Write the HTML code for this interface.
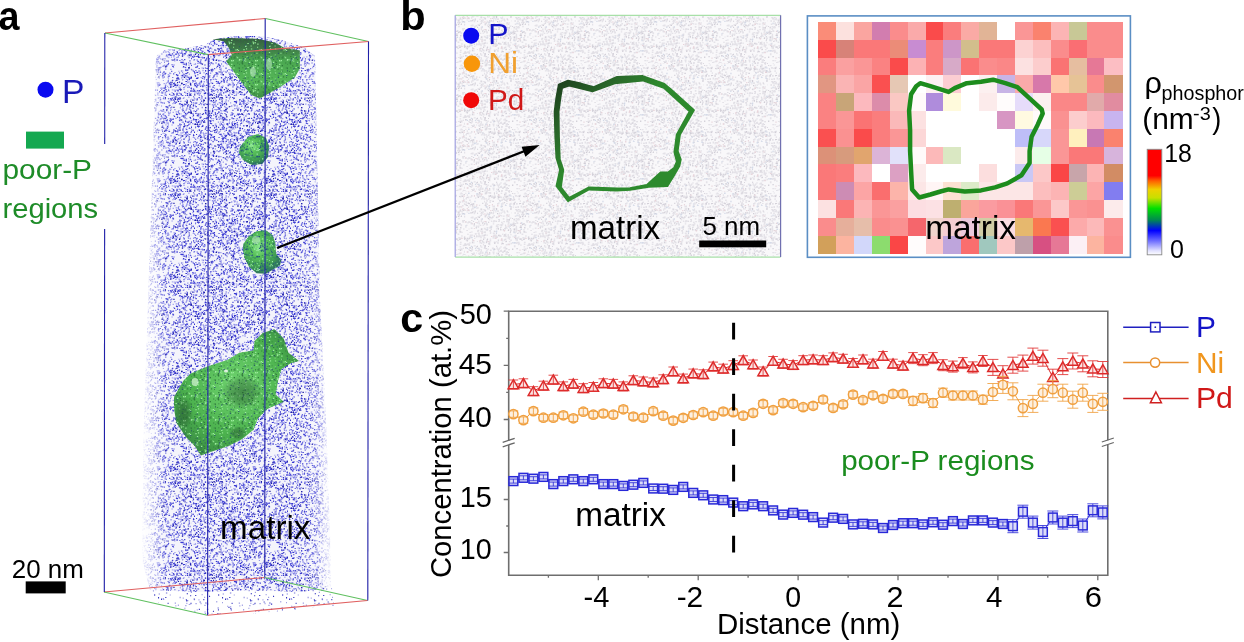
<!DOCTYPE html>
<html><head><meta charset="utf-8"><title>figure</title>
<style>html,body{margin:0;padding:0;background:#fff;}body{width:1244px;height:642px;overflow:hidden;font-family:"Liberation Sans",sans-serif;}svg{display:block;will-change:transform;}</style>
</head><body>
<svg width="1244" height="642" viewBox="0 0 1244 642" font-family="Liberation Sans, sans-serif">
<defs><pattern id="pc" width="96" height="96" patternUnits="userSpaceOnUse"><path d="M22.8 52.2h1.2v1.3h-1.2zM60.1 6.3h1.0v1.4h-1.0zM24.9 22.5h1.5v1.2h-1.5zM80.3 45.7h1.3v1.1h-1.3zM60.9 83.3h1.3v1.4h-1.3zM64.5 6.1h1.4v1.3h-1.4zM28.9 3.0h1.4v1.2h-1.4zM69.0 84.4h1.4v1.5h-1.4zM37.9 76.9h1.2v1.5h-1.2zM84.4 9.4h1.1v1.1h-1.1zM92.7 41.9h1.3v1.2h-1.3zM48.7 37.0h1.2v1.3h-1.2zM56.1 86.8h1.3v1.5h-1.3zM82.2 95.1h1.3v1.1h-1.3zM82.6 92.6h1.5v1.3h-1.5zM68.5 20.3h1.4v1.3h-1.4zM27.4 6.1h1.4v1.5h-1.4zM8.5 76.9h1.2v1.1h-1.2zM28.2 73.8h1.4v1.0h-1.4zM59.0 4.3h1.4v1.2h-1.4zM84.6 94.1h1.3v1.5h-1.3zM29.7 7.4h1.3v1.0h-1.3zM18.9 39.2h1.3v1.1h-1.3zM4.1 83.3h1.2v1.5h-1.2zM86.1 36.3h1.2v1.3h-1.2zM61.8 57.2h1.3v1.3h-1.3zM90.3 48.7h1.2v1.4h-1.2zM22.8 28.9h1.5v1.3h-1.5zM52.6 1.1h1.2v1.3h-1.2zM1.9 59.1h1.3v1.0h-1.3zM60.2 44.8h1.3v1.2h-1.3zM67.9 70.9h1.0v1.0h-1.0zM64.9 92.5h1.1v1.2h-1.1zM56.9 30.7h1.2v1.2h-1.2zM35.4 57.2h1.2v1.2h-1.2zM74.1 2.6h1.3v1.4h-1.3zM29.8 21.4h1.4v1.1h-1.4zM18.0 41.8h1.3v1.1h-1.3zM30.9 32.0h1.4v1.2h-1.4zM82.1 16.3h1.2v1.3h-1.2zM85.0 43.3h1.1v1.1h-1.1zM50.8 18.3h1.4v1.4h-1.4zM17.6 26.7h1.4v1.3h-1.4zM77.4 33.1h1.1v1.1h-1.1zM76.2 26.0h1.2v1.2h-1.2zM40.3 39.3h1.5v1.1h-1.5zM0.4 90.6h1.4v1.5h-1.4zM41.7 91.2h1.5v1.1h-1.5zM71.6 80.3h1.3v1.3h-1.3zM27.7 32.7h1.1v1.0h-1.1zM56.5 27.6h1.4v1.0h-1.4zM86.7 66.6h1.5v1.4h-1.5zM86.4 55.4h1.0v1.4h-1.0zM16.5 28.8h1.3v1.3h-1.3zM39.7 90.1h1.3v1.2h-1.3zM24.2 82.7h1.2v1.4h-1.2zM33.8 18.9h1.3v1.4h-1.3zM16.4 76.0h1.5v1.4h-1.5zM79.1 0.7h1.3v1.4h-1.3zM4.8 26.1h1.1v1.3h-1.1zM40.6 45.4h1.4v1.0h-1.4zM5.3 12.2h1.1v1.0h-1.1zM93.6 82.0h1.0v1.3h-1.0zM30.3 30.2h1.2v1.3h-1.2zM56.3 34.6h1.1v1.2h-1.1zM11.9 53.3h1.4v1.2h-1.4zM7.7 17.1h1.2v1.3h-1.2zM75.1 36.5h1.4v1.3h-1.4zM41.4 35.8h1.2v1.4h-1.2zM40.4 66.6h1.2v1.1h-1.2zM51.4 66.7h1.0v1.2h-1.0zM40.9 84.4h1.5v1.2h-1.5zM86.2 75.9h1.1v1.2h-1.1zM11.8 78.1h1.3v1.4h-1.3zM76.1 64.1h1.4v1.3h-1.4zM9.9 56.4h1.0v1.1h-1.0zM74.3 4.3h1.0v1.0h-1.0zM84.5 17.2h1.0v1.4h-1.0zM11.6 81.0h1.3v1.4h-1.3zM91.4 55.6h1.4v1.0h-1.4zM73.7 49.1h1.4v1.1h-1.4zM71.9 89.7h1.0v1.2h-1.0zM54.1 79.5h1.1v1.1h-1.1zM24.0 59.1h1.4v1.2h-1.4zM35.3 38.1h1.2v1.2h-1.2zM8.0 48.0h1.5v1.2h-1.5zM71.8 15.4h1.3v1.4h-1.3zM64.7 49.6h1.2v1.3h-1.2zM86.2 14.3h1.0v1.4h-1.0zM88.0 49.7h1.2v1.4h-1.2zM17.9 25.7h1.1v1.3h-1.1zM30.2 22.3h1.3v1.5h-1.3zM28.4 67.7h1.2v1.4h-1.2zM56.1 25.6h1.1v1.0h-1.1zM46.0 36.7h1.1v1.2h-1.1zM30.9 74.3h1.1v1.5h-1.1zM46.0 57.5h1.2v1.4h-1.2zM78.9 53.5h1.2v1.4h-1.2zM82.2 38.4h1.4v1.5h-1.4zM44.9 22.0h1.1v1.4h-1.1zM64.8 92.0h1.4v1.1h-1.4zM18.2 24.8h1.1v1.4h-1.1zM82.4 86.4h1.1v1.4h-1.1zM30.1 40.6h1.4v1.0h-1.4zM8.9 80.1h1.1v1.2h-1.1zM55.7 64.8h1.0v1.2h-1.0zM41.9 46.6h1.1v1.3h-1.1zM91.7 37.5h1.3v1.1h-1.3zM26.4 63.9h1.1v1.4h-1.1zM87.2 9.3h1.5v1.2h-1.5zM74.2 72.7h1.1v1.3h-1.1zM62.8 77.4h1.1v1.4h-1.1zM92.3 64.6h1.3v1.1h-1.3zM47.4 33.8h1.4v1.3h-1.4zM54.4 17.5h1.3v1.3h-1.3zM17.2 85.4h1.3v1.1h-1.3zM89.5 13.6h1.2v1.4h-1.2zM57.4 53.3h1.3v1.2h-1.3zM30.0 16.9h1.0v1.4h-1.0zM72.4 52.1h1.4v1.2h-1.4zM25.5 36.8h1.4v1.0h-1.4zM48.5 23.7h1.4v1.2h-1.4zM32.0 38.7h1.3v1.4h-1.3zM33.9 81.3h1.1v1.1h-1.1zM9.6 10.8h1.4v1.4h-1.4zM17.7 18.2h1.2v1.4h-1.2zM78.3 71.9h1.3v1.1h-1.3zM38.2 18.6h1.3v1.3h-1.3zM19.4 24.0h1.4v1.0h-1.4zM77.1 85.6h1.5v1.2h-1.5zM53.1 56.0h1.3v1.5h-1.3zM65.9 28.7h1.4v1.2h-1.4zM57.7 69.8h1.0v1.4h-1.0zM63.5 47.2h1.3v1.2h-1.3zM18.6 50.8h1.0v1.3h-1.0zM62.0 42.6h1.3v1.5h-1.3zM85.6 13.0h1.4v1.3h-1.4zM4.9 34.6h1.1v1.0h-1.1zM51.7 89.3h1.2v1.4h-1.2zM66.7 12.9h1.4v1.3h-1.4zM89.0 68.7h1.4v1.2h-1.4zM77.4 89.4h1.4v1.2h-1.4zM72.7 46.6h1.1v1.0h-1.1zM7.5 19.2h1.1v1.2h-1.1zM67.1 51.6h1.2v1.3h-1.2zM29.2 44.6h1.4v1.2h-1.4zM17.3 86.3h1.4v1.2h-1.4zM35.6 50.8h1.3v1.1h-1.3zM0.3 20.1h1.4v1.1h-1.4zM44.2 18.7h1.1v1.1h-1.1zM38.8 16.2h1.0v1.1h-1.0zM16.2 47.1h1.0v1.0h-1.0zM43.0 39.1h1.4v1.0h-1.4zM38.7 38.1h1.0v1.5h-1.0zM21.0 9.1h1.2v1.1h-1.2zM59.8 33.3h1.1v1.0h-1.1zM69.9 26.4h1.4v1.2h-1.4zM89.6 28.9h1.1v1.1h-1.1zM78.2 60.4h1.2v1.0h-1.2zM65.5 93.0h1.3v1.0h-1.3zM2.9 8.7h1.1v1.0h-1.1zM5.2 62.8h1.5v1.1h-1.5zM93.5 45.8h1.4v1.5h-1.4zM90.2 3.3h1.2v1.3h-1.2zM90.9 8.4h1.1v1.4h-1.1zM11.0 37.4h1.2v1.3h-1.2zM89.1 16.8h1.4v1.4h-1.4zM80.2 53.1h1.5v1.2h-1.5zM39.8 22.0h1.4v1.2h-1.4zM25.9 16.3h1.4v1.3h-1.4zM68.2 37.1h1.2v1.1h-1.2zM68.2 2.2h1.2v1.4h-1.2zM65.0 9.3h1.1v1.4h-1.1zM61.7 84.3h1.4v1.2h-1.4zM86.1 70.4h1.2v1.2h-1.2zM6.9 38.3h1.5v1.1h-1.5zM54.6 10.6h1.0v1.3h-1.0zM23.1 4.7h1.1v1.3h-1.1zM56.2 1.1h1.1v1.5h-1.1zM21.1 54.0h1.2v1.4h-1.2zM58.0 75.7h1.3v1.1h-1.3zM17.1 7.6h1.4v1.1h-1.4zM2.3 92.8h1.1v1.4h-1.1zM8.2 44.7h1.1v1.4h-1.1zM59.1 61.6h1.4v1.4h-1.4zM33.2 57.9h1.2v1.1h-1.2zM80.2 57.1h1.4v1.1h-1.4zM51.8 44.6h1.4v1.0h-1.4zM33.2 46.5h1.0v1.3h-1.0zM70.6 40.6h1.3v1.3h-1.3zM20.6 33.7h1.5v1.2h-1.5zM41.4 8.1h1.1v1.1h-1.1zM89.4 69.7h1.4v1.5h-1.4zM58.8 89.4h1.3v1.2h-1.3zM91.0 86.7h1.5v1.2h-1.5zM74.3 39.1h1.5v1.5h-1.5zM28.0 89.7h1.1v1.0h-1.1zM69.3 28.3h1.3v1.3h-1.3zM3.9 71.5h1.1v1.2h-1.1zM33.1 71.2h1.4v1.1h-1.4zM9.9 28.7h1.2v1.0h-1.2zM14.7 73.2h1.4v1.5h-1.4zM94.0 84.1h1.2v1.1h-1.2zM29.9 44.5h1.3v1.3h-1.3zM34.5 81.9h1.1v1.2h-1.1zM85.1 77.5h1.1v1.1h-1.1zM77.4 1.0h1.1v1.3h-1.1zM51.4 15.9h1.0v1.1h-1.0zM73.9 44.7h1.5v1.4h-1.5zM94.0 3.4h1.1v1.0h-1.1zM41.5 32.5h1.0v1.3h-1.0zM9.0 29.9h1.1v1.4h-1.1zM40.1 25.0h1.0v1.2h-1.0zM60.2 64.8h1.5v1.4h-1.5zM23.7 13.0h1.4v1.4h-1.4zM48.8 79.8h1.3v1.1h-1.3zM16.2 1.6h1.3v1.4h-1.3zM87.0 44.9h1.3v1.5h-1.3zM78.1 57.9h1.2v1.3h-1.2zM16.4 17.6h1.3v1.5h-1.3zM52.5 39.2h1.2v1.2h-1.2zM77.1 43.4h1.5v1.1h-1.5zM30.2 50.1h1.2v1.4h-1.2zM79.4 89.4h1.3v1.0h-1.3zM55.2 52.8h1.2v1.1h-1.2zM68.1 87.5h1.1v1.3h-1.1zM35.6 49.4h1.4v1.5h-1.4zM61.8 18.7h1.5v1.1h-1.5zM36.8 79.5h1.2v1.1h-1.2zM91.2 90.6h1.2v1.2h-1.2zM27.1 12.6h1.1v1.5h-1.1zM7.6 22.1h1.1v1.0h-1.1zM50.5 71.3h1.4v1.3h-1.4zM78.5 0.5h1.1v1.5h-1.1zM6.7 25.7h1.2v1.1h-1.2zM52.4 4.5h1.1v1.5h-1.1zM13.8 86.9h1.1v1.5h-1.1zM64.8 62.1h1.1v1.0h-1.1zM72.9 16.9h1.1v1.4h-1.1zM84.0 4.7h1.5v1.3h-1.5zM36.7 10.3h1.2v1.5h-1.2zM27.0 12.6h1.1v1.1h-1.1zM33.8 87.8h1.0v1.1h-1.0zM90.2 95.7h1.5v1.1h-1.5zM34.0 91.3h1.2v1.4h-1.2zM30.1 2.0h1.2v1.4h-1.2zM75.1 54.6h1.2v1.3h-1.2zM42.5 51.3h1.4v1.1h-1.4zM57.1 89.5h1.4v1.1h-1.4zM92.5 80.6h1.1v1.1h-1.1zM19.4 5.1h1.5v1.2h-1.5zM83.8 11.0h1.0v1.4h-1.0zM76.2 95.2h1.3v1.3h-1.3zM73.5 8.9h1.3v1.2h-1.3zM14.0 57.6h1.2v1.3h-1.2zM35.9 30.5h1.2v1.3h-1.2zM94.1 89.9h1.4v1.4h-1.4zM27.5 93.8h1.1v1.1h-1.1zM48.1 70.3h1.2v1.3h-1.2zM27.1 92.8h1.2v1.2h-1.2zM51.0 84.0h1.5v1.3h-1.5zM42.4 59.3h1.0v1.2h-1.0zM81.4 74.6h1.0v1.4h-1.0zM36.9 94.2h1.2v1.1h-1.2zM52.7 84.8h1.2v1.4h-1.2zM68.3 34.7h1.2v1.3h-1.2zM38.3 35.8h1.3v1.4h-1.3zM56.1 14.0h1.1v1.2h-1.1zM59.0 13.4h1.0v1.2h-1.0zM27.2 2.8h1.3v1.5h-1.3zM51.3 70.8h1.4v1.4h-1.4zM87.7 42.4h1.3v1.1h-1.3zM84.5 36.3h1.2v1.4h-1.2zM27.5 18.2h1.4v1.3h-1.4zM8.1 2.7h1.2v1.0h-1.2zM79.9 17.6h1.1v1.2h-1.1zM49.1 41.5h1.3v1.3h-1.3zM41.9 9.3h1.5v1.3h-1.5zM8.0 42.4h1.4v1.5h-1.4zM6.3 0.9h1.2v1.2h-1.2zM85.9 79.3h1.2v1.2h-1.2zM56.0 84.9h1.1v1.2h-1.1zM8.5 61.6h1.0v1.5h-1.0zM50.3 55.1h1.0v1.1h-1.0zM45.0 82.3h1.3v1.1h-1.3zM94.3 63.5h1.3v1.1h-1.3zM28.7 86.4h1.1v1.3h-1.1zM59.5 34.1h1.4v1.5h-1.4zM82.3 70.8h1.1v1.0h-1.1zM41.6 30.0h1.1v1.4h-1.1zM20.7 79.0h1.5v1.1h-1.5zM87.7 38.1h1.1v1.1h-1.1zM3.6 47.9h1.2v1.4h-1.2zM80.0 5.5h1.2v1.2h-1.2zM17.1 24.1h1.1v1.3h-1.1zM32.7 10.7h1.1v1.2h-1.1zM54.2 23.6h1.3v1.1h-1.3zM64.4 58.5h1.1v1.4h-1.1zM37.8 51.8h1.3v1.3h-1.3zM42.5 5.4h1.4v1.4h-1.4zM47.1 55.6h1.1v1.4h-1.1zM65.8 21.3h1.4v1.5h-1.4zM33.2 95.6h1.2v1.1h-1.2zM68.8 32.5h1.4v1.3h-1.4zM10.3 50.7h1.4v1.2h-1.4zM51.8 82.9h1.2v1.2h-1.2zM55.9 79.1h1.1v1.0h-1.1zM73.1 53.0h1.2v1.4h-1.2zM84.9 52.0h1.5v1.4h-1.5zM71.8 28.0h1.0v1.3h-1.0zM70.6 33.7h1.2v1.3h-1.2zM24.0 67.0h1.3v1.2h-1.3zM10.5 53.2h1.2v1.4h-1.2zM16.6 37.9h1.1v1.2h-1.1zM55.3 10.3h1.0v1.2h-1.0zM19.3 48.5h1.1v1.1h-1.1zM51.6 88.6h1.4v1.3h-1.4zM38.1 6.3h1.1v1.2h-1.1zM90.4 11.3h1.5v1.2h-1.5zM41.7 25.2h1.5v1.1h-1.5zM54.8 49.0h1.1v1.1h-1.1zM94.6 75.9h1.4v1.5h-1.4zM9.5 67.5h1.4v1.1h-1.4zM43.9 93.5h1.2v1.4h-1.2zM15.9 64.0h1.1v1.3h-1.1zM35.7 83.6h1.4v1.3h-1.4zM66.0 41.1h1.4v1.1h-1.4zM52.2 56.2h1.2v1.0h-1.2zM16.3 61.5h1.1v1.4h-1.1zM48.5 91.5h1.4v1.4h-1.4zM35.8 4.2h1.3v1.4h-1.3zM88.4 19.5h1.1v1.5h-1.1zM71.0 46.5h1.4v1.1h-1.4zM52.2 64.2h1.3v1.1h-1.3zM13.1 60.0h1.4v1.1h-1.4zM0.7 7.9h1.4v1.2h-1.4zM43.8 95.4h1.3v1.1h-1.3zM67.3 0.2h1.1v1.3h-1.1zM16.4 3.1h1.3v1.2h-1.3zM93.2 9.8h1.4v1.2h-1.4zM77.3 42.7h1.3v1.2h-1.3zM21.6 43.4h1.4v1.2h-1.4zM22.1 39.9h1.0v1.2h-1.0zM55.0 52.4h1.3v1.1h-1.3zM2.4 2.5h1.2v1.1h-1.2zM54.6 25.5h1.4v1.3h-1.4zM63.6 70.6h1.3v1.2h-1.3zM29.6 6.0h1.4v1.3h-1.4zM9.6 89.0h1.3v1.3h-1.3zM42.1 12.1h1.5v1.1h-1.5zM35.2 95.9h1.1v1.2h-1.1zM46.0 23.8h1.5v1.2h-1.5zM1.1 45.5h1.0v1.4h-1.0zM83.4 86.9h1.0v1.3h-1.0zM29.3 45.4h1.2v1.2h-1.2zM12.7 60.1h1.0v1.5h-1.0zM4.2 92.6h1.1v1.0h-1.1zM71.5 51.0h1.4v1.3h-1.4zM60.5 7.9h1.3v1.3h-1.3zM92.4 0.6h1.0v1.3h-1.0zM88.9 40.5h1.4v1.3h-1.4zM37.5 44.7h1.3v1.0h-1.3zM29.3 70.9h1.1v1.2h-1.1zM24.6 34.3h1.3v1.4h-1.3zM91.9 45.8h1.1v1.2h-1.1zM5.6 23.0h1.3v1.3h-1.3zM23.2 17.4h1.0v1.1h-1.0zM48.1 24.5h1.4v1.3h-1.4zM32.7 41.4h1.0v1.4h-1.0zM72.1 34.9h1.4v1.1h-1.4zM21.1 21.9h1.1v1.3h-1.1zM61.6 69.9h1.1v1.4h-1.1zM45.9 36.3h1.3v1.2h-1.3zM19.2 37.9h1.3v1.4h-1.3zM87.8 18.7h1.4v1.4h-1.4zM68.4 94.0h1.1v1.4h-1.1zM86.3 11.7h1.3v1.5h-1.3zM28.1 82.1h1.5v1.2h-1.5zM13.9 20.7h1.4v1.2h-1.4zM30.3 42.5h1.5v1.1h-1.5zM1.8 91.1h1.2v1.2h-1.2zM93.7 27.1h1.0v1.4h-1.0zM23.4 21.3h1.5v1.1h-1.5zM86.5 32.0h1.2v1.1h-1.2zM52.1 53.8h1.2v1.3h-1.2zM28.6 80.4h1.5v1.4h-1.5zM78.7 6.8h1.1v1.1h-1.1zM14.9 93.0h1.5v1.5h-1.5zM53.6 11.2h1.2v1.0h-1.2zM86.8 25.5h1.1v1.5h-1.1zM19.2 88.6h1.2v1.3h-1.2zM10.2 86.2h1.2v1.2h-1.2zM62.8 57.0h1.1v1.1h-1.1zM55.2 2.4h1.4v1.2h-1.4zM16.3 31.5h1.1v1.2h-1.1zM52.1 39.1h1.2v1.1h-1.2zM46.7 74.8h1.2v1.4h-1.2zM46.3 11.6h1.1v1.4h-1.1zM46.0 36.7h1.3v1.4h-1.3zM36.0 34.7h1.2v1.0h-1.2zM52.3 46.0h1.2v1.2h-1.2zM45.4 68.7h1.1v1.5h-1.1zM11.0 83.2h1.1v1.4h-1.1zM25.0 7.5h1.3v1.4h-1.3zM81.2 84.2h1.5v1.0h-1.5zM36.4 10.3h1.4v1.2h-1.4zM71.4 76.4h1.5v1.3h-1.5zM84.0 52.7h1.0v1.4h-1.0zM8.7 8.2h1.4v1.1h-1.4zM63.6 2.7h1.1v1.4h-1.1zM3.6 49.0h1.5v1.1h-1.5zM67.7 71.4h1.3v1.4h-1.3zM67.0 1.4h1.1v1.3h-1.1zM93.1 20.8h1.3v1.1h-1.3zM81.3 42.7h1.3v1.3h-1.3zM13.1 70.0h1.4v1.4h-1.4zM27.0 22.5h1.1v1.4h-1.1zM42.1 37.4h1.3v1.3h-1.3zM30.5 32.3h1.4v1.4h-1.4zM28.4 7.1h1.5v1.4h-1.5zM57.0 38.8h1.5v1.2h-1.5zM20.8 9.6h1.2v1.3h-1.2zM35.0 90.9h1.3v1.2h-1.3zM63.4 57.8h1.3v1.2h-1.3zM50.2 47.2h1.4v1.1h-1.4zM75.4 28.6h1.4v1.0h-1.4zM46.6 42.5h1.4v1.1h-1.4zM25.2 12.8h1.3v1.3h-1.3zM0.0 17.1h1.1v1.5h-1.1zM43.7 54.3h1.1v1.3h-1.1zM78.0 64.4h1.0v1.2h-1.0zM46.9 4.3h1.4v1.2h-1.4zM28.2 60.0h1.3v1.2h-1.3zM82.5 49.8h1.2v1.0h-1.2zM53.1 34.9h1.3v1.2h-1.3zM0.7 3.6h1.1v1.0h-1.1zM81.7 55.8h1.1v1.4h-1.1zM60.9 6.0h1.4v1.1h-1.4zM95.7 13.6h1.1v1.1h-1.1zM82.8 78.6h1.3v1.1h-1.3zM41.2 67.4h1.0v1.5h-1.0zM80.8 89.4h1.3v1.3h-1.3zM93.6 25.6h1.2v1.1h-1.2zM17.3 76.7h1.0v1.4h-1.0zM38.0 84.3h1.4v1.3h-1.4zM81.1 4.1h1.1v1.2h-1.1zM41.2 64.4h1.4v1.4h-1.4zM89.2 66.8h1.2v1.3h-1.2zM71.9 78.2h1.2v1.2h-1.2zM59.0 21.9h1.4v1.0h-1.4zM62.3 46.6h1.1v1.3h-1.1zM45.5 92.4h1.4v1.3h-1.4zM83.7 84.8h1.1v1.4h-1.1zM80.0 95.1h1.4v1.2h-1.4zM19.8 62.7h1.1v1.4h-1.1zM55.1 79.3h1.2v1.2h-1.2zM86.8 63.6h1.2v1.3h-1.2zM41.8 61.7h1.3v1.1h-1.3zM94.0 85.0h1.4v1.1h-1.4zM18.6 70.2h1.4v1.3h-1.4zM20.5 69.2h1.3v1.2h-1.3zM56.5 43.1h1.3v1.4h-1.3zM94.3 10.7h1.3v1.5h-1.3zM63.1 55.6h1.4v1.0h-1.4zM76.1 59.8h1.3v1.2h-1.3zM59.4 12.0h1.3v1.1h-1.3zM89.4 77.2h1.2v1.4h-1.2zM36.9 50.3h1.1v1.4h-1.1zM73.3 73.0h1.0v1.4h-1.0zM1.2 54.3h1.2v1.0h-1.2zM40.5 85.2h1.3v1.2h-1.3zM78.2 34.1h1.4v1.2h-1.4zM7.4 93.3h1.0v1.1h-1.0zM74.0 11.1h1.3v1.4h-1.3zM56.6 33.4h1.4v1.4h-1.4zM55.6 60.2h1.2v1.2h-1.2zM95.2 93.3h1.0v1.1h-1.0zM21.6 76.1h1.1v1.1h-1.1zM73.5 16.2h1.5v1.2h-1.5zM86.3 78.7h1.1v1.4h-1.1zM39.8 21.3h1.0v1.4h-1.0zM53.9 29.1h1.4v1.1h-1.4zM42.7 8.4h1.2v1.4h-1.2zM48.0 14.7h1.1v1.3h-1.1zM26.7 85.2h1.0v1.4h-1.0zM59.7 78.9h1.2v1.0h-1.2zM16.5 60.2h1.0v1.1h-1.0zM75.1 84.3h1.4v1.4h-1.4zM53.3 84.0h1.3v1.3h-1.3zM40.9 2.3h1.0v1.1h-1.0zM44.2 11.6h1.5v1.3h-1.5zM71.1 85.7h1.1v1.4h-1.1zM92.0 25.7h1.1v1.4h-1.1zM85.4 76.7h1.2v1.3h-1.2zM10.9 22.5h1.2v1.4h-1.2zM8.5 89.1h1.0v1.5h-1.0zM22.7 78.6h1.4v1.5h-1.4zM45.1 67.1h1.1v1.4h-1.1zM10.5 84.8h1.3v1.0h-1.3zM90.4 30.3h1.0v1.1h-1.0zM2.6 27.0h1.4v1.5h-1.4zM60.6 82.0h1.4v1.4h-1.4zM36.9 24.2h1.1v1.3h-1.1zM19.6 71.0h1.2v1.3h-1.2zM52.5 60.3h1.1v1.1h-1.1zM66.1 20.5h1.3v1.5h-1.3zM37.4 92.3h1.3v1.5h-1.3zM50.5 72.3h1.3v1.1h-1.3zM49.7 55.8h1.2v1.3h-1.2zM87.3 76.3h1.4v1.1h-1.4zM67.5 60.2h1.5v1.0h-1.5zM16.6 93.7h1.2v1.4h-1.2zM56.8 38.2h1.2v1.3h-1.2zM94.6 51.2h1.4v1.2h-1.4zM68.3 58.0h1.4v1.4h-1.4zM7.7 92.8h1.3v1.1h-1.3zM44.6 9.3h1.1v1.4h-1.1zM68.3 83.2h1.1v1.1h-1.1zM36.4 47.6h1.4v1.1h-1.4zM70.8 56.1h1.1v1.4h-1.1zM7.1 56.9h1.1v1.0h-1.1zM45.9 49.9h1.3v1.2h-1.3zM89.2 75.3h1.1v1.0h-1.1zM92.2 39.5h1.1v1.1h-1.1zM67.2 17.0h1.2v1.3h-1.2zM33.8 62.7h1.5v1.4h-1.5zM60.3 60.1h1.2v1.3h-1.2zM62.3 56.4h1.2v1.4h-1.2zM19.6 68.5h1.5v1.0h-1.5zM24.2 94.6h1.0v1.4h-1.0zM55.8 6.7h1.3v1.0h-1.3zM81.5 29.0h1.5v1.4h-1.5zM13.1 38.7h1.1v1.4h-1.1zM9.2 7.1h1.1v1.4h-1.1zM23.7 31.0h1.2v1.3h-1.2zM39.7 90.9h1.2v1.2h-1.2zM82.8 23.4h1.1v1.4h-1.1zM30.3 85.6h1.4v1.2h-1.4zM32.0 9.7h1.4v1.2h-1.4zM32.8 16.9h1.1v1.4h-1.1zM12.5 53.2h1.3v1.3h-1.3zM48.2 38.2h1.1v1.4h-1.1zM86.1 54.1h1.1v1.5h-1.1zM19.4 16.4h1.3v1.4h-1.3zM54.9 10.5h1.5v1.1h-1.5zM33.0 94.9h1.4v1.4h-1.4zM7.3 81.8h1.2v1.0h-1.2zM75.8 89.3h1.0v1.2h-1.0zM86.5 31.9h1.2v1.4h-1.2zM42.4 95.8h1.4v1.4h-1.4zM67.9 18.7h1.3v1.3h-1.3zM46.3 54.4h1.2v1.1h-1.2zM87.6 35.2h1.1v1.5h-1.1zM49.0 64.9h1.2v1.1h-1.2zM31.9 80.0h1.1v1.5h-1.1zM29.2 86.1h1.1v1.2h-1.1zM12.4 14.3h1.3v1.2h-1.3zM51.6 20.8h1.2v1.2h-1.2zM86.2 7.8h1.2v1.4h-1.2zM54.9 24.5h1.5v1.1h-1.5zM13.1 1.6h1.2v1.4h-1.2zM27.1 27.4h1.4v1.0h-1.4zM1.7 63.7h1.0v1.3h-1.0zM13.9 57.8h1.4v1.2h-1.4zM26.2 59.8h1.4v1.0h-1.4zM23.0 36.2h1.3v1.1h-1.3zM63.2 24.5h1.5v1.2h-1.5zM21.3 7.5h1.1v1.1h-1.1zM84.7 40.0h1.2v1.5h-1.2zM92.8 73.5h1.1v1.2h-1.1zM48.5 24.8h1.2v1.1h-1.2zM23.2 71.9h1.3v1.2h-1.3zM45.3 58.9h1.3v1.0h-1.3zM81.0 44.4h1.2v1.5h-1.2zM72.6 33.6h1.0v1.2h-1.0zM42.2 36.0h1.0v1.3h-1.0zM24.5 73.1h1.3v1.1h-1.3zM79.3 43.0h1.0v1.1h-1.0zM5.1 41.2h1.5v1.5h-1.5zM62.6 14.8h1.1v1.1h-1.1zM35.8 61.3h1.0v1.2h-1.0zM40.9 63.5h1.4v1.2h-1.4zM57.9 26.1h1.2v1.3h-1.2zM5.0 49.3h1.3v1.1h-1.3zM23.9 79.1h1.2v1.1h-1.2zM27.3 50.0h1.2v1.2h-1.2zM31.0 20.8h1.3v1.3h-1.3zM8.6 56.7h1.2v1.5h-1.2zM90.0 12.6h1.3v1.2h-1.3zM10.7 84.1h1.5v1.4h-1.5zM61.1 93.9h1.3v1.3h-1.3zM62.7 82.5h1.4v1.2h-1.4zM20.0 52.4h1.3v1.2h-1.3zM82.6 81.5h1.3v1.3h-1.3zM66.8 18.7h1.4v1.1h-1.4zM86.7 60.1h1.1v1.1h-1.1zM57.6 44.5h1.3v1.0h-1.3zM84.0 41.2h1.2v1.4h-1.2zM58.2 42.7h1.1v1.2h-1.1zM3.0 24.6h1.4v1.1h-1.4zM8.3 81.4h1.2v1.3h-1.2zM56.4 68.9h1.2v1.4h-1.2zM0.1 81.4h1.2v1.3h-1.2zM29.2 71.9h1.2v1.3h-1.2zM30.8 79.9h1.4v1.1h-1.4zM72.6 90.5h1.1v1.1h-1.1zM89.4 92.4h1.1v1.4h-1.1zM89.3 25.3h1.4v1.1h-1.4zM75.6 48.8h1.2v1.1h-1.2zM62.6 67.2h1.1v1.0h-1.1zM8.7 24.9h1.5v1.4h-1.5zM86.0 72.0h1.1v1.2h-1.1zM91.2 81.8h1.5v1.4h-1.5zM68.2 73.3h1.5v1.2h-1.5zM3.2 30.0h1.0v1.1h-1.0zM56.6 26.4h1.1v1.0h-1.1zM34.4 49.5h1.3v1.5h-1.3zM6.8 24.5h1.0v1.5h-1.0zM60.7 63.0h1.4v1.0h-1.4zM86.7 31.9h1.3v1.2h-1.3zM71.6 29.0h1.1v1.1h-1.1zM69.6 43.8h1.1v1.2h-1.1zM54.5 35.8h1.3v1.4h-1.3zM61.5 76.9h1.2v1.4h-1.2zM90.3 50.9h1.0v1.0h-1.0zM72.7 83.3h1.4v1.3h-1.4zM51.9 11.1h1.3v1.5h-1.3zM19.7 58.6h1.4v1.3h-1.4zM33.7 22.8h1.4v1.5h-1.4zM84.3 38.5h1.4v1.4h-1.4zM36.0 72.5h1.2v1.1h-1.2zM0.0 69.6h1.4v1.0h-1.4zM6.0 30.6h1.1v1.4h-1.1zM18.2 56.2h1.3v1.2h-1.3zM82.1 42.0h1.3v1.3h-1.3zM38.8 17.8h1.5v1.4h-1.5zM52.4 47.6h1.3v1.1h-1.3zM7.0 52.3h1.4v1.0h-1.4zM94.2 35.9h1.5v1.4h-1.5zM26.1 20.4h1.4v1.5h-1.4zM77.3 56.1h1.3v1.4h-1.3zM79.0 80.1h1.1v1.4h-1.1zM91.5 55.1h1.0v1.1h-1.0zM62.5 40.8h1.5v1.3h-1.5zM67.1 14.5h1.3v1.4h-1.3zM88.0 86.6h1.1v1.3h-1.1zM94.0 8.6h1.0v1.1h-1.0zM70.2 31.2h1.4v1.4h-1.4zM77.6 3.8h1.3v1.4h-1.3zM67.5 82.9h1.4v1.3h-1.4zM83.1 52.3h1.1v1.1h-1.1zM89.5 32.3h1.2v1.4h-1.2zM65.8 75.9h1.2v1.3h-1.2zM7.4 19.2h1.1v1.3h-1.1zM50.5 6.9h1.3v1.1h-1.3zM37.0 2.5h1.2v1.1h-1.2zM90.3 34.8h1.4v1.2h-1.4zM31.4 80.6h1.1v1.3h-1.1zM61.4 95.4h1.4v1.0h-1.4zM43.8 91.4h1.4v1.2h-1.4zM12.3 25.8h1.4v1.1h-1.4zM85.6 25.5h1.3v1.3h-1.3zM23.3 49.8h1.3v1.1h-1.3zM51.1 60.2h1.5v1.1h-1.5zM16.7 48.7h1.3v1.2h-1.3zM87.6 19.4h1.3v1.2h-1.3zM19.0 43.7h1.2v1.2h-1.2zM74.2 94.7h1.5v1.1h-1.5zM35.7 91.1h1.0v1.0h-1.0zM6.2 92.2h1.3v1.2h-1.3zM9.4 84.9h1.5v1.3h-1.5zM87.6 54.5h1.2v1.1h-1.2zM29.2 14.4h1.2v1.0h-1.2zM3.9 86.1h1.4v1.4h-1.4zM33.8 43.3h1.3v1.4h-1.3zM29.1 49.2h1.3v1.4h-1.3zM33.5 0.3h1.2v1.4h-1.2zM16.8 60.1h1.1v1.1h-1.1zM60.0 9.9h1.2v1.3h-1.2zM37.3 72.6h1.4v1.1h-1.4zM73.0 72.5h1.3v1.3h-1.3zM54.5 71.0h1.3v1.1h-1.3zM62.4 68.3h1.2v1.4h-1.2zM30.2 52.9h1.3v1.3h-1.3zM17.7 64.1h1.1v1.3h-1.1zM43.3 66.8h1.4v1.5h-1.4zM22.0 87.4h1.2v1.3h-1.2zM3.9 82.5h1.1v1.1h-1.1zM29.3 22.5h1.1v1.1h-1.1zM51.2 34.6h1.4v1.5h-1.4zM89.5 36.0h1.3v1.4h-1.3zM69.6 38.3h1.1v1.4h-1.1zM63.0 33.7h1.3v1.0h-1.3zM75.2 86.2h1.5v1.1h-1.5zM66.4 75.0h1.1v1.3h-1.1zM18.2 20.9h1.0v1.1h-1.0zM81.6 56.3h1.4v1.5h-1.4zM14.5 81.3h1.4v1.3h-1.4zM32.0 16.9h1.2v1.2h-1.2zM25.0 64.7h1.3v1.1h-1.3zM16.6 47.9h1.4v1.3h-1.4zM61.5 86.1h1.4v1.2h-1.4zM71.6 63.8h1.2v1.1h-1.2zM36.2 68.9h1.4v1.2h-1.4zM52.0 7.2h1.3v1.2h-1.3zM73.7 82.7h1.0v1.5h-1.0zM16.5 92.5h1.5v1.1h-1.5zM28.0 13.9h1.5v1.4h-1.5zM92.8 77.5h1.2v1.4h-1.2zM34.2 31.6h1.2v1.4h-1.2zM30.4 53.8h1.3v1.4h-1.3zM45.1 40.4h1.3v1.2h-1.3zM70.2 10.3h1.1v1.0h-1.1zM39.7 81.5h1.3v1.3h-1.3zM89.8 78.9h1.1v1.1h-1.1zM51.6 22.0h1.3v1.0h-1.3zM37.5 69.3h1.1v1.1h-1.1zM71.9 18.6h1.5v1.3h-1.5zM85.3 51.1h1.2v1.1h-1.2zM5.6 91.5h1.1v1.0h-1.1zM89.5 51.5h1.3v1.5h-1.3zM70.3 24.9h1.1v1.3h-1.1zM65.3 21.6h1.1v1.3h-1.1zM5.7 77.2h1.3v1.1h-1.3zM55.6 56.8h1.0v1.2h-1.0zM76.0 43.7h1.4v1.1h-1.4zM95.8 64.2h1.3v1.0h-1.3zM34.2 0.2h1.2v1.1h-1.2zM23.5 29.4h1.1v1.1h-1.1zM48.4 12.9h1.3v1.5h-1.3zM69.2 91.6h1.1v1.3h-1.1zM23.1 89.7h1.2v1.4h-1.2zM74.5 12.7h1.1v1.4h-1.1zM78.6 41.7h1.0v1.0h-1.0zM76.9 66.7h1.2v1.3h-1.2zM77.6 0.7h1.4v1.5h-1.4zM83.4 84.9h1.2v1.3h-1.2zM11.0 76.1h1.3v1.2h-1.3zM4.8 17.2h1.2v1.5h-1.2zM45.3 83.1h1.1v1.1h-1.1zM22.7 27.6h1.4v1.2h-1.4zM30.7 65.4h1.2v1.4h-1.2zM66.8 79.9h1.2v1.2h-1.2zM43.4 94.8h1.5v1.3h-1.5zM47.4 6.9h1.4v1.3h-1.4zM39.6 16.1h1.2v1.4h-1.2zM25.8 25.5h1.3v1.2h-1.3zM0.7 6.0h1.2v1.4h-1.2zM36.7 1.5h1.1v1.1h-1.1zM73.4 21.9h1.5v1.1h-1.5zM17.3 1.8h1.2v1.3h-1.2zM75.0 64.2h1.3v1.0h-1.3zM89.0 23.8h1.1v1.1h-1.1zM56.4 62.9h1.2v1.1h-1.2zM1.1 57.0h1.4v1.1h-1.4zM23.1 72.2h1.4v1.1h-1.4zM94.8 68.8h1.4v1.2h-1.4zM92.8 42.4h1.3v1.5h-1.3zM80.1 16.9h1.1v1.1h-1.1zM11.5 85.0h1.3v1.2h-1.3zM35.4 47.7h1.2v1.4h-1.2zM39.9 83.2h1.4v1.4h-1.4zM72.0 16.5h1.2v1.4h-1.2zM34.2 54.9h1.1v1.4h-1.1zM32.0 34.7h1.4v1.0h-1.4zM0.7 40.8h1.2v1.1h-1.2zM37.7 73.8h1.4v1.5h-1.4zM76.3 7.1h1.2v1.2h-1.2zM2.7 74.9h1.1v1.4h-1.1zM64.9 25.6h1.2v1.2h-1.2zM18.7 1.1h1.2v1.1h-1.2zM24.4 75.6h1.4v1.2h-1.4zM2.4 73.3h1.1v1.1h-1.1zM72.2 86.9h1.1v1.3h-1.1zM85.2 49.9h1.2v1.1h-1.2zM2.7 85.6h1.4v1.1h-1.4zM62.0 18.5h1.4v1.2h-1.4zM66.8 51.3h1.0v1.3h-1.0zM62.8 4.4h1.0v1.1h-1.0zM69.3 93.8h1.2v1.4h-1.2zM68.2 26.2h1.2v1.4h-1.2zM46.3 48.6h1.4v1.1h-1.4zM44.2 49.9h1.3v1.3h-1.3zM26.0 45.5h1.2v1.1h-1.2zM75.5 92.1h1.3v1.2h-1.3zM35.5 43.5h1.2v1.1h-1.2zM91.1 35.2h1.1v1.3h-1.1zM0.5 33.9h1.3v1.4h-1.3zM29.1 5.0h1.5v1.0h-1.5zM40.2 49.1h1.5v1.2h-1.5zM23.2 27.4h1.2v1.1h-1.2zM86.4 49.3h1.4v1.1h-1.4zM64.0 87.6h1.1v1.5h-1.1zM27.3 68.9h1.5v1.2h-1.5zM89.4 38.0h1.2v1.5h-1.2zM57.8 5.1h1.1v1.3h-1.1zM32.6 5.5h1.4v1.2h-1.4zM86.8 35.2h1.1v1.2h-1.1zM79.3 86.8h1.3v1.1h-1.3zM50.7 25.2h1.2v1.0h-1.2zM1.8 89.5h1.4v1.1h-1.4zM59.1 3.9h1.4v1.3h-1.4zM69.1 41.3h1.2v1.4h-1.2zM30.5 7.4h1.1v1.5h-1.1zM26.7 6.1h1.3v1.1h-1.3zM41.0 74.3h1.1v1.2h-1.1zM89.5 83.4h1.4v1.0h-1.4zM93.4 53.8h1.1v1.5h-1.1zM11.8 94.6h1.0v1.0h-1.0zM45.4 58.4h1.3v1.4h-1.3zM10.4 69.7h1.2v1.5h-1.2zM60.1 66.2h1.1v1.5h-1.1zM27.8 20.0h1.2v1.4h-1.2zM31.0 45.2h1.3v1.1h-1.3zM11.4 39.0h1.4v1.3h-1.4zM20.4 63.1h1.4v1.4h-1.4zM17.6 4.1h1.5v1.4h-1.5zM26.2 71.2h1.3v1.3h-1.3zM34.5 64.1h1.2v1.2h-1.2zM31.1 70.7h1.4v1.1h-1.4zM7.2 24.2h1.4v1.2h-1.4zM1.0 81.0h1.2v1.0h-1.2zM71.7 48.7h1.4v1.4h-1.4zM79.1 84.7h1.2v1.4h-1.2zM47.5 62.6h1.1v1.3h-1.1zM7.1 82.6h1.1v1.3h-1.1zM80.8 79.4h1.4v1.2h-1.4zM6.7 94.6h1.2v1.4h-1.2zM39.3 42.3h1.3v1.3h-1.3zM74.9 56.4h1.1v1.3h-1.1zM9.0 82.0h1.1v1.2h-1.1zM56.7 32.8h1.4v1.4h-1.4zM31.9 41.2h1.4v1.3h-1.4zM61.1 32.3h1.3v1.3h-1.3zM86.4 33.7h1.4v1.1h-1.4zM27.9 22.3h1.5v1.0h-1.5zM27.6 45.0h1.4v1.3h-1.4zM11.7 37.5h1.4v1.1h-1.4zM11.7 79.1h1.0v1.0h-1.0zM18.0 80.2h1.2v1.2h-1.2zM51.9 85.6h1.0v1.1h-1.0zM38.6 61.6h1.1v1.2h-1.1zM54.6 6.2h1.2v1.0h-1.2zM87.4 1.1h1.1v1.3h-1.1zM22.1 55.2h1.2v1.5h-1.2zM54.6 33.9h1.1v1.2h-1.1zM74.2 68.7h1.4v1.3h-1.4zM89.7 38.4h1.3v1.5h-1.3zM75.8 45.5h1.4v1.4h-1.4zM28.2 38.4h1.4v1.2h-1.4zM33.7 51.5h1.0v1.1h-1.0zM94.7 23.9h1.4v1.0h-1.4zM29.5 49.5h1.2v1.5h-1.2zM92.0 28.6h1.1v1.5h-1.1zM76.3 49.8h1.0v1.0h-1.0zM66.1 65.8h1.2v1.2h-1.2zM26.5 35.6h1.2v1.3h-1.2zM39.8 32.4h1.1v1.3h-1.1zM89.9 17.7h1.4v1.3h-1.4zM22.2 13.0h1.4v1.1h-1.4zM11.4 8.7h1.4v1.2h-1.4zM0.1 27.0h1.3v1.2h-1.3zM14.1 81.5h1.3v1.1h-1.3zM30.6 24.5h1.0v1.3h-1.0zM26.3 63.4h1.4v1.2h-1.4zM27.4 35.1h1.2v1.0h-1.2zM37.4 30.0h1.1v1.4h-1.1zM66.8 46.9h1.0v1.4h-1.0zM36.4 84.6h1.3v1.1h-1.3zM72.2 56.8h1.2v1.4h-1.2zM31.7 13.8h1.0v1.3h-1.0zM26.3 15.2h1.0v1.4h-1.0zM26.8 82.5h1.4v1.4h-1.4zM21.5 90.5h1.3v1.4h-1.3zM87.2 30.5h1.2v1.4h-1.2zM27.9 9.5h1.0v1.3h-1.0zM29.5 90.9h1.0v1.2h-1.0zM68.3 58.3h1.4v1.3h-1.4zM83.8 92.9h1.4v1.3h-1.4zM38.3 50.9h1.1v1.1h-1.1zM49.9 42.1h1.2v1.0h-1.2zM94.2 31.9h1.2v1.2h-1.2zM53.3 74.9h1.5v1.3h-1.5zM90.0 35.2h1.2v1.2h-1.2zM92.7 12.3h1.1v1.4h-1.1zM22.9 6.3h1.2v1.2h-1.2zM43.7 22.4h1.2v1.1h-1.2zM16.8 48.7h1.1v1.1h-1.1zM89.2 85.1h1.2v1.3h-1.2zM9.3 1.8h1.3v1.5h-1.3zM7.5 43.7h1.4v1.0h-1.4zM56.3 25.1h1.4v1.4h-1.4zM84.8 75.0h1.0v1.3h-1.0zM53.7 28.9h1.1v1.2h-1.1zM40.5 39.1h1.5v1.1h-1.5zM82.2 13.9h1.3v1.2h-1.3zM37.8 45.8h1.1v1.1h-1.1zM39.5 18.4h1.4v1.3h-1.4zM60.4 66.7h1.1v1.0h-1.1zM7.6 84.8h1.2v1.5h-1.2zM31.1 37.0h1.3v1.4h-1.3zM41.0 46.4h1.2v1.1h-1.2zM87.0 86.9h1.2v1.1h-1.2zM83.6 44.6h1.4v1.2h-1.4zM7.7 71.6h1.1v1.5h-1.1zM16.3 32.8h1.0v1.1h-1.0zM62.4 8.8h1.1v1.0h-1.1zM1.3 49.4h1.1v1.4h-1.1zM65.1 48.5h1.5v1.5h-1.5zM29.5 74.4h1.3v1.1h-1.3zM75.3 3.4h1.3v1.5h-1.3zM62.5 66.9h1.3v1.2h-1.3zM10.6 36.3h1.2v1.4h-1.2zM84.4 93.1h1.2v1.4h-1.2zM86.7 2.0h1.3v1.0h-1.3zM7.7 42.5h1.4v1.1h-1.4zM30.9 46.4h1.3v1.1h-1.3zM16.6 1.3h1.2v1.5h-1.2zM17.9 72.5h1.3v1.4h-1.3zM77.2 5.9h1.2v1.4h-1.2zM62.0 82.1h1.0v1.4h-1.0zM38.0 75.6h1.3v1.2h-1.3zM50.5 2.5h1.5v1.4h-1.5zM62.3 62.1h1.4v1.2h-1.4zM23.3 62.3h1.5v1.4h-1.5zM76.6 15.8h1.2v1.1h-1.2zM54.2 86.5h1.3v1.3h-1.3zM41.0 16.9h1.1v1.5h-1.1zM87.2 62.6h1.3v1.1h-1.3zM2.2 2.4h1.0v1.1h-1.0zM94.2 55.4h1.1v1.0h-1.1zM1.7 1.3h1.1v1.2h-1.1zM15.0 21.9h1.3v1.1h-1.3zM13.0 74.1h1.1v1.3h-1.1zM27.4 66.9h1.0v1.1h-1.0zM83.0 28.1h1.3v1.1h-1.3zM10.3 40.7h1.2v1.0h-1.2zM50.7 40.6h1.2v1.4h-1.2zM85.3 39.1h1.2v1.4h-1.2zM72.8 49.2h1.3v1.2h-1.3zM69.6 55.5h1.4v1.2h-1.4zM6.4 83.1h1.3v1.4h-1.3zM71.7 74.1h1.2v1.4h-1.2zM59.2 39.1h1.1v1.0h-1.1zM22.1 30.7h1.2v1.3h-1.2zM92.2 54.1h1.3v1.0h-1.3zM66.8 51.3h1.4v1.2h-1.4zM61.8 49.1h1.4v1.2h-1.4zM79.2 83.4h1.3v1.3h-1.3zM67.8 49.8h1.5v1.5h-1.5zM47.8 66.0h1.1v1.5h-1.1zM59.4 2.5h1.0v1.4h-1.0zM75.0 59.3h1.2v1.1h-1.2zM46.4 87.1h1.3v1.0h-1.3zM19.8 8.1h1.4v1.4h-1.4zM88.9 41.3h1.2v1.0h-1.2zM24.5 33.0h1.2v1.2h-1.2zM69.9 82.4h1.2v1.4h-1.2zM28.0 25.6h1.4v1.0h-1.4zM7.2 95.3h1.2v1.2h-1.2zM74.1 85.5h1.2v1.4h-1.2zM12.4 85.3h1.2v1.2h-1.2zM1.5 6.6h1.2v1.1h-1.2zM63.4 95.7h1.1v1.4h-1.1zM56.1 59.4h1.4v1.2h-1.4zM79.6 15.3h1.3v1.3h-1.3zM19.0 22.0h1.5v1.3h-1.5zM47.7 48.1h1.4v1.3h-1.4zM21.3 90.1h1.4v1.4h-1.4zM68.1 64.6h1.2v1.5h-1.2zM68.4 15.7h1.4v1.2h-1.4zM5.8 84.7h1.1v1.2h-1.1zM9.1 50.1h1.3v1.4h-1.3zM91.5 85.0h1.3v1.2h-1.3zM90.1 21.9h1.2v1.3h-1.2zM35.3 54.5h1.1v1.1h-1.1zM2.0 41.3h1.1v1.4h-1.1zM24.5 18.4h1.4v1.1h-1.4zM80.5 50.9h1.1v1.4h-1.1zM95.7 29.5h1.3v1.3h-1.3zM91.2 94.8h1.0v1.2h-1.0zM77.5 40.2h1.3v1.3h-1.3zM1.2 3.7h1.4v1.2h-1.4zM42.6 53.6h1.4v1.4h-1.4zM8.0 60.6h1.0v1.3h-1.0zM78.3 45.9h1.2v1.4h-1.2zM66.5 87.8h1.3v1.2h-1.3zM66.5 46.8h1.0v1.1h-1.0zM92.1 62.0h1.0v1.4h-1.0zM72.7 4.5h1.5v1.1h-1.5zM48.7 68.3h1.2v1.2h-1.2zM45.9 60.6h1.5v1.4h-1.5zM95.0 77.3h1.2v1.2h-1.2zM87.4 88.5h1.2v1.4h-1.2zM33.4 5.3h1.2v1.4h-1.2zM51.3 78.2h1.4v1.4h-1.4zM28.6 87.4h1.0v1.3h-1.0zM8.0 36.8h1.4v1.4h-1.4zM95.3 53.8h1.3v1.1h-1.3zM46.6 87.1h1.2v1.4h-1.2z" fill="#9494ea"/><path d="M29.2 77.0h1.0v1.4h-1.0zM11.3 7.7h1.2v1.3h-1.2zM68.2 38.9h1.3v1.0h-1.3zM31.5 27.7h1.0v0.9h-1.0zM20.5 52.0h1.2v1.1h-1.2zM58.7 31.8h1.3v0.9h-1.3zM74.1 86.4h1.2v1.2h-1.2zM94.3 13.9h0.9v1.2h-0.9zM69.4 51.4h1.1v1.1h-1.1zM44.2 84.2h0.9v1.2h-0.9zM8.9 80.9h1.0v1.3h-1.0zM30.7 60.9h1.2v1.4h-1.2zM45.4 49.2h1.2v1.0h-1.2zM90.3 32.9h1.0v1.0h-1.0zM69.0 86.7h1.2v1.4h-1.2zM21.5 85.0h1.3v1.0h-1.3zM8.9 40.6h1.1v1.1h-1.1zM69.2 21.9h1.0v1.1h-1.0zM15.5 42.3h1.2v1.0h-1.2zM13.1 70.1h0.9v1.3h-0.9zM59.0 21.8h0.9v1.3h-0.9zM2.1 72.4h1.2v1.2h-1.2zM19.3 70.1h1.0v1.2h-1.0zM92.6 57.2h1.0v1.0h-1.0zM39.2 79.7h1.3v1.1h-1.3zM56.3 34.0h1.1v1.1h-1.1zM90.7 35.8h1.1v1.2h-1.1zM21.1 10.8h1.1v1.3h-1.1zM35.2 27.1h1.0v1.2h-1.0zM25.9 51.2h1.2v0.9h-1.2zM30.9 78.8h1.0v1.3h-1.0zM7.3 46.9h1.1v1.2h-1.1zM0.4 11.7h1.1v1.4h-1.1zM48.2 82.7h1.2v1.4h-1.2zM7.5 83.4h1.0v1.0h-1.0zM50.5 40.1h1.4v1.4h-1.4zM69.5 23.6h1.0v1.1h-1.0zM30.8 21.0h1.0v1.0h-1.0zM28.7 10.6h1.1v1.4h-1.1zM80.4 59.3h1.4v1.4h-1.4zM8.9 4.5h1.1v1.2h-1.1zM95.8 2.6h1.2v1.3h-1.2zM25.2 73.6h1.3v0.9h-1.3zM63.2 45.4h1.3v1.0h-1.3zM63.6 1.1h0.9v1.1h-0.9zM33.3 41.5h1.0v1.4h-1.0zM39.8 47.8h1.1v1.3h-1.1zM15.9 89.4h1.0v1.3h-1.0zM41.0 57.5h1.0v1.3h-1.0zM21.2 75.5h1.2v1.3h-1.2zM94.9 77.0h1.0v1.3h-1.0zM9.8 77.8h1.4v1.0h-1.4zM3.9 77.8h1.1v1.2h-1.1zM78.6 90.4h1.2v1.3h-1.2zM87.5 74.0h1.1v1.4h-1.1zM40.4 86.5h1.1v1.1h-1.1zM3.4 10.1h1.4v1.1h-1.4zM70.1 45.5h1.3v1.2h-1.3zM13.8 30.3h1.2v1.0h-1.2zM90.5 5.8h1.2v1.3h-1.2zM70.2 14.0h1.0v1.3h-1.0zM39.3 9.4h1.0v1.2h-1.0zM2.4 27.7h1.4v1.0h-1.4zM81.7 2.5h1.0v0.9h-1.0zM70.2 54.5h1.3v1.3h-1.3zM69.3 10.3h1.1v0.9h-1.1zM76.5 36.1h1.1v1.3h-1.1zM95.1 58.0h1.1v1.3h-1.1zM81.1 20.6h1.1v1.4h-1.1zM94.5 87.8h1.1v1.0h-1.1zM85.5 19.7h1.2v1.1h-1.2zM81.3 35.2h1.1v1.3h-1.1zM69.7 95.8h1.0v1.0h-1.0zM65.0 47.7h1.3v1.1h-1.3zM4.6 45.7h1.0v1.3h-1.0zM77.6 82.9h1.0v1.2h-1.0zM19.0 93.9h1.0v1.2h-1.0zM68.9 19.3h1.2v1.0h-1.2zM5.1 27.2h0.9v1.1h-0.9zM65.2 88.8h1.0v1.1h-1.0zM66.2 30.3h1.1v1.1h-1.1zM80.1 34.7h1.3v1.0h-1.3zM29.6 27.9h1.0v1.0h-1.0zM38.0 78.2h1.2v1.4h-1.2zM30.3 29.2h1.0v1.1h-1.0zM11.9 77.2h1.1v0.9h-1.1zM48.5 41.2h1.0v1.1h-1.0zM64.3 95.8h1.2v1.0h-1.2zM3.1 31.2h1.0v1.1h-1.0zM43.2 26.9h1.0v1.4h-1.0zM91.0 69.5h1.4v1.2h-1.4zM71.2 42.4h1.2v1.3h-1.2zM67.8 76.5h1.2v1.1h-1.2zM77.0 86.1h1.0v1.0h-1.0zM0.7 23.5h1.0v1.0h-1.0zM15.9 30.4h1.0v1.4h-1.0zM6.7 1.2h1.4v1.1h-1.4zM71.8 30.6h0.9v0.9h-0.9zM88.6 4.8h1.1v1.0h-1.1zM61.8 36.2h1.3v1.0h-1.3zM51.7 94.1h1.2v1.4h-1.2zM4.7 84.5h1.1v1.4h-1.1zM67.3 24.6h1.3v1.0h-1.3zM50.7 71.1h1.0v0.9h-1.0zM80.7 18.1h1.3v1.1h-1.3zM18.6 82.6h1.1v1.0h-1.1zM86.2 94.9h1.1v1.4h-1.1zM10.4 76.1h1.2v1.0h-1.2zM38.1 30.7h1.2v1.1h-1.2zM41.1 64.0h1.1v0.9h-1.1zM47.4 83.1h1.0v1.0h-1.0zM87.7 15.6h1.4v1.1h-1.4zM20.0 69.4h1.3v1.1h-1.3zM26.0 12.3h0.9v1.3h-0.9zM71.1 30.2h1.1v1.3h-1.1zM66.9 65.4h1.4v1.0h-1.4zM93.4 60.2h1.1v1.2h-1.1zM29.3 39.5h1.3v1.3h-1.3zM57.4 77.4h1.3v1.1h-1.3zM7.2 90.3h0.9v1.1h-0.9zM9.8 51.6h1.3v0.9h-1.3zM47.7 38.7h1.2v1.3h-1.2zM64.6 5.8h1.1v1.1h-1.1zM15.6 82.5h1.1v1.1h-1.1zM20.5 51.6h1.3v1.0h-1.3zM47.9 28.5h0.9v1.1h-0.9zM61.1 59.0h1.4v1.3h-1.4zM89.3 69.8h1.2v1.3h-1.2zM83.0 72.5h1.1v1.0h-1.1zM83.1 2.4h1.1v1.3h-1.1zM28.2 47.8h1.1v1.2h-1.1zM79.6 5.7h1.1v1.3h-1.1zM39.6 93.8h1.0v1.2h-1.0zM16.6 83.3h1.1v1.3h-1.1zM66.1 25.3h1.3v0.9h-1.3zM88.9 75.3h1.0v1.2h-1.0zM33.5 45.0h1.4v1.1h-1.4zM55.8 4.3h0.9v1.1h-0.9zM40.4 89.7h1.2v1.3h-1.2zM55.1 89.4h1.1v0.9h-1.1zM72.2 62.9h1.0v1.0h-1.0zM45.3 86.3h1.2v1.1h-1.2zM54.9 33.4h1.1v1.0h-1.1zM66.8 2.3h1.2v0.9h-1.2zM13.7 72.9h1.3v1.2h-1.3zM92.4 68.1h1.2v1.2h-1.2zM0.8 9.3h1.3v1.1h-1.3zM92.7 24.7h1.0v1.0h-1.0zM89.4 52.4h1.0v0.9h-1.0zM55.9 1.5h1.3v1.0h-1.3zM73.2 82.8h1.0v1.2h-1.0zM66.0 43.8h1.1v1.3h-1.1zM24.6 54.3h0.9v1.2h-0.9zM93.2 38.0h1.3v1.1h-1.3zM36.2 37.8h1.3v1.1h-1.3zM4.3 52.5h1.2v1.2h-1.2zM45.0 28.5h1.3v1.0h-1.3zM25.1 17.1h0.9v1.0h-0.9zM64.8 38.1h1.1v1.0h-1.1zM24.8 65.9h1.4v1.0h-1.4zM66.2 92.2h1.2v1.3h-1.2zM17.4 75.3h1.0v1.0h-1.0zM9.3 0.3h1.3v1.1h-1.3zM34.9 70.3h1.0v1.3h-1.0zM17.8 93.7h1.3v1.2h-1.3zM89.8 81.1h1.4v1.0h-1.4zM39.8 29.0h1.1v1.2h-1.1zM82.4 31.5h1.2v1.0h-1.2zM42.7 4.9h1.2v1.2h-1.2zM56.8 83.4h1.2v1.0h-1.2zM91.2 38.6h1.0v1.2h-1.0zM67.3 25.6h1.0v0.9h-1.0zM53.4 36.0h1.3v1.0h-1.3zM58.7 14.4h1.0v1.0h-1.0zM61.9 70.2h1.1v1.3h-1.1zM77.0 83.1h1.2v1.1h-1.2zM39.9 76.4h1.0v1.0h-1.0zM95.8 89.8h1.2v1.3h-1.2zM5.2 74.2h1.2v1.0h-1.2zM26.7 65.0h1.4v1.3h-1.4zM4.2 56.1h1.1v1.0h-1.1zM5.3 55.6h1.0v1.1h-1.0zM48.0 86.1h1.0v1.2h-1.0zM62.1 72.3h1.3v1.0h-1.3zM82.9 7.2h1.1v1.3h-1.1zM86.3 33.3h1.2v1.2h-1.2zM4.5 72.0h1.3v1.0h-1.3zM30.7 41.6h1.4v1.4h-1.4zM17.6 38.0h1.0v0.9h-1.0zM20.5 89.8h1.4v1.0h-1.4zM59.8 61.2h1.1v1.3h-1.1zM8.6 26.2h1.0v1.4h-1.0zM76.6 43.3h0.9v1.3h-0.9zM74.9 83.4h1.4v1.2h-1.4zM47.1 77.0h1.0v1.3h-1.0zM29.5 42.2h1.3v0.9h-1.3zM32.4 78.1h1.1v1.4h-1.1zM68.8 21.9h1.1v1.1h-1.1zM63.5 68.4h1.2v0.9h-1.2zM82.7 17.2h1.2v1.3h-1.2zM44.0 4.8h1.2v0.9h-1.2zM16.5 19.9h1.0v1.2h-1.0zM72.0 42.4h1.4v0.9h-1.4zM31.6 31.0h1.2v1.2h-1.2zM26.5 40.9h1.1v1.1h-1.1zM5.4 71.8h0.9v1.1h-0.9zM21.7 40.2h1.3v1.3h-1.3zM83.4 60.0h1.0v0.9h-1.0zM14.3 84.9h1.1v1.1h-1.1zM33.9 32.2h1.0v1.0h-1.0zM45.2 43.8h0.9v1.0h-0.9zM2.5 45.0h1.2v1.3h-1.2zM38.4 58.2h1.3v1.2h-1.3zM51.8 14.3h1.2v1.3h-1.2zM29.1 63.5h1.0v1.0h-1.0zM31.7 52.5h1.1v1.0h-1.1zM92.6 67.2h1.0v0.9h-1.0zM68.7 88.5h1.3v1.2h-1.3zM92.9 66.7h1.0v1.1h-1.0zM38.0 55.5h1.0v1.2h-1.0zM67.7 26.1h1.2v1.1h-1.2zM64.7 44.9h1.4v1.1h-1.4zM4.1 6.6h1.2v0.9h-1.2zM73.4 47.5h1.1v1.1h-1.1zM81.0 51.8h1.1v1.1h-1.1zM55.6 43.7h1.3v1.1h-1.3zM27.3 11.5h1.1v1.0h-1.1zM18.8 16.7h1.1v1.4h-1.1zM49.1 26.6h1.1v1.1h-1.1zM5.0 77.6h1.2v1.4h-1.2zM60.8 23.4h1.4v1.0h-1.4zM15.9 13.9h1.0v1.0h-1.0zM86.5 13.8h1.1v1.0h-1.1zM29.9 8.7h1.1v1.0h-1.1zM69.7 95.1h1.0v1.1h-1.0zM59.3 94.7h0.9v1.2h-0.9zM38.8 48.2h1.3v1.2h-1.3zM37.1 78.2h1.2v1.0h-1.2zM18.6 19.1h1.3v1.3h-1.3zM15.6 56.7h0.9v0.9h-0.9zM65.3 53.4h1.1v1.1h-1.1zM43.6 36.2h1.0v1.4h-1.0zM6.7 56.7h1.0v1.1h-1.0zM4.1 13.8h1.2v0.9h-1.2zM39.9 58.7h1.2v1.0h-1.2zM40.5 31.3h1.3v1.3h-1.3zM56.9 75.3h1.1v1.4h-1.1zM68.8 85.5h1.0v1.2h-1.0zM64.2 66.7h1.3v1.0h-1.3zM11.5 53.9h1.0v1.4h-1.0zM87.6 46.2h1.3v1.2h-1.3zM87.7 52.9h1.0v1.4h-1.0zM25.5 10.9h1.3v1.2h-1.3zM83.0 21.2h1.4v1.3h-1.4zM61.7 1.5h1.3v1.1h-1.3zM13.1 31.4h1.4v1.1h-1.4zM44.5 86.6h1.3v1.1h-1.3zM32.0 52.6h1.2v1.3h-1.2zM61.9 17.5h1.3v1.3h-1.3zM48.1 13.9h1.1v1.3h-1.1zM26.0 30.7h1.2v1.3h-1.2zM79.8 38.0h1.3v1.0h-1.3zM4.8 66.2h1.0v1.3h-1.0zM31.2 32.7h1.3v0.9h-1.3zM93.1 31.6h0.9v1.1h-0.9zM11.9 24.2h1.2v1.2h-1.2zM18.2 95.8h1.0v1.0h-1.0zM25.7 0.0h1.3v1.0h-1.3zM1.5 59.6h1.1v1.0h-1.1zM45.0 17.6h0.9v1.2h-0.9zM22.9 33.2h1.1v1.4h-1.1zM58.3 54.6h1.1v1.1h-1.1zM25.5 81.3h1.4v1.3h-1.4zM39.5 69.0h1.0v1.3h-1.0zM91.3 16.6h0.9v1.4h-0.9zM54.9 75.4h1.3v1.3h-1.3zM9.9 24.0h1.1v1.3h-1.1zM70.2 20.9h1.0v1.3h-1.0zM84.0 2.2h1.1v1.0h-1.1zM41.3 1.6h1.1v1.0h-1.1zM5.4 93.1h1.0v1.4h-1.0zM69.7 33.3h1.1v1.1h-1.1zM26.4 55.1h1.0v1.2h-1.0zM47.3 18.1h1.4v1.0h-1.4zM60.3 69.1h1.3v1.2h-1.3zM44.1 40.8h1.3v0.9h-1.3zM54.1 80.5h1.1v1.1h-1.1zM66.3 75.2h1.1v1.2h-1.1zM78.2 59.1h1.0v1.4h-1.0zM32.9 62.3h0.9v1.2h-0.9zM53.2 87.1h1.0v0.9h-1.0zM31.7 41.2h1.2v1.1h-1.2zM74.0 81.8h0.9v1.4h-0.9zM6.2 25.0h0.9v1.3h-0.9zM91.4 25.7h1.2v1.4h-1.2zM73.9 24.9h1.1v1.4h-1.1zM83.7 46.4h1.2v0.9h-1.2zM38.0 77.4h0.9v1.0h-0.9zM54.2 1.8h1.0v1.3h-1.0zM17.9 47.6h1.4v1.2h-1.4zM66.1 6.3h1.2v1.2h-1.2zM46.3 46.0h0.9v1.2h-0.9zM33.5 67.5h1.0v1.4h-1.0zM44.4 79.9h1.2v1.0h-1.2zM41.8 26.9h1.2v1.1h-1.2zM25.7 95.8h1.4v1.2h-1.4zM54.2 78.8h1.2v1.1h-1.2zM48.3 76.9h0.9v1.1h-0.9zM8.0 54.1h0.9v1.1h-0.9zM12.7 32.7h1.4v1.0h-1.4zM35.8 77.1h1.0v1.0h-1.0zM40.3 58.9h1.0v1.0h-1.0zM6.0 25.8h1.1v1.2h-1.1zM28.3 50.5h1.3v1.0h-1.3zM68.9 72.8h1.4v1.3h-1.4zM61.2 61.2h1.1v1.3h-1.1zM18.2 34.7h1.0v1.2h-1.0zM86.7 61.7h0.9v1.3h-0.9zM5.3 18.7h1.1v0.9h-1.1zM76.1 65.9h1.4v1.2h-1.4zM41.2 22.1h1.1v1.2h-1.1zM79.9 17.9h1.2v1.2h-1.2zM22.2 68.1h1.0v1.1h-1.0zM19.7 91.3h0.9v1.1h-0.9zM58.8 48.6h1.0v1.2h-1.0zM45.3 52.4h1.1v1.0h-1.1zM67.0 31.6h1.3v1.1h-1.3zM83.2 23.8h1.2v1.4h-1.2zM28.8 77.3h1.2v0.9h-1.2zM56.7 36.1h0.9v1.3h-0.9zM66.9 90.0h1.0v1.1h-1.0zM55.2 33.1h1.0v1.1h-1.0zM41.5 47.3h1.1v1.1h-1.1zM48.0 65.7h1.0v1.1h-1.0zM81.0 74.8h1.3v1.4h-1.3zM46.8 80.4h1.3v1.1h-1.3zM73.5 46.6h1.2v1.0h-1.2zM70.7 31.9h1.1v1.2h-1.1zM73.0 93.8h1.3v1.2h-1.3zM28.0 52.1h1.2v1.1h-1.2zM87.2 29.9h1.2v1.4h-1.2zM20.4 40.6h1.4v1.4h-1.4zM42.7 67.1h1.2v0.9h-1.2zM87.8 84.0h1.4v1.0h-1.4zM52.4 78.7h1.3v1.3h-1.3zM5.1 65.5h1.1v1.0h-1.1zM48.5 7.7h1.1v1.1h-1.1zM38.4 31.0h1.1v1.2h-1.1zM14.5 22.3h1.1v0.9h-1.1zM50.2 86.6h1.0v1.3h-1.0zM35.4 43.2h1.3v1.1h-1.3zM47.8 88.2h0.9v1.1h-0.9zM29.0 47.6h1.2v1.2h-1.2zM28.3 89.1h1.4v1.3h-1.4zM58.2 76.4h0.9v1.2h-0.9zM43.1 31.2h1.2v1.1h-1.2zM85.9 10.2h1.0v1.1h-1.0zM13.3 11.2h1.2v1.0h-1.2zM12.8 67.4h1.3v1.2h-1.3zM59.9 27.1h1.4v1.3h-1.4zM77.4 51.7h1.0v1.1h-1.0zM36.9 59.8h1.0v1.0h-1.0zM53.0 13.3h1.0v1.2h-1.0zM42.8 78.9h1.4v1.2h-1.4zM61.8 40.7h1.2v1.1h-1.2zM83.6 48.9h1.0v1.1h-1.0zM81.1 3.0h1.4v1.3h-1.4zM48.3 26.9h1.0v1.1h-1.0zM69.7 60.5h1.1v1.1h-1.1zM40.4 13.7h1.1v1.2h-1.1zM1.7 90.7h0.9v1.1h-0.9zM28.1 51.5h1.0v1.2h-1.0zM4.1 86.2h1.4v1.3h-1.4zM66.9 13.1h1.2v1.2h-1.2zM76.6 44.3h1.3v1.1h-1.3zM3.0 14.9h1.4v1.1h-1.4zM13.0 15.9h1.4v1.3h-1.4zM41.9 5.0h1.3v0.9h-1.3zM72.0 40.7h1.1v0.9h-1.1zM63.5 84.0h1.1v1.3h-1.1zM17.8 31.2h1.1v1.0h-1.1zM95.0 49.5h0.9v1.2h-0.9zM14.3 33.9h1.3v1.1h-1.3zM25.6 82.7h1.0v1.4h-1.0zM3.2 6.5h1.4v1.2h-1.4zM53.2 76.2h1.0v1.3h-1.0zM26.9 82.9h1.1v1.3h-1.1zM92.4 76.8h1.0v1.1h-1.0zM87.6 42.5h1.0v1.1h-1.0zM12.7 7.4h1.2v0.9h-1.2zM38.9 30.4h1.3v1.1h-1.3zM42.3 61.1h1.0v1.1h-1.0zM18.7 38.5h1.3v1.4h-1.3zM91.4 76.7h0.9v1.1h-0.9zM35.1 36.2h1.1v1.2h-1.1zM0.5 56.8h0.9v1.3h-0.9zM89.6 64.1h1.3v1.4h-1.3zM87.8 27.7h1.2v1.1h-1.2zM49.8 40.7h0.9v1.1h-0.9zM2.7 85.1h1.3v0.9h-1.3zM61.5 84.5h1.2v1.2h-1.2zM46.4 37.3h1.1v0.9h-1.1zM29.4 20.2h1.1v1.1h-1.1zM29.5 95.3h1.0v1.1h-1.0zM78.9 35.0h0.9v1.2h-0.9zM32.9 76.4h1.1v1.1h-1.1zM49.1 60.2h1.0v0.9h-1.0zM73.3 24.0h1.4v1.3h-1.4zM51.1 7.6h1.0v0.9h-1.0zM56.0 53.8h1.3v1.1h-1.3zM86.9 84.0h1.2v1.2h-1.2zM89.0 48.5h0.9v1.3h-0.9zM8.5 35.1h1.1v1.3h-1.1zM57.7 52.6h1.4v1.3h-1.4zM61.8 41.5h1.0v1.3h-1.0zM67.6 87.3h1.1v1.4h-1.1zM7.2 27.7h1.4v1.3h-1.4zM17.1 33.8h1.0v1.2h-1.0zM66.4 57.9h1.1v0.9h-1.1zM31.8 89.0h1.3v1.2h-1.3zM56.3 37.9h0.9v1.0h-0.9zM29.9 1.4h1.1v1.1h-1.1zM39.3 39.8h1.3v1.2h-1.3zM86.1 54.2h1.1v1.1h-1.1zM65.5 14.4h1.3v1.4h-1.3zM70.0 66.1h1.3v0.9h-1.3zM53.6 37.0h1.0v1.1h-1.0zM4.3 66.6h0.9v1.1h-0.9zM9.0 95.5h1.0v1.2h-1.0zM1.9 27.9h1.1v0.9h-1.1zM84.6 62.0h0.9v1.1h-0.9zM11.7 40.6h1.3v1.0h-1.3zM79.7 46.7h1.2v1.4h-1.2zM16.6 70.0h1.4v1.1h-1.4zM22.1 74.5h1.1v0.9h-1.1zM86.8 13.7h1.3v1.0h-1.3zM43.6 50.0h1.0v1.2h-1.0zM95.0 30.5h1.2v1.4h-1.2zM14.1 84.7h1.4v1.2h-1.4zM4.3 25.7h1.0v1.2h-1.0zM19.6 89.7h1.4v0.9h-1.4zM78.7 40.8h1.2v1.1h-1.2zM34.5 48.5h1.2v1.1h-1.2zM22.0 35.6h1.0v1.2h-1.0zM52.9 70.7h1.2v1.2h-1.2zM22.0 40.1h1.0v1.3h-1.0zM88.0 63.7h1.2v1.1h-1.2zM52.1 74.0h1.1v1.2h-1.1zM7.6 21.0h1.2v1.3h-1.2zM27.0 48.6h1.1v1.0h-1.1zM28.0 65.5h1.1v1.1h-1.1zM50.4 57.6h1.2v1.2h-1.2zM85.4 61.8h1.2v1.4h-1.2zM42.6 51.0h0.9v1.2h-0.9zM56.1 89.2h0.9v1.0h-0.9zM72.9 75.4h1.2v1.0h-1.2zM88.6 53.3h1.3v1.3h-1.3zM63.7 48.8h1.2v1.0h-1.2zM72.0 89.4h1.2v1.2h-1.2zM71.4 63.9h1.0v1.3h-1.0zM75.9 22.8h1.2v1.0h-1.2zM23.7 35.6h1.1v1.3h-1.1zM90.5 72.7h1.1v1.1h-1.1zM9.1 52.6h1.1v1.2h-1.1zM40.2 63.4h1.3v1.1h-1.3zM47.5 64.9h1.0v1.2h-1.0zM10.4 29.3h1.1v1.1h-1.1zM37.3 83.6h1.0v1.3h-1.0zM69.7 19.9h1.0v1.3h-1.0zM54.7 58.2h1.3v1.0h-1.3zM17.4 95.1h1.1v1.2h-1.1zM27.1 12.1h1.3v1.3h-1.3zM28.0 9.0h1.3v1.0h-1.3zM73.2 23.7h1.4v1.0h-1.4zM32.1 21.4h1.2v1.3h-1.2zM12.0 52.2h1.4v1.1h-1.4zM69.3 68.5h1.0v1.3h-1.0zM76.9 44.6h1.0v1.0h-1.0zM82.6 54.7h1.2v1.1h-1.2zM0.9 17.4h0.9v1.3h-0.9zM89.9 39.9h1.2v1.2h-1.2zM93.5 94.0h1.0v1.4h-1.0zM59.1 34.5h1.3v0.9h-1.3zM77.9 84.1h0.9v1.0h-0.9zM94.4 90.5h1.2v1.4h-1.2zM8.0 39.6h1.3v0.9h-1.3zM31.7 14.1h1.2v1.4h-1.2zM47.3 79.5h0.9v1.1h-0.9zM92.7 92.5h1.0v1.0h-1.0zM25.7 89.7h1.0v1.0h-1.0zM30.2 43.0h1.3v1.2h-1.3zM76.2 45.8h1.3v1.1h-1.3zM57.9 35.9h1.1v1.0h-1.1zM82.4 33.5h1.4v1.2h-1.4zM10.2 85.8h1.3v1.2h-1.3zM25.7 81.5h1.0v1.4h-1.0zM84.1 7.2h1.1v1.4h-1.1zM76.9 22.4h1.1v1.3h-1.1zM1.4 14.4h1.3v1.1h-1.3zM62.1 39.9h1.1v1.2h-1.1zM70.5 10.9h1.2v1.4h-1.2zM92.0 8.3h1.2v1.0h-1.2zM95.1 25.5h1.4v1.1h-1.4zM88.4 8.1h1.2v1.2h-1.2zM39.7 28.1h1.3v0.9h-1.3zM80.3 85.0h1.3v1.2h-1.3zM39.4 45.2h1.0v1.0h-1.0zM50.3 5.1h0.9v1.2h-0.9zM92.5 67.9h0.9v1.0h-0.9zM5.9 56.9h1.3v1.1h-1.3zM4.8 90.3h1.3v1.0h-1.3zM82.7 88.7h1.0v1.2h-1.0zM0.6 33.6h1.0v1.4h-1.0zM70.2 24.0h1.3v1.0h-1.3zM6.2 39.7h1.3v1.4h-1.3zM28.8 27.3h1.1v1.1h-1.1zM66.6 45.4h1.0v1.0h-1.0zM53.5 7.2h1.0v1.0h-1.0zM18.9 4.0h1.2v1.2h-1.2zM28.2 90.1h1.1v1.1h-1.1zM61.8 61.2h1.4v0.9h-1.4zM7.9 6.6h1.0v1.1h-1.0zM52.4 73.8h1.3v1.2h-1.3zM51.2 43.0h1.0v1.0h-1.0zM34.2 11.4h1.2v1.0h-1.2zM92.7 31.8h1.3v1.0h-1.3zM21.9 42.0h1.2v1.4h-1.2zM16.3 2.6h0.9v1.3h-0.9zM6.6 90.1h1.0v1.4h-1.0zM33.3 87.2h1.1v1.1h-1.1zM1.0 38.3h1.1v1.4h-1.1zM49.7 81.2h1.1v1.2h-1.1zM58.2 11.8h1.2v1.3h-1.2zM40.0 17.6h1.0v1.1h-1.0zM91.7 44.4h1.0v1.1h-1.0zM71.4 81.7h1.0v1.1h-1.0zM5.0 29.8h1.1v1.0h-1.1zM12.5 76.3h1.0v1.3h-1.0zM13.4 15.8h1.0v1.3h-1.0zM8.5 20.6h1.2v1.1h-1.2zM84.7 27.9h0.9v1.3h-0.9zM39.0 50.5h1.0v1.4h-1.0zM74.9 23.7h1.1v1.0h-1.1zM93.5 12.8h1.1v1.0h-1.1zM46.3 58.2h1.0v1.2h-1.0zM64.2 22.3h1.4v1.1h-1.4zM54.4 91.8h1.1v0.9h-1.1zM23.6 9.5h0.9v1.4h-0.9zM61.7 16.5h1.1v1.1h-1.1zM11.1 25.3h0.9v1.4h-0.9zM43.5 50.5h1.3v1.2h-1.3zM45.3 69.3h1.2v1.1h-1.2zM73.1 8.8h1.2v1.0h-1.2zM49.0 17.3h1.2v1.1h-1.2zM65.9 30.7h1.0v1.2h-1.0zM39.3 69.9h1.2v0.9h-1.2zM56.5 1.8h1.4v1.2h-1.4zM55.6 34.7h0.9v1.1h-0.9zM28.4 16.7h1.4v1.0h-1.4zM48.8 22.8h1.3v1.0h-1.3zM93.4 15.9h1.0v1.1h-1.0zM30.0 8.3h1.3v0.9h-1.3zM27.5 1.3h0.9v1.1h-0.9zM53.9 0.2h1.1v1.1h-1.1zM93.7 93.5h1.2v1.3h-1.2zM3.9 51.9h1.3v1.3h-1.3zM68.4 73.4h1.4v1.2h-1.4zM16.7 65.4h1.0v1.3h-1.0zM20.0 82.7h1.2v1.2h-1.2zM20.5 44.9h1.2v1.4h-1.2zM67.1 71.6h1.4v1.1h-1.4zM60.3 53.2h1.1v1.1h-1.1zM33.8 8.3h1.4v1.0h-1.4zM81.1 33.5h1.1v0.9h-1.1zM47.5 20.1h1.1v1.3h-1.1zM90.1 5.8h1.3v1.3h-1.3zM81.8 78.3h1.3v1.1h-1.3zM4.7 19.1h1.3v1.1h-1.3zM45.6 66.7h1.1v1.0h-1.1zM27.6 88.7h1.1v1.3h-1.1zM65.6 33.3h1.1v1.2h-1.1zM49.8 57.1h1.0v1.1h-1.0zM71.5 26.5h1.1v1.3h-1.1zM62.7 55.7h0.9v1.2h-0.9zM71.6 11.2h1.0v1.3h-1.0zM44.1 76.7h0.9v1.3h-0.9zM56.9 21.7h1.2v1.2h-1.2zM22.3 95.2h0.9v1.1h-0.9zM81.1 84.7h1.0v1.4h-1.0zM9.3 34.0h1.3v1.0h-1.3zM33.3 38.8h1.2v1.1h-1.2zM24.3 43.8h1.1v1.2h-1.1zM10.9 3.6h1.3v1.2h-1.3zM68.0 61.7h0.9v1.0h-0.9zM88.2 49.7h1.1v1.3h-1.1zM21.4 92.9h1.2v1.0h-1.2zM72.4 49.0h1.0v1.0h-1.0zM15.6 49.9h1.1v1.4h-1.1zM32.5 55.5h1.3v1.3h-1.3zM62.9 84.6h1.2v1.3h-1.2zM64.7 20.0h1.2v1.3h-1.2zM66.2 41.1h0.9v1.2h-0.9zM78.1 85.0h1.2v1.1h-1.2zM21.1 18.6h1.3v0.9h-1.3zM42.0 27.6h1.1v1.4h-1.1zM6.4 70.6h1.3v0.9h-1.3zM19.2 27.2h1.0v1.1h-1.0zM77.4 94.3h1.2v1.1h-1.2zM57.0 29.7h1.2v1.1h-1.2zM47.7 41.9h1.2v1.2h-1.2zM58.3 39.4h1.1v1.1h-1.1zM50.4 4.8h1.2v1.2h-1.2zM20.5 86.6h1.2v1.3h-1.2zM41.1 91.7h1.0v1.2h-1.0zM51.3 29.1h1.1v1.4h-1.1zM1.8 71.1h1.0v1.2h-1.0zM67.2 49.6h1.3v1.3h-1.3zM2.4 22.9h1.3v1.3h-1.3zM49.1 4.6h1.0v1.1h-1.0zM49.6 69.8h1.0v1.2h-1.0zM61.7 35.7h1.3v1.0h-1.3zM74.2 22.6h1.3v1.1h-1.3zM31.4 80.0h1.1v1.3h-1.1zM47.6 6.2h1.1v1.0h-1.1zM12.8 1.6h1.2v1.1h-1.2zM66.1 34.8h0.9v1.3h-0.9zM71.8 80.5h1.1v1.0h-1.1zM89.5 7.7h1.2v1.0h-1.2zM29.0 89.7h1.3v1.2h-1.3zM7.7 49.3h1.4v1.3h-1.4zM6.0 24.9h1.1v0.9h-1.1zM36.2 54.3h1.0v1.3h-1.0zM91.3 25.5h1.2v1.3h-1.2zM15.8 50.1h1.2v1.3h-1.2zM55.8 84.8h1.3v1.0h-1.3zM72.8 47.4h1.2v1.1h-1.2zM55.7 39.9h1.1v1.3h-1.1zM19.5 35.2h1.1v0.9h-1.1zM8.8 44.7h1.4v1.2h-1.4zM23.7 3.9h1.0v1.4h-1.0zM29.1 81.1h1.2v0.9h-1.2zM87.4 42.7h0.9v1.3h-0.9zM59.3 8.7h1.1v1.1h-1.1zM20.9 59.7h1.3v1.2h-1.3zM18.7 93.8h1.2v1.0h-1.2zM81.4 90.1h1.3v1.4h-1.3zM51.2 5.5h1.4v1.2h-1.4zM95.5 95.1h1.2v1.0h-1.2zM85.7 8.1h1.1v1.1h-1.1zM15.8 30.9h1.3v1.0h-1.3zM64.9 19.1h1.0v1.4h-1.0zM23.7 0.5h1.2v1.2h-1.2zM54.1 92.4h1.0v1.2h-1.0zM78.0 19.9h1.2v1.1h-1.2zM91.0 4.2h1.0v1.3h-1.0zM8.6 63.1h1.1v1.2h-1.1zM61.6 67.4h1.4v1.0h-1.4zM5.5 29.6h0.9v1.1h-0.9zM93.9 21.0h1.1v0.9h-1.1zM68.8 40.1h1.2v1.4h-1.2zM26.4 60.1h1.0v1.4h-1.0zM94.8 35.2h1.4v1.0h-1.4zM4.0 38.0h1.1v1.0h-1.1zM30.1 21.2h1.1v1.3h-1.1zM21.9 55.4h1.3v1.2h-1.3zM9.4 23.7h1.0v1.0h-1.0zM69.3 66.8h1.1v0.9h-1.1zM55.0 91.0h1.1v1.2h-1.1zM52.9 44.3h1.4v0.9h-1.4zM40.7 89.9h1.0v1.4h-1.0zM53.5 43.0h1.4v1.4h-1.4zM13.7 22.1h0.9v1.1h-0.9zM52.1 33.4h1.2v0.9h-1.2zM3.1 42.7h1.1v1.1h-1.1zM61.2 54.5h0.9v0.9h-0.9zM2.1 72.2h1.4v1.3h-1.4zM43.1 73.9h1.2v0.9h-1.2zM7.5 72.8h1.2v1.2h-1.2zM36.8 26.5h1.0v1.2h-1.0zM44.7 52.3h1.1v1.3h-1.1zM8.2 86.0h1.0v1.1h-1.0zM25.6 1.0h0.9v0.9h-0.9zM48.0 12.9h1.2v1.2h-1.2zM84.4 23.0h1.0v1.3h-1.0zM75.9 79.8h1.4v1.3h-1.4zM1.0 48.2h1.2v1.4h-1.2zM44.7 28.0h0.9v1.0h-0.9zM10.1 43.7h1.0v1.3h-1.0zM14.0 58.6h1.1v1.0h-1.1zM18.2 40.7h1.3v1.2h-1.3zM46.8 21.0h1.1v1.3h-1.1zM7.3 62.3h1.3v1.2h-1.3zM32.3 22.1h1.2v1.2h-1.2zM15.8 31.6h1.3v0.9h-1.3zM85.5 58.9h1.0v1.4h-1.0zM32.5 61.4h1.1v1.0h-1.1zM33.2 14.3h1.3v1.4h-1.3zM5.7 19.3h1.1v1.2h-1.1zM40.3 64.5h1.4v1.0h-1.4zM15.6 46.3h1.2v1.3h-1.2zM48.0 84.8h1.4v1.3h-1.4zM36.0 94.6h1.2v1.3h-1.2zM78.4 1.8h1.4v1.3h-1.4zM63.1 67.0h1.1v1.2h-1.1zM35.3 28.3h1.1v1.1h-1.1zM77.9 42.0h1.0v1.3h-1.0zM68.0 87.8h1.2v0.9h-1.2zM11.8 90.5h1.2v1.1h-1.2zM85.0 8.0h1.3v1.0h-1.3zM2.5 80.5h1.3v0.9h-1.3zM65.3 91.4h1.3v1.2h-1.3zM80.6 77.4h1.2v1.4h-1.2zM17.1 19.0h1.1v1.3h-1.1zM10.0 29.6h1.1v1.4h-1.1zM49.5 94.1h0.9v1.1h-0.9zM12.9 16.6h1.3v1.1h-1.3zM43.2 46.7h0.9v1.4h-0.9zM59.1 89.6h1.0v1.2h-1.0zM75.2 70.7h1.1v1.3h-1.1zM87.0 65.9h1.3v1.0h-1.3zM57.4 64.4h1.0v1.3h-1.0zM11.5 72.4h1.1v0.9h-1.1zM30.8 74.0h1.1v1.2h-1.1zM44.0 6.0h1.1v1.1h-1.1zM71.0 23.2h0.9v1.3h-0.9zM69.0 2.0h1.0v1.3h-1.0zM31.0 29.5h1.2v1.3h-1.2zM64.1 2.7h1.1v1.4h-1.1zM61.4 57.2h1.2v1.3h-1.2zM3.5 82.5h1.0v1.1h-1.0zM22.7 2.2h1.0v1.1h-1.0zM69.2 38.1h1.1v1.3h-1.1zM58.9 63.7h1.2v1.0h-1.2zM90.9 28.9h1.0v1.4h-1.0zM43.1 71.8h1.1v1.0h-1.1zM36.8 33.8h1.1v1.1h-1.1zM0.9 19.0h1.2v1.1h-1.2zM23.5 73.8h1.0v1.3h-1.0zM94.4 53.8h1.1v1.3h-1.1zM61.5 5.9h1.2v1.3h-1.2zM72.3 75.7h1.0v1.3h-1.0zM72.8 34.9h1.3v1.1h-1.3zM20.9 58.5h1.3v1.3h-1.3zM76.8 93.0h1.3v1.4h-1.3zM41.2 29.0h1.1v1.1h-1.1zM36.5 45.6h0.9v1.2h-0.9zM56.6 33.2h1.0v1.4h-1.0zM76.1 77.2h1.3v0.9h-1.3zM28.4 69.4h1.3v1.0h-1.3zM57.4 71.7h1.3v1.0h-1.3zM74.1 55.0h1.4v0.9h-1.4zM70.1 90.9h1.3v1.0h-1.3zM41.3 92.4h1.2v1.1h-1.2zM37.7 46.9h0.9v1.1h-0.9zM85.6 82.8h1.0v1.2h-1.0zM86.6 18.9h1.1v1.2h-1.1zM26.6 64.6h1.3v1.1h-1.3zM81.6 95.4h1.0v1.2h-1.0zM10.9 67.7h0.9v1.1h-0.9zM72.0 62.7h1.1v1.0h-1.1zM77.5 54.7h1.0v1.3h-1.0zM70.2 64.8h1.1v1.3h-1.1zM12.2 21.9h1.2v1.1h-1.2zM28.3 0.9h1.0v1.3h-1.0zM4.6 59.4h1.1v1.1h-1.1zM34.3 90.4h1.4v1.1h-1.4zM77.5 49.4h1.3v1.4h-1.3zM31.1 56.4h1.0v1.3h-1.0zM23.8 81.1h1.4v1.0h-1.4zM64.2 4.4h0.9v0.9h-0.9zM46.4 81.4h0.9v1.4h-0.9zM42.0 19.6h1.2v1.3h-1.2zM44.6 44.1h1.3v1.4h-1.3zM12.9 59.4h1.4v1.3h-1.4zM12.7 92.6h1.2v1.4h-1.2zM36.7 95.6h1.3v1.0h-1.3zM51.2 3.7h1.3v1.2h-1.3zM27.4 54.2h1.3v1.0h-1.3zM42.8 29.4h1.3v1.0h-1.3zM93.7 62.8h1.4v1.0h-1.4zM34.4 23.5h1.3v0.9h-1.3zM8.8 80.9h1.3v1.3h-1.3zM60.5 23.8h1.0v1.3h-1.0zM17.8 20.9h1.3v1.3h-1.3zM23.2 20.3h1.4v1.0h-1.4zM64.0 89.9h0.9v1.0h-0.9zM53.2 19.4h1.4v1.1h-1.4zM88.7 67.0h1.0v1.0h-1.0zM50.5 43.7h1.4v1.0h-1.4zM29.7 31.3h1.3v1.2h-1.3zM56.8 17.5h1.2v1.2h-1.2zM77.3 33.5h1.1v1.3h-1.1zM0.9 88.5h1.3v1.3h-1.3zM42.8 26.9h1.1v1.2h-1.1zM14.2 89.5h1.3v1.1h-1.3zM77.8 82.4h1.3v1.4h-1.3zM0.3 79.9h1.3v1.4h-1.3zM66.4 17.8h1.2v1.2h-1.2zM22.7 16.3h1.3v1.2h-1.3zM15.2 39.6h1.1v1.4h-1.1zM63.0 25.9h1.0v1.3h-1.0zM54.3 53.9h1.2v1.0h-1.2zM2.3 50.0h1.0v1.3h-1.0zM46.1 34.5h1.4v1.2h-1.4zM77.1 73.2h1.2v1.3h-1.2zM34.9 51.1h1.0v1.3h-1.0zM39.3 37.5h1.2v0.9h-1.2zM2.2 84.2h1.0v1.2h-1.0zM38.2 44.4h1.0v1.2h-1.0zM3.8 22.9h1.3v1.3h-1.3zM53.8 24.9h0.9v1.0h-0.9zM90.9 93.1h1.1v1.2h-1.1zM41.7 79.6h1.1v1.3h-1.1zM3.0 75.3h1.1v1.4h-1.1zM20.0 12.5h1.2v1.1h-1.2zM17.3 14.5h1.1v1.3h-1.1zM54.3 65.2h1.0v1.2h-1.0zM1.2 0.3h0.9v1.0h-0.9zM83.9 89.6h1.2v1.1h-1.2zM37.0 74.2h1.2v1.1h-1.2zM62.0 50.5h1.4v1.0h-1.4zM72.4 6.0h1.4v1.3h-1.4zM88.9 17.0h1.3v1.1h-1.3zM43.3 66.2h1.1v1.4h-1.1zM8.4 35.8h1.0v1.4h-1.0zM58.0 61.5h1.1v1.1h-1.1zM0.9 39.2h1.1v1.1h-1.1zM63.6 22.8h1.0v1.0h-1.0zM75.5 95.2h1.0v1.0h-1.0zM17.5 37.6h1.2v1.4h-1.2zM18.1 27.1h1.4v1.0h-1.4zM88.1 91.8h1.3v1.0h-1.3zM52.2 75.0h1.2v1.0h-1.2zM60.4 71.4h1.2v1.0h-1.2zM6.7 29.7h1.3v1.1h-1.3zM94.7 26.1h1.3v0.9h-1.3zM21.3 5.6h1.3v1.4h-1.3zM34.0 27.6h1.0v1.0h-1.0zM33.2 13.1h1.2v1.1h-1.2zM6.6 67.9h1.1v1.1h-1.1zM83.5 29.4h1.3v1.0h-1.3zM91.0 9.3h1.3v1.4h-1.3zM33.4 54.8h1.2v1.3h-1.2zM27.0 67.3h1.1v0.9h-1.1zM65.3 87.4h1.1v1.1h-1.1zM52.3 93.4h1.2v1.3h-1.2zM74.1 1.9h1.2v1.4h-1.2zM61.5 20.5h1.2v1.4h-1.2zM39.4 26.4h1.4v1.3h-1.4zM34.2 39.1h0.9v1.0h-0.9zM79.9 74.0h1.2v1.4h-1.2zM32.8 91.5h1.3v0.9h-1.3zM46.3 72.4h1.2v1.0h-1.2zM92.6 43.4h1.1v1.2h-1.1zM29.5 32.9h1.2v0.9h-1.2zM13.7 17.4h1.1v1.1h-1.1zM10.2 85.7h0.9v0.9h-0.9zM69.5 34.2h1.0v1.2h-1.0zM1.1 22.3h1.1v1.4h-1.1zM39.9 70.7h1.2v0.9h-1.2zM58.0 76.9h1.4v1.2h-1.4zM50.7 60.7h1.3v1.3h-1.3zM84.8 93.8h1.1v1.4h-1.1zM60.8 89.6h1.2v1.2h-1.2zM71.5 45.7h1.3v1.4h-1.3zM16.9 58.3h1.2v1.2h-1.2zM77.0 35.3h0.9v1.1h-0.9zM89.3 73.0h1.4v1.2h-1.4zM89.2 36.1h1.2v1.3h-1.2zM34.8 15.5h1.0v1.2h-1.0zM27.3 37.7h1.3v1.3h-1.3zM6.0 53.9h1.2v1.0h-1.2zM20.0 14.0h1.3v1.4h-1.3zM41.0 82.7h1.1v0.9h-1.1zM81.0 37.7h1.1v1.1h-1.1zM93.9 16.2h0.9v1.2h-0.9zM75.7 1.6h1.2v1.4h-1.2zM46.5 17.0h1.1v1.3h-1.1zM38.9 50.3h1.0v1.3h-1.0zM53.0 70.9h1.0v1.2h-1.0zM1.5 55.4h1.1v1.0h-1.1zM16.4 62.8h1.2v1.3h-1.2zM68.6 92.5h1.1v0.9h-1.1zM49.9 32.1h1.2v1.2h-1.2zM93.3 95.5h1.3v1.1h-1.3zM31.5 22.4h1.0v1.1h-1.0zM65.6 43.9h1.1v1.1h-1.1zM34.1 88.3h1.1v0.9h-1.1zM58.2 54.3h0.9v1.2h-0.9zM76.4 25.4h1.1v1.2h-1.1zM58.1 86.3h1.0v1.1h-1.0zM16.6 95.6h1.1v1.3h-1.1zM52.8 9.1h1.4v1.0h-1.4zM2.2 90.1h1.0v0.9h-1.0zM12.3 64.5h1.3v1.1h-1.3zM44.6 26.3h1.4v0.9h-1.4zM8.7 81.0h1.3v1.3h-1.3zM95.6 87.2h1.1v1.0h-1.1zM57.7 5.2h1.1v0.9h-1.1zM76.9 3.2h1.3v1.4h-1.3zM11.9 46.3h0.9v1.0h-0.9zM8.0 41.0h1.0v1.1h-1.0zM75.8 53.2h1.4v1.3h-1.4zM87.7 29.8h1.3v1.3h-1.3zM95.9 84.5h1.1v1.4h-1.1zM49.0 81.9h0.9v1.2h-0.9zM67.5 90.0h1.3v1.1h-1.3zM44.4 60.0h1.0v1.1h-1.0zM95.8 22.4h1.3v0.9h-1.3zM22.4 8.2h1.1v1.0h-1.1zM0.5 90.4h1.1v1.0h-1.1zM13.6 14.1h1.1v1.1h-1.1zM8.5 59.3h1.0v1.2h-1.0zM21.7 57.1h1.2v1.0h-1.2zM84.3 61.7h1.1v1.1h-1.1zM41.8 95.2h1.3v0.9h-1.3zM80.6 51.6h1.3v1.0h-1.3zM31.0 92.2h1.3v1.2h-1.3zM48.7 23.9h1.1v1.2h-1.1zM42.3 47.2h1.2v1.4h-1.2zM66.5 77.2h1.0v1.2h-1.0zM34.8 11.9h1.0v1.3h-1.0zM95.9 42.5h0.9v1.2h-0.9zM14.8 41.2h1.0v1.2h-1.0zM27.7 28.8h1.0v1.0h-1.0zM72.7 82.5h1.0v1.0h-1.0zM54.1 29.2h1.0v1.3h-1.0zM59.6 36.1h1.4v1.2h-1.4zM58.6 52.0h1.3v1.4h-1.3zM16.6 51.2h1.2v1.3h-1.2zM78.2 4.8h1.0v1.3h-1.0zM29.8 87.0h1.2v1.2h-1.2zM33.6 3.4h1.1v1.2h-1.1zM17.5 24.0h1.2v1.2h-1.2zM59.3 13.4h1.3v1.1h-1.3zM94.3 14.7h0.9v1.3h-0.9zM89.0 24.7h1.1v1.2h-1.1zM58.8 63.2h1.4v1.4h-1.4zM1.0 8.7h1.2v1.1h-1.2zM16.9 50.8h1.1v1.4h-1.1zM94.8 88.0h1.1v1.3h-1.1zM47.2 3.0h1.3v1.3h-1.3zM18.3 62.5h1.3v1.0h-1.3zM34.6 80.3h1.4v1.0h-1.4zM47.7 31.6h1.3v1.3h-1.3zM26.0 50.4h1.1v1.1h-1.1zM75.3 10.5h1.0v1.3h-1.0zM48.5 43.7h1.0v1.1h-1.0zM48.5 85.7h1.3v1.3h-1.3zM52.1 64.3h1.2v1.4h-1.2zM75.8 80.1h1.3v1.2h-1.3zM41.6 43.1h1.4v1.3h-1.4zM16.1 88.6h1.0v1.1h-1.0zM4.7 2.3h1.1v1.3h-1.1zM19.9 14.9h1.3v1.3h-1.3zM91.0 79.6h1.0v1.0h-1.0zM29.6 72.4h1.3v1.1h-1.3zM95.2 77.0h1.1v1.3h-1.1zM35.6 85.1h1.2v1.2h-1.2zM55.3 36.3h1.2v1.3h-1.2zM19.4 69.0h1.2v1.2h-1.2zM36.1 37.2h1.0v1.4h-1.0zM12.8 13.6h1.2v1.3h-1.2zM5.5 29.5h1.3v1.4h-1.3zM64.5 45.8h1.1v1.3h-1.1zM93.5 51.3h1.2v1.3h-1.2zM79.2 43.1h0.9v1.4h-0.9zM41.3 65.7h1.2v1.0h-1.2zM3.8 46.4h1.4v1.2h-1.4zM79.7 31.8h1.2v1.3h-1.2zM28.4 37.8h1.4v1.0h-1.4zM14.7 41.2h1.1v1.2h-1.1zM38.8 62.6h1.0v1.3h-1.0zM87.8 27.2h1.2v1.4h-1.2zM5.7 12.5h1.0v1.1h-1.0zM40.1 1.1h1.0v0.9h-1.0zM37.0 30.4h1.1v1.2h-1.1zM0.7 70.5h1.2v0.9h-1.2zM46.8 91.4h1.4v1.4h-1.4zM18.3 79.0h1.2v1.3h-1.2zM63.6 74.6h1.1v1.0h-1.1zM78.6 6.4h1.0v1.3h-1.0zM30.6 44.8h1.4v1.3h-1.4zM59.5 70.0h1.1v1.2h-1.1zM81.7 15.3h1.1v1.2h-1.1zM18.7 89.2h1.3v0.9h-1.3zM43.1 48.2h0.9v1.3h-0.9zM39.4 21.6h1.1v1.0h-1.1zM58.0 94.4h1.1v0.9h-1.1zM81.6 77.1h1.1v1.2h-1.1zM20.4 77.3h1.4v1.0h-1.4zM38.7 31.4h1.0v1.0h-1.0zM34.1 0.9h1.2v1.0h-1.2zM49.5 89.3h1.3v1.0h-1.3zM6.0 61.1h0.9v1.1h-0.9zM10.3 57.2h1.1v1.2h-1.1zM69.0 33.9h1.1v1.1h-1.1zM9.8 18.0h1.0v1.1h-1.0zM2.2 82.9h1.3v1.4h-1.3zM82.0 1.9h1.3v1.3h-1.3zM85.8 74.7h1.4v1.2h-1.4zM32.8 39.8h1.2v1.2h-1.2zM67.8 6.4h1.1v1.3h-1.1zM63.8 40.0h1.2v1.0h-1.2zM67.2 74.3h1.0v1.1h-1.0zM39.6 73.0h0.9v1.4h-0.9zM94.3 77.6h1.2v1.1h-1.2zM81.4 1.4h1.0v1.2h-1.0zM24.1 22.7h0.9v1.3h-0.9zM81.9 53.3h0.9v1.3h-0.9zM70.0 33.7h1.0v1.1h-1.0zM26.2 15.4h1.4v1.3h-1.4zM47.1 31.5h1.0v1.2h-1.0zM33.6 71.7h1.0v1.1h-1.0zM50.9 57.4h1.1v1.1h-1.1zM76.6 65.7h1.2v1.2h-1.2zM23.9 94.0h0.9v1.2h-0.9zM4.4 3.4h1.3v1.2h-1.3zM35.2 78.4h0.9v1.1h-0.9zM93.1 78.0h1.2v1.3h-1.2zM89.4 36.9h0.9v1.3h-0.9zM50.7 84.2h1.2v1.0h-1.2zM2.3 55.8h1.1v1.1h-1.1zM66.5 36.7h1.3v0.9h-1.3zM2.0 35.5h1.0v1.4h-1.0zM61.4 92.5h1.0v1.3h-1.0zM93.9 83.1h1.3v1.0h-1.3zM86.3 9.0h1.1v1.0h-1.1zM11.8 92.8h1.2v1.3h-1.2zM35.8 36.8h1.3v1.4h-1.3zM73.7 84.1h1.3v1.3h-1.3zM87.4 73.6h0.9v1.0h-0.9zM32.3 22.9h1.4v1.3h-1.4zM52.0 22.9h1.0v0.9h-1.0zM18.0 24.8h1.3v1.1h-1.3zM47.1 57.6h1.4v1.3h-1.4zM26.0 45.0h1.1v1.0h-1.1zM73.0 54.4h1.1v1.2h-1.1zM11.7 57.1h1.3v1.4h-1.3zM51.4 23.5h1.3v1.4h-1.3zM31.9 31.1h1.0v1.1h-1.0zM73.5 53.9h1.0v1.0h-1.0zM16.5 61.0h1.0v1.0h-1.0zM37.4 76.1h1.3v1.1h-1.3zM77.5 19.2h1.0v1.1h-1.0zM57.6 66.1h1.3v1.0h-1.3zM10.2 17.9h1.0v1.2h-1.0zM89.4 80.9h1.3v1.2h-1.3zM24.5 88.7h1.2v1.4h-1.2zM56.2 17.1h1.0v1.3h-1.0zM14.7 43.0h1.1v1.1h-1.1zM92.7 86.4h1.0v1.4h-1.0zM53.4 13.6h1.3v1.1h-1.3zM43.9 23.9h1.2v1.0h-1.2zM93.4 11.0h1.1v1.1h-1.1zM79.3 47.8h1.3v1.0h-1.3zM72.2 54.1h1.3v1.3h-1.3zM37.2 56.1h1.3v1.4h-1.3zM15.0 49.8h1.3v1.0h-1.3zM95.1 57.8h1.2v0.9h-1.2zM43.3 48.0h1.0v1.4h-1.0zM54.1 37.5h1.3v1.4h-1.3zM26.9 2.8h1.1v1.0h-1.1zM40.4 96.0h0.9v1.1h-0.9zM6.9 33.7h1.3v1.2h-1.3zM83.3 27.6h1.2v1.0h-1.2zM49.1 9.7h1.3v1.1h-1.3zM54.2 61.6h1.2v0.9h-1.2zM41.7 84.3h1.2v1.2h-1.2zM85.8 62.1h1.0v1.2h-1.0zM79.5 21.7h1.0v1.0h-1.0zM92.3 27.8h1.3v0.9h-1.3zM3.4 69.9h1.0v1.1h-1.0zM60.6 26.3h1.2v1.0h-1.2zM10.7 5.2h1.2v1.3h-1.2zM45.7 36.3h1.4v1.1h-1.4zM80.4 92.8h1.3v1.3h-1.3zM40.5 61.7h1.4v1.0h-1.4zM52.7 66.9h1.3v1.2h-1.3zM92.6 78.6h1.4v1.4h-1.4zM51.4 94.5h1.2v1.0h-1.2zM60.0 58.5h1.0v1.3h-1.0zM67.2 90.2h1.1v1.2h-1.1zM57.2 73.0h1.3v0.9h-1.3zM74.1 14.2h1.0v1.0h-1.0zM71.9 2.2h1.4v1.1h-1.4zM18.7 62.3h1.4v1.3h-1.4zM38.3 33.7h1.2v1.0h-1.2zM25.9 63.6h1.0v1.2h-1.0zM74.1 84.1h1.1v1.2h-1.1zM41.6 59.1h1.1v1.1h-1.1zM76.7 26.2h1.4v1.2h-1.4zM22.0 31.3h1.0v1.3h-1.0zM33.7 6.9h1.1v1.3h-1.1zM37.7 0.5h1.1v1.2h-1.1zM67.8 21.7h1.0v1.1h-1.0zM65.3 95.1h1.2v1.0h-1.2zM43.8 6.2h1.2v1.2h-1.2zM17.6 30.9h1.2v0.9h-1.2zM33.5 39.6h1.3v1.2h-1.3zM1.2 38.9h1.2v1.1h-1.2zM30.4 41.4h1.4v1.2h-1.4zM83.5 31.3h1.1v1.3h-1.1zM41.1 90.5h1.1v1.3h-1.1zM88.1 7.4h1.1v1.0h-1.1zM49.4 92.0h1.2v1.2h-1.2zM24.3 32.8h0.9v1.3h-0.9zM3.3 66.8h0.9v1.2h-0.9zM79.5 53.7h1.4v1.0h-1.4zM90.8 94.8h1.4v1.1h-1.4zM47.9 93.8h1.2v1.2h-1.2zM3.7 24.5h1.0v1.0h-1.0zM61.8 20.8h1.3v1.4h-1.3zM47.1 7.7h1.2v1.4h-1.2zM28.2 92.4h1.4v1.2h-1.4zM30.6 51.6h1.2v1.0h-1.2zM89.7 62.7h1.2v1.4h-1.2zM22.4 43.2h1.1v1.3h-1.1zM95.8 6.4h0.9v1.0h-0.9zM55.2 77.2h1.4v1.2h-1.4zM37.4 60.9h1.1v0.9h-1.1zM17.1 43.3h1.2v1.3h-1.2zM71.6 5.1h1.0v1.0h-1.0zM43.7 76.7h1.2v1.2h-1.2zM7.5 38.9h1.2v1.0h-1.2zM42.5 40.2h1.0v1.1h-1.0zM51.1 87.0h1.3v1.1h-1.3zM88.1 59.0h1.2v1.2h-1.2zM89.5 50.7h1.1v1.3h-1.1zM47.4 33.5h1.3v1.2h-1.3zM5.8 51.0h1.2v1.1h-1.2zM95.0 5.4h1.1v1.3h-1.1zM43.7 42.5h1.3v1.2h-1.3zM65.9 74.6h1.0v1.2h-1.0zM3.3 16.7h1.3v1.3h-1.3zM89.2 18.4h1.2v1.0h-1.2zM7.7 61.6h0.9v0.9h-0.9zM70.9 30.1h1.1v1.1h-1.1zM26.4 48.8h1.4v1.3h-1.4zM6.7 33.2h1.1v1.2h-1.1zM89.0 95.3h0.9v1.0h-0.9zM90.3 75.4h1.3v1.1h-1.3zM3.2 63.4h0.9v1.0h-0.9zM23.1 17.7h1.1v1.3h-1.1zM33.6 76.8h1.1v1.1h-1.1zM42.1 56.2h1.4v1.0h-1.4zM24.1 72.3h1.4v1.4h-1.4zM11.0 47.7h0.9v1.1h-0.9zM20.9 24.2h0.9v1.0h-0.9zM95.1 65.1h1.2v1.0h-1.2zM31.5 81.6h1.4v1.1h-1.4zM9.1 47.8h1.2v1.3h-1.2zM77.6 93.8h1.0v1.4h-1.0zM45.2 55.2h1.2v1.2h-1.2zM42.0 79.1h1.1v1.0h-1.1zM24.0 29.6h1.1v1.4h-1.1zM45.1 30.6h1.1v1.2h-1.1zM33.7 33.7h1.2v1.2h-1.2zM67.4 71.8h1.1v1.0h-1.1zM55.6 10.5h1.3v1.3h-1.3zM70.3 10.0h1.3v1.1h-1.3zM8.5 91.4h1.1v0.9h-1.1zM41.4 60.6h1.4v0.9h-1.4zM78.4 13.2h1.0v1.0h-1.0zM66.1 72.7h1.3v1.0h-1.3zM61.7 46.7h1.1v1.1h-1.1zM87.3 20.0h1.0v1.0h-1.0zM58.4 2.9h1.2v1.2h-1.2zM43.2 5.0h1.1v1.3h-1.1zM64.0 71.6h1.1v1.4h-1.1zM0.1 55.9h1.1v1.0h-1.1zM49.5 61.2h1.0v1.3h-1.0zM56.3 25.2h1.1v1.2h-1.1zM74.8 3.1h1.0v1.1h-1.0zM85.5 52.8h1.1v1.2h-1.1zM37.3 23.1h1.0v1.0h-1.0zM93.9 21.6h1.2v1.2h-1.2zM15.3 18.6h0.9v1.2h-0.9zM14.4 68.0h1.4v0.9h-1.4zM84.9 70.4h1.0v1.2h-1.0zM34.8 27.6h1.1v1.4h-1.1zM38.1 43.0h1.0v1.3h-1.0zM30.5 25.8h1.0v1.3h-1.0zM13.4 36.8h1.2v1.0h-1.2zM63.0 91.1h1.0v1.3h-1.0zM50.6 85.1h1.0v0.9h-1.0zM87.0 20.4h1.3v1.0h-1.3zM83.1 81.4h1.0v1.3h-1.0zM52.5 76.5h1.0v1.2h-1.0zM45.9 18.0h1.1v1.4h-1.1zM25.2 91.4h1.1v1.1h-1.1zM63.4 63.1h1.1v1.1h-1.1zM64.4 13.8h1.0v1.4h-1.0zM30.4 51.1h1.4v1.0h-1.4zM5.4 60.8h1.2v1.3h-1.2zM94.4 55.0h1.2v1.3h-1.2zM3.3 91.3h1.0v1.0h-1.0zM14.0 79.2h1.4v1.2h-1.4zM6.7 8.0h1.0v1.0h-1.0zM18.9 90.8h1.2v1.0h-1.2z" fill="#3838d2"/><path d="M95.4 33.4h1.0v1.0h-1.0zM34.3 60.2h1.4v1.3h-1.4zM92.1 67.1h1.5v1.2h-1.5zM33.5 18.2h1.4v1.1h-1.4zM37.2 38.4h1.2v1.3h-1.2zM37.2 10.1h1.2v1.0h-1.2zM52.7 9.7h1.1v1.2h-1.1zM6.1 17.5h1.2v1.2h-1.2zM53.3 44.7h1.3v1.1h-1.3zM54.1 8.0h1.5v1.1h-1.5zM13.1 92.4h1.2v1.0h-1.2zM16.0 14.6h1.3v1.1h-1.3zM53.8 88.1h1.4v1.2h-1.4zM57.4 66.4h1.4v1.4h-1.4zM95.9 88.7h1.3v1.2h-1.3zM80.2 79.7h1.2v1.4h-1.2zM85.8 55.6h1.2v1.1h-1.2zM66.1 26.6h1.1v1.0h-1.1zM80.4 78.1h1.1v1.1h-1.1zM33.8 54.1h1.0v1.1h-1.0zM69.8 89.3h1.0v1.2h-1.0zM61.9 33.7h1.4v1.0h-1.4zM65.0 26.7h1.3v1.3h-1.3zM95.6 69.4h1.2v1.1h-1.2zM75.3 81.7h1.3v1.2h-1.3zM54.5 29.1h1.5v1.4h-1.5zM21.0 3.8h1.1v1.3h-1.1zM60.8 73.8h1.3v1.2h-1.3zM30.5 74.1h1.4v1.0h-1.4zM92.7 40.4h1.1v1.1h-1.1zM65.9 59.2h1.5v1.1h-1.5zM44.6 74.4h1.1v1.3h-1.1zM94.5 16.1h1.4v1.5h-1.4zM54.0 68.5h1.1v1.4h-1.1zM29.2 1.1h1.5v1.4h-1.5zM94.9 15.5h1.3v1.5h-1.3zM40.6 62.9h1.4v1.5h-1.4zM93.8 9.2h1.1v1.3h-1.1zM68.8 65.8h1.4v1.4h-1.4zM67.9 34.6h1.2v1.3h-1.2zM39.0 65.4h1.1v1.2h-1.1zM27.4 71.6h1.4v1.0h-1.4zM62.1 76.3h1.5v1.2h-1.5zM66.9 25.6h1.1v1.1h-1.1zM87.9 76.8h1.1v1.2h-1.1zM28.2 19.0h1.3v1.3h-1.3zM83.5 1.0h1.0v1.3h-1.0zM60.6 33.2h1.4v1.4h-1.4zM93.9 4.7h1.1v1.1h-1.1zM20.9 54.9h1.5v1.5h-1.5zM90.6 6.6h1.0v1.3h-1.0zM85.0 82.8h1.4v1.4h-1.4zM47.5 90.9h1.3v1.3h-1.3zM57.7 40.3h1.0v1.5h-1.0zM61.4 24.6h1.2v1.0h-1.2zM40.2 91.9h1.1v1.2h-1.1zM18.6 69.3h1.0v1.3h-1.0zM65.4 30.6h1.4v1.4h-1.4zM9.7 63.4h1.4v1.4h-1.4zM78.9 84.3h1.1v1.4h-1.1zM38.8 30.7h1.3v1.1h-1.3zM76.4 59.4h1.4v1.0h-1.4zM91.3 71.9h1.0v1.2h-1.0zM34.3 20.1h1.1v1.5h-1.1zM54.2 0.3h1.0v1.4h-1.0zM79.4 44.1h1.4v1.1h-1.4zM19.6 95.5h1.2v1.5h-1.2zM74.1 86.5h1.2v1.2h-1.2zM4.9 28.0h1.4v1.2h-1.4zM49.4 39.2h1.2v1.5h-1.2zM90.3 5.6h1.5v1.3h-1.5zM55.2 40.9h1.2v1.2h-1.2zM44.8 42.3h1.4v1.4h-1.4zM88.4 29.2h1.1v1.3h-1.1zM63.5 17.6h1.3v1.4h-1.3zM21.4 1.1h1.4v1.3h-1.4zM92.8 54.7h1.1v1.5h-1.1zM93.5 94.3h1.3v1.4h-1.3zM15.4 20.9h1.3v1.1h-1.3zM76.9 44.4h1.2v1.5h-1.2zM41.8 38.8h1.3v1.2h-1.3zM77.3 10.8h1.3v1.1h-1.3zM68.8 0.9h1.2v1.3h-1.2zM49.7 17.4h1.4v1.5h-1.4zM2.9 53.6h1.2v1.5h-1.2zM34.8 90.3h1.4v1.1h-1.4zM92.2 15.5h1.3v1.4h-1.3zM95.3 7.7h1.2v1.3h-1.2zM19.7 94.4h1.5v1.0h-1.5zM38.9 48.8h1.4v1.1h-1.4zM82.9 46.5h1.2v1.4h-1.2zM22.4 49.3h1.1v1.4h-1.1zM16.7 16.6h1.4v1.2h-1.4zM94.6 16.8h1.3v1.2h-1.3zM13.2 46.3h1.0v1.5h-1.0zM55.0 14.5h1.2v1.3h-1.2zM70.3 13.0h1.2v1.5h-1.2zM78.8 34.3h1.1v1.1h-1.1zM72.4 9.6h1.1v1.0h-1.1zM37.0 90.1h1.3v1.1h-1.3zM2.1 94.2h1.2v1.3h-1.2zM23.6 59.8h1.5v1.3h-1.5zM35.7 88.7h1.0v1.2h-1.0zM86.1 39.3h1.2v1.4h-1.2zM62.2 69.1h1.2v1.1h-1.2zM55.4 87.0h1.2v1.2h-1.2zM85.2 23.5h1.1v1.2h-1.1zM87.6 49.3h1.1v1.1h-1.1zM44.3 88.6h1.1v1.3h-1.1zM93.9 83.8h1.3v1.5h-1.3zM31.9 7.1h1.2v1.2h-1.2zM88.5 21.2h1.1v1.2h-1.1zM43.9 88.3h1.1v1.2h-1.1zM23.8 19.5h1.0v1.3h-1.0zM27.9 33.2h1.3v1.1h-1.3zM14.4 7.7h1.5v1.3h-1.5zM41.5 1.8h1.3v1.0h-1.3zM80.4 93.9h1.2v1.2h-1.2zM16.1 86.1h1.1v1.2h-1.1zM11.3 25.6h1.5v1.2h-1.5zM10.8 17.0h1.0v1.3h-1.0zM67.3 22.3h1.0v1.1h-1.0zM94.6 77.2h1.3v1.1h-1.3zM23.9 0.2h1.2v1.0h-1.2zM59.1 68.9h1.1v1.2h-1.1zM20.4 29.2h1.5v1.1h-1.5zM10.3 89.4h1.4v1.4h-1.4zM5.8 48.4h1.1v1.3h-1.1zM91.5 48.3h1.5v1.2h-1.5zM55.6 22.1h1.1v1.0h-1.1zM3.0 27.7h1.5v1.3h-1.5zM58.1 11.0h1.1v1.4h-1.1zM78.7 2.6h1.5v1.3h-1.5zM26.4 94.3h1.3v1.4h-1.3zM58.8 28.4h1.4v1.4h-1.4zM12.5 41.8h1.3v1.4h-1.3zM84.6 89.3h1.2v1.0h-1.2zM33.3 12.8h1.5v1.1h-1.5zM37.4 35.1h1.1v1.2h-1.1zM11.5 3.7h1.5v1.5h-1.5zM22.1 34.0h1.3v1.1h-1.3zM60.4 8.1h1.5v1.4h-1.5zM30.7 23.3h1.5v1.5h-1.5zM13.0 10.9h1.2v1.3h-1.2zM71.4 60.4h1.3v1.4h-1.3zM81.9 4.9h1.2v1.0h-1.2zM42.3 76.1h1.0v1.1h-1.0zM29.7 4.5h1.2v1.1h-1.2zM19.8 1.8h1.2v1.1h-1.2zM45.2 13.3h1.5v1.4h-1.5zM33.9 56.8h1.1v1.4h-1.1zM81.0 82.0h1.1v1.2h-1.1zM25.4 47.9h1.2v1.5h-1.2zM39.1 77.3h1.4v1.2h-1.4zM6.2 55.4h1.0v1.5h-1.0zM0.2 3.5h1.1v1.3h-1.1zM79.3 0.2h1.2v1.3h-1.2zM28.6 94.3h1.2v1.2h-1.2zM83.7 88.4h1.4v1.1h-1.4zM83.7 33.6h1.1v1.2h-1.1z" fill="#2020a6"/></pattern><pattern id="pcs" width="64" height="64" patternUnits="userSpaceOnUse"><path d="M39.9 47.5h1.4v1.5h-1.4zM47.4 59.0h1.0v1.2h-1.0zM60.4 41.5h1.5v1.1h-1.5zM30.0 15.8h1.3v1.3h-1.3zM0.8 13.9h1.1v1.5h-1.1zM49.0 10.2h1.4v1.1h-1.4zM39.5 8.1h1.0v1.4h-1.0zM13.4 13.8h1.5v1.4h-1.5zM18.5 61.5h1.3v1.3h-1.3zM13.1 60.2h1.3v1.5h-1.3zM57.2 19.1h1.2v1.1h-1.2zM9.3 4.2h1.2v1.3h-1.2zM0.2 43.4h1.2v1.2h-1.2zM52.4 30.8h1.2v1.2h-1.2zM45.1 3.6h1.5v1.0h-1.5zM48.0 54.1h1.0v1.4h-1.0zM23.4 37.0h1.0v1.0h-1.0zM11.6 61.1h1.1v1.4h-1.1zM59.5 60.3h1.2v1.2h-1.2zM33.6 49.6h1.1v1.4h-1.1zM51.0 55.0h1.0v1.5h-1.0zM5.8 21.8h1.3v1.5h-1.3zM21.8 59.1h1.3v1.2h-1.3zM20.3 11.4h1.0v1.1h-1.0zM44.1 63.8h1.1v1.0h-1.1zM63.1 34.1h1.2v1.1h-1.2zM38.0 52.9h1.2v1.2h-1.2zM3.6 58.6h1.0v1.2h-1.0zM53.7 8.4h1.4v1.5h-1.4zM40.3 50.4h1.1v1.2h-1.1zM9.6 54.1h1.1v1.2h-1.1zM64.0 54.5h1.5v1.2h-1.5zM31.2 46.7h1.2v1.1h-1.2zM25.8 9.4h1.2v1.5h-1.2zM61.4 40.1h1.2v1.2h-1.2zM5.7 17.4h1.4v1.4h-1.4zM23.1 50.3h1.4v1.3h-1.4zM42.5 48.6h1.2v1.4h-1.2zM18.0 31.1h1.4v1.3h-1.4zM18.8 60.5h1.3v1.3h-1.3zM0.7 35.0h1.1v1.3h-1.1zM29.6 52.3h1.3v1.4h-1.3zM22.3 41.2h1.4v1.4h-1.4zM22.4 53.9h1.4v1.3h-1.4zM62.5 61.2h1.3v1.3h-1.3zM10.6 53.5h1.5v1.2h-1.5zM44.3 46.1h1.4v1.1h-1.4zM49.9 37.2h1.3v1.2h-1.3zM39.9 49.6h1.3v1.4h-1.3zM1.8 10.2h1.2v1.3h-1.2zM14.0 43.9h1.3v1.0h-1.3zM30.2 14.5h1.0v1.1h-1.0zM20.3 11.6h1.1v1.0h-1.1zM29.8 24.3h1.3v1.3h-1.3zM15.2 57.8h1.0v1.2h-1.0zM17.8 26.2h1.1v1.4h-1.1zM23.9 2.3h1.3v1.0h-1.3zM34.9 21.7h1.3v1.5h-1.3zM52.4 26.8h1.4v1.3h-1.4zM23.6 9.1h1.3v1.3h-1.3zM61.3 62.0h1.3v1.2h-1.3zM57.2 0.1h1.1v1.3h-1.1zM39.4 9.0h1.3v1.4h-1.3zM24.1 27.6h1.1v1.1h-1.1zM62.2 24.3h1.5v1.5h-1.5zM38.1 16.6h1.5v1.2h-1.5zM26.6 20.4h1.5v1.2h-1.5zM18.3 30.5h1.1v1.3h-1.1zM28.4 18.8h1.4v1.4h-1.4zM0.8 34.1h1.1v1.5h-1.1zM50.0 15.7h1.1v1.1h-1.1zM63.3 18.8h1.3v1.2h-1.3zM41.3 38.6h1.4v1.1h-1.4zM48.7 19.2h1.3v1.2h-1.3zM19.0 33.9h1.2v1.2h-1.2zM47.7 37.8h1.0v1.1h-1.0zM29.2 58.7h1.4v1.3h-1.4zM0.9 49.8h1.2v1.3h-1.2zM45.3 40.5h1.2v1.5h-1.2zM24.7 25.1h1.4v1.1h-1.4zM19.0 53.1h1.0v1.4h-1.0zM44.5 27.7h1.1v1.4h-1.1zM58.3 9.1h1.2v1.3h-1.2zM31.9 21.2h1.1v1.3h-1.1zM52.0 4.4h1.1v1.4h-1.1zM50.7 42.5h1.0v1.4h-1.0zM62.6 63.9h1.4v1.0h-1.4zM53.9 14.0h1.3v1.5h-1.3zM45.6 8.6h1.1v1.5h-1.1zM9.6 39.1h1.2v1.1h-1.2zM39.8 2.8h1.1v1.2h-1.1zM4.6 3.7h1.3v1.4h-1.3zM56.2 8.6h1.2v1.2h-1.2zM38.4 31.3h1.5v1.2h-1.5zM3.6 44.6h1.1v1.3h-1.1zM32.4 58.3h1.3v1.3h-1.3zM16.8 35.3h1.1v1.4h-1.1zM33.1 8.6h1.1v1.2h-1.1zM47.2 11.5h1.4v1.3h-1.4zM5.5 42.7h1.0v1.1h-1.0zM38.0 15.3h1.4v1.2h-1.4zM20.7 51.0h1.0v1.4h-1.0zM3.4 9.7h1.5v1.3h-1.5zM14.3 7.4h1.5v1.3h-1.5zM52.5 8.9h1.3v1.2h-1.3zM15.0 21.3h1.3v1.2h-1.3zM24.7 8.7h1.4v1.3h-1.4zM51.5 27.7h1.4v1.3h-1.4zM37.9 36.7h1.4v1.2h-1.4zM6.2 2.1h1.1v1.0h-1.1zM56.9 30.8h1.4v1.0h-1.4zM30.1 56.9h1.3v1.2h-1.3zM29.8 6.4h1.1v1.1h-1.1zM24.0 24.7h1.4v1.1h-1.4zM16.3 17.8h1.1v1.1h-1.1zM15.1 30.9h1.0v1.5h-1.0zM23.6 60.0h1.3v1.3h-1.3zM30.2 60.5h1.1v1.3h-1.1zM18.6 43.2h1.4v1.1h-1.4zM12.9 1.6h1.1v1.0h-1.1zM25.7 62.3h1.2v1.2h-1.2zM30.0 18.1h1.4v1.4h-1.4zM10.5 15.4h1.3v1.5h-1.3zM41.3 27.6h1.5v1.0h-1.5zM3.9 49.9h1.2v1.0h-1.2zM35.1 63.3h1.3v1.2h-1.3zM6.0 4.6h1.4v1.2h-1.4zM59.9 3.4h1.1v1.0h-1.1zM25.4 3.8h1.1v1.2h-1.1zM19.6 3.3h1.0v1.5h-1.0zM11.5 32.6h1.2v1.3h-1.2zM5.4 20.1h1.1v1.3h-1.1zM59.0 38.3h1.4v1.1h-1.4zM1.1 34.5h1.2v1.3h-1.2zM24.1 40.0h1.4v1.5h-1.4zM19.7 28.7h1.4v1.1h-1.4zM7.4 19.9h1.0v1.4h-1.0zM52.4 20.0h1.1v1.0h-1.1zM15.7 5.4h1.2v1.3h-1.2zM15.7 3.9h1.4v1.0h-1.4zM12.8 18.3h1.2v1.0h-1.2zM26.9 20.1h1.4v1.3h-1.4zM57.3 41.9h1.4v1.3h-1.4zM28.3 52.3h1.3v1.5h-1.3zM46.6 44.9h1.1v1.4h-1.1zM24.5 8.3h1.0v1.1h-1.0zM16.8 43.3h1.1v1.0h-1.1zM48.9 35.7h1.0v1.0h-1.0zM8.3 22.9h1.4v1.5h-1.4zM39.2 14.8h1.2v1.2h-1.2zM21.1 0.8h1.3v1.4h-1.3zM46.5 6.1h1.3v1.1h-1.3zM45.4 28.6h1.5v1.4h-1.5zM7.6 20.3h1.5v1.2h-1.5zM27.8 28.3h1.4v1.5h-1.4zM34.1 62.1h1.3v1.1h-1.3zM52.1 26.8h1.0v1.5h-1.0zM2.1 36.9h1.2v1.4h-1.2zM25.1 13.8h1.1v1.1h-1.1zM36.0 22.8h1.4v1.1h-1.4zM22.5 15.9h1.5v1.4h-1.5zM54.4 39.6h1.2v1.1h-1.2zM53.2 31.4h1.0v1.1h-1.0zM6.3 45.9h1.5v1.1h-1.5zM51.0 20.7h1.3v1.4h-1.3zM39.9 51.2h1.2v1.0h-1.2zM32.8 37.5h1.1v1.2h-1.1zM20.3 1.7h1.2v1.2h-1.2zM30.5 45.0h1.2v1.5h-1.2zM52.2 59.1h1.3v1.3h-1.3zM34.3 51.1h1.2v1.3h-1.2zM43.5 33.4h1.1v1.0h-1.1zM5.6 22.8h1.3v1.4h-1.3zM45.7 19.6h1.5v1.1h-1.5zM45.8 4.6h1.4v1.3h-1.4zM61.2 57.4h1.3v1.4h-1.3zM47.3 39.1h1.1v1.3h-1.1zM57.4 15.3h1.5v1.3h-1.5zM25.2 0.2h1.2v1.1h-1.2zM41.8 57.6h1.5v1.3h-1.5zM24.7 7.0h1.3v1.3h-1.3zM45.8 23.9h1.4v1.1h-1.4zM19.6 17.1h1.3v1.4h-1.3zM10.7 40.5h1.4v1.1h-1.4zM4.0 36.2h1.4v1.4h-1.4zM46.6 26.7h1.2v1.3h-1.2zM57.9 19.3h1.1v1.3h-1.1zM61.9 12.0h1.0v1.1h-1.0zM36.0 38.6h1.1v1.1h-1.1zM38.0 41.4h1.3v1.4h-1.3zM3.9 31.0h1.4v1.5h-1.4zM20.4 54.4h1.3v1.5h-1.3zM14.7 44.6h1.4v1.2h-1.4zM6.5 12.4h1.1v1.0h-1.1zM9.7 39.4h1.1v1.4h-1.1zM47.1 52.2h1.4v1.4h-1.4zM59.1 61.2h1.3v1.5h-1.3zM6.6 6.6h1.0v1.1h-1.0zM24.0 29.4h1.3v1.4h-1.3zM5.4 25.8h1.3v1.2h-1.3z" fill="#9a9ae4"/><path d="M7.5 38.2h1.1v1.2h-1.1zM31.7 61.6h1.4v0.9h-1.4zM48.6 46.2h1.0v1.0h-1.0zM30.7 22.7h1.3v1.4h-1.3zM24.5 18.6h1.1v1.2h-1.1zM50.5 36.8h1.0v1.1h-1.0zM54.3 33.2h0.9v1.1h-0.9zM15.2 42.6h0.9v1.0h-0.9zM6.1 30.6h1.4v1.2h-1.4zM24.7 59.8h0.9v1.1h-0.9zM51.9 0.3h1.3v1.1h-1.3zM1.1 16.1h1.1v1.1h-1.1zM33.1 3.4h1.0v1.4h-1.0zM28.3 30.2h0.9v1.0h-0.9zM61.1 44.0h1.2v0.9h-1.2zM25.1 49.8h1.1v1.2h-1.1zM57.8 41.3h1.2v0.9h-1.2zM1.5 49.3h1.1v1.3h-1.1zM52.8 58.6h1.1v1.4h-1.1zM48.4 57.1h1.0v1.3h-1.0zM27.0 62.2h1.4v1.0h-1.4zM27.0 17.3h1.1v1.0h-1.1zM42.7 7.9h1.0v1.1h-1.0zM4.7 24.4h1.3v1.3h-1.3zM12.6 1.2h1.3v1.4h-1.3zM38.3 8.7h1.0v1.4h-1.0zM60.0 2.0h1.0v1.1h-1.0zM17.1 48.2h1.1v1.3h-1.1zM9.7 33.2h1.4v1.3h-1.4zM5.8 7.1h1.2v1.1h-1.2zM23.6 30.6h1.2v1.4h-1.2zM15.4 36.4h1.0v1.2h-1.0zM46.8 8.6h1.1v1.3h-1.1zM0.5 49.4h1.1v1.2h-1.1zM39.1 50.7h0.9v1.2h-0.9zM2.5 24.7h1.1v0.9h-1.1zM19.1 28.8h1.2v1.4h-1.2zM23.7 33.9h1.3v1.4h-1.3zM60.8 63.2h1.1v1.0h-1.1zM59.6 5.0h1.1v1.3h-1.1zM33.8 24.9h1.4v1.0h-1.4zM35.3 53.1h1.0v1.1h-1.0zM31.6 36.2h1.0v1.1h-1.0zM3.8 5.6h1.1v1.0h-1.1zM61.9 16.9h1.0v1.3h-1.0zM47.4 16.8h1.3v1.2h-1.3zM24.9 40.2h1.0v1.0h-1.0zM56.1 28.1h1.3v1.0h-1.3zM8.8 3.3h1.3v1.2h-1.3zM0.6 2.8h1.3v1.1h-1.3zM55.8 2.5h1.2v1.0h-1.2zM46.2 39.1h1.2v1.0h-1.2zM60.7 7.1h0.9v1.2h-0.9zM5.9 4.3h1.1v1.2h-1.1zM57.1 46.1h0.9v1.2h-0.9zM54.0 7.7h1.3v1.0h-1.3zM19.1 0.1h1.3v1.2h-1.3zM57.7 29.8h1.0v1.0h-1.0zM16.9 60.6h1.0v0.9h-1.0zM22.6 5.1h1.1v1.2h-1.1zM41.6 11.2h1.0v1.1h-1.0zM44.0 28.6h1.2v1.4h-1.2zM9.3 17.1h1.1v1.2h-1.1zM57.6 35.5h1.2v1.1h-1.2zM50.2 53.5h1.0v1.0h-1.0zM16.6 22.9h1.3v1.0h-1.3zM40.3 41.0h1.4v1.0h-1.4zM49.3 21.5h1.0v1.2h-1.0zM54.0 37.3h0.9v1.4h-0.9zM24.6 40.7h1.3v1.0h-1.3zM26.1 21.1h0.9v0.9h-0.9zM45.9 26.3h1.3v0.9h-1.3zM19.3 11.5h1.4v1.3h-1.4zM57.4 32.4h1.0v1.1h-1.0zM14.5 1.7h1.2v1.0h-1.2zM6.9 32.7h1.4v1.4h-1.4zM29.8 6.6h1.3v1.0h-1.3zM34.4 5.4h1.4v1.2h-1.4zM28.0 17.4h1.2v1.4h-1.2zM27.4 13.4h1.2v1.4h-1.2zM24.4 40.6h1.4v1.1h-1.4zM51.9 33.9h1.0v0.9h-1.0zM60.1 29.8h1.1v1.4h-1.1zM36.7 32.0h1.0v1.3h-1.0zM16.4 30.1h1.3v1.2h-1.3zM8.6 13.0h1.2v1.3h-1.2zM6.6 63.8h1.0v1.0h-1.0zM5.7 28.6h1.2v1.3h-1.2zM10.4 44.7h1.0v1.2h-1.0zM16.1 22.8h0.9v1.3h-0.9zM7.8 48.9h1.1v1.2h-1.1zM40.9 31.3h1.3v1.4h-1.3zM18.1 21.4h1.3v1.0h-1.3zM26.9 26.5h1.4v1.0h-1.4zM41.9 48.4h1.3v0.9h-1.3zM60.4 20.0h1.3v1.2h-1.3zM26.9 53.6h1.2v1.1h-1.2zM46.8 32.3h1.3v1.2h-1.3zM50.9 10.2h1.1v0.9h-1.1zM50.6 49.4h1.3v0.9h-1.3zM34.3 30.6h1.0v1.0h-1.0zM62.4 54.6h1.0v1.3h-1.0zM41.7 24.6h1.2v1.0h-1.2zM17.5 0.6h1.2v1.2h-1.2zM47.6 32.2h1.1v1.1h-1.1zM47.1 23.9h1.2v1.3h-1.2zM28.5 43.9h0.9v1.0h-0.9zM53.8 9.4h0.9v0.9h-0.9zM49.0 6.8h1.1v1.1h-1.1zM51.4 30.5h1.2v0.9h-1.2zM50.9 49.1h1.2v1.3h-1.2zM39.3 45.8h1.3v1.2h-1.3zM1.3 56.6h1.4v1.0h-1.4zM4.2 21.8h1.0v1.1h-1.0zM5.7 14.1h0.9v1.1h-0.9zM19.2 46.6h1.1v1.0h-1.1zM61.0 57.2h1.2v1.0h-1.2zM25.8 28.9h1.1v0.9h-1.1zM29.2 49.1h1.2v1.3h-1.2zM43.7 48.8h1.3v1.4h-1.3zM50.8 26.6h1.2v1.2h-1.2zM56.5 45.7h1.1v1.0h-1.1zM21.0 16.0h1.2v1.3h-1.2zM12.3 34.1h1.3v1.1h-1.3zM6.1 38.8h1.1v1.0h-1.1zM18.4 0.4h1.0v1.1h-1.0zM6.7 0.4h1.2v1.4h-1.2zM53.4 20.9h1.4v0.9h-1.4zM9.6 0.4h0.9v1.2h-0.9zM48.4 30.6h1.3v1.1h-1.3zM58.8 38.9h1.2v1.0h-1.2zM27.3 28.2h1.3v1.0h-1.3zM18.9 52.3h0.9v1.2h-0.9zM14.1 42.6h1.2v0.9h-1.2zM46.7 26.1h1.1v1.3h-1.1zM49.8 19.8h1.2v1.0h-1.2zM33.2 5.3h1.2v1.4h-1.2zM40.7 2.6h1.2v1.1h-1.2zM28.4 9.7h1.0v1.1h-1.0zM4.6 43.2h1.0v1.0h-1.0zM5.8 19.4h1.4v1.0h-1.4zM6.1 22.1h1.4v0.9h-1.4zM21.9 13.4h1.2v1.1h-1.2zM6.3 55.2h1.1v1.2h-1.1zM29.0 55.8h0.9v1.0h-0.9zM18.3 16.9h1.3v1.2h-1.3zM22.2 32.4h1.3v1.2h-1.3zM28.9 42.0h1.2v1.1h-1.2zM27.3 8.4h1.1v1.3h-1.1zM19.6 23.4h1.2v1.2h-1.2zM11.2 28.5h1.3v0.9h-1.3zM7.0 48.3h1.4v0.9h-1.4zM5.2 40.1h1.0v1.2h-1.0zM2.2 29.2h1.0v1.1h-1.0zM44.4 32.6h1.3v1.3h-1.3zM39.6 54.2h1.0v1.1h-1.0zM20.5 40.0h1.0v1.3h-1.0zM23.7 50.2h1.4v1.4h-1.4zM25.0 54.8h1.4v1.0h-1.4zM47.8 46.5h1.1v1.0h-1.1z" fill="#3030b8"/></pattern><pattern id="pcb" width="64" height="64" patternUnits="userSpaceOnUse"><path d="M50.8 52.6h1.2v1.1h-1.2zM0.0 42.4h1.2v1.4h-1.2zM23.9 49.3h1.1v1.4h-1.1zM46.7 26.5h1.3v1.3h-1.3zM12.4 35.4h1.4v1.1h-1.4zM51.4 43.9h1.4v1.2h-1.4zM6.0 51.2h1.4v1.2h-1.4zM6.0 12.6h1.3v1.1h-1.3zM60.9 37.7h1.1v1.3h-1.1zM23.1 59.7h1.5v1.3h-1.5zM41.3 44.7h1.4v1.5h-1.4zM1.8 23.1h1.3v1.2h-1.3zM37.7 5.7h1.4v1.3h-1.4zM7.5 42.4h1.2v1.1h-1.2zM31.0 8.8h1.1v1.4h-1.1zM44.7 0.8h1.4v1.0h-1.4zM21.3 57.9h1.3v1.2h-1.3zM24.2 24.9h1.1v1.5h-1.1zM3.4 27.1h1.4v1.2h-1.4zM62.8 15.7h1.5v1.4h-1.5zM42.9 56.9h1.2v1.4h-1.2zM51.0 33.1h1.2v1.4h-1.2zM26.2 5.5h1.4v1.1h-1.4zM31.2 50.2h1.1v1.0h-1.1zM7.9 37.7h1.2v1.1h-1.2zM28.9 59.4h1.1v1.2h-1.1zM56.3 39.2h1.1v1.2h-1.1zM30.6 9.1h1.2v1.2h-1.2zM51.5 20.7h1.3v1.5h-1.3zM59.1 24.1h1.3v1.2h-1.3zM25.5 31.2h1.4v1.5h-1.4zM18.6 0.4h1.2v1.0h-1.2zM1.9 49.5h1.1v1.4h-1.1zM23.2 60.1h1.4v1.0h-1.4zM12.3 60.6h1.3v1.2h-1.3zM50.1 52.1h1.2v1.2h-1.2zM6.4 23.2h1.1v1.3h-1.1zM38.8 9.2h1.3v1.0h-1.3zM6.7 41.3h1.2v1.4h-1.2zM40.3 44.9h1.1v1.4h-1.1zM5.3 39.6h1.5v1.5h-1.5zM57.2 28.9h1.3v1.4h-1.3zM8.8 60.4h1.5v1.2h-1.5zM49.8 28.6h1.1v1.4h-1.1zM4.1 51.2h1.5v1.1h-1.5zM60.1 5.4h1.4v1.1h-1.4zM61.8 27.6h1.5v1.0h-1.5zM5.5 52.2h1.3v1.3h-1.3zM2.1 11.1h1.2v1.0h-1.2zM63.6 49.0h1.5v1.4h-1.5zM22.0 5.0h1.4v1.1h-1.4zM35.0 29.7h1.2v1.0h-1.2zM4.7 33.3h1.0v1.3h-1.0zM9.6 18.0h1.1v1.3h-1.1zM24.9 14.3h1.1v1.3h-1.1zM58.3 26.8h1.1v1.2h-1.1zM15.4 36.6h1.4v1.3h-1.4zM12.0 20.8h1.2v1.2h-1.2zM25.4 63.8h1.3v1.3h-1.3zM45.8 41.3h1.4v1.2h-1.4zM42.7 62.2h1.1v1.3h-1.1zM24.6 3.9h1.0v1.4h-1.0zM7.3 45.5h1.1v1.2h-1.1zM2.1 34.7h1.4v1.1h-1.4zM36.2 59.0h1.1v1.2h-1.1zM46.3 55.3h1.1v1.3h-1.1zM7.7 7.2h1.5v1.0h-1.5zM58.9 48.0h1.3v1.4h-1.3zM41.7 18.4h1.2v1.1h-1.2zM55.0 49.8h1.4v1.1h-1.4zM37.9 16.3h1.4v1.4h-1.4zM63.7 45.3h1.3v1.4h-1.3zM6.0 38.1h1.0v1.2h-1.0zM7.5 60.7h1.0v1.5h-1.0zM60.7 27.9h1.4v1.0h-1.4zM8.9 0.6h1.0v1.0h-1.0zM53.0 5.6h1.3v1.1h-1.3zM8.5 26.8h1.1v1.5h-1.1zM24.6 38.0h1.3v1.3h-1.3zM30.7 17.3h1.1v1.4h-1.1zM12.3 28.7h1.4v1.3h-1.4zM60.7 51.8h1.3v1.1h-1.3zM37.9 30.3h1.4v1.3h-1.4zM44.4 51.9h1.2v1.4h-1.2zM57.6 9.9h1.5v1.4h-1.5zM54.7 21.6h1.1v1.1h-1.1zM23.7 54.7h1.2v1.0h-1.2zM19.5 5.3h1.3v1.4h-1.3zM59.3 5.7h1.2v1.1h-1.2zM58.3 53.6h1.3v1.5h-1.3zM33.3 49.7h1.2v1.2h-1.2zM63.6 53.9h1.3v1.4h-1.3zM41.6 51.1h1.0v1.1h-1.0zM7.0 38.6h1.4v1.1h-1.4zM32.3 7.3h1.3v1.4h-1.3zM5.5 62.7h1.3v1.1h-1.3zM22.5 10.1h1.4v1.5h-1.4zM11.2 11.8h1.3v1.4h-1.3zM47.3 29.3h1.1v1.3h-1.1zM29.2 51.4h1.3v1.4h-1.3zM62.2 40.1h1.5v1.1h-1.5zM0.1 56.5h1.0v1.5h-1.0zM29.2 3.9h1.1v1.4h-1.1zM24.6 39.9h1.1v1.4h-1.1zM23.9 53.3h1.1v1.3h-1.1zM30.0 25.9h1.0v1.3h-1.0zM53.6 6.6h1.2v1.0h-1.2zM63.6 62.0h1.3v1.2h-1.3zM4.5 7.7h1.4v1.4h-1.4zM63.3 55.2h1.2v1.1h-1.2zM34.7 22.1h1.3v1.4h-1.3zM29.0 62.8h1.4v1.0h-1.4zM47.8 42.3h1.3v1.0h-1.3zM56.2 31.7h1.3v1.1h-1.3zM2.3 0.9h1.1v1.2h-1.1zM9.9 3.7h1.4v1.4h-1.4zM56.5 13.9h1.4v1.3h-1.4zM5.8 56.0h1.2v1.1h-1.2zM11.7 59.2h1.1v1.2h-1.1zM35.0 23.0h1.3v1.0h-1.3z" fill="#a0a0e4"/><path d="M27.5 37.4h1.2v1.2h-1.2zM17.2 40.8h1.4v1.1h-1.4zM41.2 53.6h1.0v1.0h-1.0zM62.1 19.2h1.1v1.1h-1.1zM63.6 34.9h1.3v1.0h-1.3zM17.8 41.6h1.1v1.2h-1.1zM32.5 5.0h1.0v1.1h-1.0zM34.2 11.3h1.0v0.9h-1.0zM17.0 19.8h1.1v1.2h-1.1zM54.6 45.9h1.3v1.0h-1.3zM31.7 46.5h1.3v1.0h-1.3zM1.0 3.3h1.2v1.3h-1.2zM9.8 50.2h1.2v1.3h-1.2zM57.7 6.9h1.3v1.0h-1.3zM7.6 25.5h1.1v0.9h-1.1zM17.6 11.2h1.0v0.9h-1.0zM1.5 13.9h1.1v1.1h-1.1zM44.4 39.2h1.1v1.1h-1.1zM39.3 12.3h1.0v1.0h-1.0zM42.8 8.9h1.0v1.1h-1.0zM36.1 41.4h1.2v1.2h-1.2zM12.3 58.4h1.3v1.1h-1.3zM25.4 36.9h1.0v1.2h-1.0zM57.8 23.3h1.1v1.0h-1.1zM58.2 24.1h1.1v1.3h-1.1zM23.8 57.9h1.1v1.2h-1.1zM19.5 37.7h1.1v1.0h-1.1zM56.9 10.3h1.2v1.2h-1.2zM30.0 21.0h1.1v1.4h-1.1zM0.8 56.6h1.2v1.1h-1.2zM40.8 40.9h1.3v1.4h-1.3zM33.0 22.5h1.1v1.4h-1.1zM30.7 4.5h1.2v1.0h-1.2zM22.2 41.7h1.2v1.2h-1.2zM53.1 38.9h1.4v1.3h-1.4zM16.9 50.0h1.1v1.4h-1.1zM39.6 26.8h1.0v1.3h-1.0zM22.6 1.0h1.3v0.9h-1.3zM2.9 1.9h1.2v1.2h-1.2zM30.9 59.8h1.1v1.0h-1.1zM63.8 7.1h0.9v1.0h-0.9zM62.5 26.7h1.1v1.1h-1.1zM23.7 48.4h1.2v1.0h-1.2zM12.2 52.2h1.2v1.2h-1.2zM12.9 62.5h1.2v1.4h-1.2zM43.1 40.9h0.9v1.4h-0.9zM54.7 4.9h0.9v1.2h-0.9zM42.7 12.4h1.4v0.9h-1.4zM36.4 30.8h1.1v1.2h-1.1zM28.2 49.1h1.3v0.9h-1.3zM20.9 34.7h1.0v1.2h-1.0zM1.9 6.7h1.2v1.0h-1.2zM13.3 26.4h1.2v1.2h-1.2zM38.3 31.9h1.1v1.3h-1.1zM55.3 57.5h1.4v1.2h-1.4zM12.8 44.9h1.0v1.1h-1.0zM25.6 2.1h1.1v1.0h-1.1zM14.9 27.6h1.3v1.2h-1.3zM20.2 46.3h1.1v1.1h-1.1zM26.2 18.3h1.0v1.4h-1.0zM38.1 42.0h1.2v1.2h-1.2zM40.3 0.5h0.9v1.2h-0.9zM29.7 0.8h1.0v1.1h-1.0zM61.9 53.5h0.9v1.1h-0.9zM22.4 8.8h1.0v1.4h-1.0zM58.7 17.3h1.3v1.0h-1.3zM40.5 5.5h1.2v1.2h-1.2zM63.6 37.0h1.4v1.0h-1.4zM40.0 13.4h0.9v1.4h-0.9zM1.7 22.6h1.1v1.0h-1.1zM54.8 48.3h1.1v1.2h-1.1zM53.1 3.8h1.2v1.3h-1.2zM38.8 33.5h1.0v1.0h-1.0zM11.3 22.9h1.0v1.3h-1.0zM10.2 8.1h1.3v1.1h-1.3zM7.3 52.2h0.9v1.1h-0.9zM25.9 33.2h1.0v1.4h-1.0zM37.2 20.9h1.2v1.1h-1.2zM35.9 38.2h1.0v1.3h-1.0zM6.0 59.7h1.1v1.2h-1.1zM6.8 32.7h1.1v1.2h-1.1zM43.9 6.4h0.9v1.3h-0.9zM13.1 43.4h1.3v1.3h-1.3zM0.4 40.9h1.3v0.9h-1.3zM0.5 56.6h1.2v1.3h-1.2zM49.2 39.1h1.0v1.0h-1.0zM1.0 42.2h1.2v1.4h-1.2zM15.7 9.3h1.1v1.4h-1.1zM15.2 56.4h1.2v1.3h-1.2zM7.4 51.5h1.1v1.3h-1.1zM3.1 18.9h1.2v1.0h-1.2zM34.5 6.8h1.0v1.2h-1.0zM21.0 62.6h1.1v1.1h-1.1zM25.7 40.8h1.1v1.4h-1.1zM12.8 37.5h1.3v1.0h-1.3zM14.9 32.7h1.3v1.3h-1.3zM54.8 45.6h0.9v1.4h-0.9zM10.1 0.9h1.2v0.9h-1.2zM2.8 12.3h1.4v1.0h-1.4zM54.5 60.3h1.0v1.0h-1.0z" fill="#3434c0"/></pattern><linearGradient id="cmg" gradientUnits="userSpaceOnUse" x1="140" y1="0" x2="334" y2="0"><stop offset="0" stop-color="#000"/><stop offset="0.06" stop-color="#555"/><stop offset="0.13" stop-color="#ddd"/><stop offset="0.2" stop-color="#fff"/><stop offset="0.82" stop-color="#fff"/><stop offset="0.9" stop-color="#ccc"/><stop offset="0.95" stop-color="#555"/><stop offset="1" stop-color="#000"/></linearGradient><mask id="cm" maskUnits="userSpaceOnUse" x="0" y="0" width="400" height="642"><rect width="400" height="642" fill="url(#cmg)"/></mask><pattern id="sp" width="64" height="64" patternUnits="userSpaceOnUse"><rect width="64" height="64" fill="#f9f8fa"/><path d="M29.6 23.9h1.1v1.9h-1.1zM0.4 32.2h1.9v1.1h-1.9zM35.5 39.5h1.0v1.4h-1.0zM45.0 28.9h1.7v1.2h-1.7zM15.2 7.1h1.5v1.9h-1.5zM37.8 49.5h1.4v1.7h-1.4zM6.5 18.6h1.7v1.7h-1.7zM27.0 5.6h1.3v1.2h-1.3zM18.0 51.8h1.2v1.9h-1.2zM56.3 3.5h1.4v1.5h-1.4zM1.5 27.2h1.9v1.1h-1.9zM38.2 7.8h1.6v1.9h-1.6zM13.0 0.5h1.1v1.5h-1.1zM1.1 5.4h1.5v1.9h-1.5zM26.9 25.5h1.6v1.1h-1.6zM37.1 11.0h1.6v2.0h-1.6zM3.5 35.5h1.6v1.1h-1.6zM17.2 63.7h2.0v1.1h-2.0zM45.1 60.9h1.2v1.6h-1.2zM2.8 23.4h1.7v1.6h-1.7zM49.6 5.6h1.3v1.9h-1.3zM37.4 28.9h1.4v2.0h-1.4zM36.8 1.2h1.8v1.3h-1.8zM27.7 13.7h1.4v1.3h-1.4zM5.7 40.3h1.1v1.8h-1.1zM1.6 50.0h1.8v1.5h-1.8zM45.4 15.9h1.7v1.4h-1.7zM14.8 61.7h1.4v1.4h-1.4zM55.0 23.6h1.7v1.2h-1.7zM54.0 16.6h1.1v2.0h-1.1zM11.1 60.6h2.0v1.6h-2.0zM0.8 3.9h1.2v1.4h-1.2zM39.1 61.9h1.4v1.1h-1.4zM36.0 8.8h1.1v1.6h-1.1zM44.5 4.2h1.5v1.7h-1.5zM48.9 24.5h1.9v1.2h-1.9zM45.8 49.4h1.9v1.5h-1.9zM6.4 3.1h1.5v1.2h-1.5zM40.3 5.4h1.8v1.2h-1.8zM0.8 11.3h1.5v1.6h-1.5zM24.9 11.1h1.5v1.9h-1.5zM34.3 60.2h1.0v2.0h-1.0zM56.9 34.8h1.5v1.5h-1.5zM58.2 4.2h1.6v1.5h-1.6zM19.2 46.4h1.7v1.1h-1.7zM44.8 29.0h1.5v1.6h-1.5zM3.4 38.6h1.4v1.9h-1.4zM14.8 52.7h1.7v1.6h-1.7zM56.1 2.3h1.6v1.6h-1.6zM43.4 26.0h1.1v1.2h-1.1zM38.9 11.6h1.1v1.4h-1.1zM30.1 34.3h1.0v1.8h-1.0zM21.4 50.1h1.0v2.0h-1.0zM37.8 62.5h2.0v1.8h-2.0zM6.8 22.3h1.2v1.8h-1.2zM12.3 14.2h1.1v1.1h-1.1zM60.0 62.5h1.4v1.7h-1.4zM29.9 33.4h1.4v1.6h-1.4zM15.1 16.4h1.5v1.2h-1.5zM28.1 60.4h1.0v1.1h-1.0zM51.2 3.7h1.3v1.9h-1.3zM38.7 14.1h1.1v1.3h-1.1zM19.2 51.2h2.0v1.8h-2.0zM57.7 59.6h1.9v1.9h-1.9zM61.9 6.0h1.3v1.2h-1.3zM38.7 31.5h1.3v1.8h-1.3zM25.5 13.4h1.3v1.5h-1.3zM39.1 36.4h1.4v1.2h-1.4zM25.7 20.8h1.2v1.5h-1.2zM12.1 45.5h1.7v1.1h-1.7zM40.0 21.6h1.4v1.6h-1.4zM48.7 56.5h1.7v1.2h-1.7zM34.7 21.5h1.0v1.6h-1.0zM30.1 55.5h1.3v1.8h-1.3zM32.9 6.3h1.7v1.3h-1.7zM34.1 4.6h1.0v1.9h-1.0zM2.7 9.5h1.2v1.1h-1.2zM52.7 63.7h1.6v1.4h-1.6zM56.9 32.4h1.1v1.7h-1.1zM23.0 17.3h1.3v1.4h-1.3zM11.7 39.2h1.9v1.6h-1.9zM0.6 43.8h1.0v1.5h-1.0zM55.4 43.3h1.9v1.8h-1.9zM17.5 9.2h1.5v1.7h-1.5zM14.9 21.2h1.7v1.3h-1.7zM38.5 34.9h1.9v1.0h-1.9zM11.9 49.8h1.7v1.1h-1.7zM8.6 13.5h1.5v1.9h-1.5zM13.9 13.0h1.7v1.4h-1.7zM54.2 63.9h1.9v1.7h-1.9zM31.8 3.9h1.8v1.4h-1.8zM29.7 40.5h2.0v1.6h-2.0zM58.7 61.7h1.1v1.4h-1.1zM56.9 49.1h2.0v1.2h-2.0zM34.0 59.7h1.5v1.7h-1.5zM62.4 11.1h1.1v1.9h-1.1zM37.2 12.8h1.8v1.3h-1.8zM8.3 19.0h1.0v1.4h-1.0zM49.9 29.1h2.0v1.0h-2.0zM11.1 9.2h1.6v1.2h-1.6zM42.7 33.5h1.6v1.8h-1.6zM50.6 59.0h1.2v1.4h-1.2zM61.5 25.4h1.3v1.5h-1.3zM11.6 54.3h1.6v1.1h-1.6zM61.7 33.3h1.3v1.6h-1.3zM60.8 22.2h1.0v1.2h-1.0zM3.8 33.8h1.3v1.9h-1.3zM13.2 1.0h1.5v1.1h-1.5zM19.9 14.4h1.2v1.6h-1.2zM59.9 23.7h1.6v1.3h-1.6zM58.6 35.4h1.0v1.7h-1.0zM13.4 3.0h1.0v1.8h-1.0zM45.4 22.9h1.6v1.7h-1.6zM4.8 45.2h1.7v1.9h-1.7zM3.8 36.6h1.5v1.8h-1.5zM23.3 42.4h1.9v1.3h-1.9zM33.0 57.2h1.0v2.0h-1.0zM20.0 29.3h1.3v1.8h-1.3zM34.1 47.9h1.1v1.9h-1.1zM52.5 43.5h1.2v1.3h-1.2zM28.9 4.2h2.0v1.4h-2.0zM61.0 11.7h1.6v1.8h-1.6zM41.2 27.1h1.0v1.4h-1.0zM25.0 60.5h2.0v2.0h-2.0zM62.7 10.8h1.0v1.3h-1.0zM0.5 7.6h1.6v1.2h-1.6zM39.1 24.4h1.3v2.0h-1.3zM11.9 56.5h1.5v1.7h-1.5zM9.2 47.7h1.9v1.2h-1.9zM30.3 41.8h1.5v1.8h-1.5zM41.2 20.1h1.7v1.8h-1.7zM29.7 37.8h1.6v1.5h-1.6zM5.7 26.1h1.8v1.7h-1.8zM4.7 30.6h1.6v1.5h-1.6zM9.6 41.4h1.7v1.5h-1.7zM60.1 37.0h1.0v1.3h-1.0zM44.9 5.1h2.0v1.7h-2.0zM49.0 10.9h1.0v1.9h-1.0zM32.7 28.3h1.5v1.8h-1.5zM23.8 49.5h1.2v2.0h-1.2zM44.5 20.4h1.5v1.9h-1.5zM20.8 44.7h1.9v2.0h-1.9zM16.4 50.9h1.6v1.8h-1.6zM4.4 26.4h1.5v1.8h-1.5zM28.9 2.7h1.2v1.8h-1.2zM56.5 36.7h1.1v1.8h-1.1zM55.4 18.4h1.5v1.3h-1.5zM3.4 47.0h1.2v1.1h-1.2zM58.2 6.2h1.8v1.8h-1.8zM16.0 23.8h1.2v1.7h-1.2zM62.3 47.6h1.5v1.5h-1.5zM26.1 45.7h1.3v1.2h-1.3zM44.6 16.3h2.0v1.7h-2.0zM11.8 1.4h1.6v1.1h-1.6zM32.0 38.4h1.8v1.4h-1.8zM34.9 52.1h1.1v1.3h-1.1zM51.8 22.9h1.9v1.1h-1.9zM5.4 23.2h1.5v1.4h-1.5zM14.1 28.7h1.9v1.9h-1.9zM40.1 16.4h1.6v1.2h-1.6zM4.0 50.9h1.3v1.2h-1.3zM52.5 7.8h1.2v1.2h-1.2zM57.1 43.6h1.2v1.1h-1.2zM58.0 8.2h1.7v1.7h-1.7zM37.6 30.7h1.4v1.3h-1.4zM41.4 9.6h1.5v1.3h-1.5zM23.5 57.0h1.6v1.6h-1.6zM41.4 0.1h1.8v1.9h-1.8zM47.8 33.4h1.8v1.9h-1.8zM17.7 10.5h1.3v1.0h-1.3zM15.0 5.3h1.0v1.4h-1.0zM0.4 30.8h1.9v1.7h-1.9zM3.3 46.6h1.2v1.8h-1.2zM41.2 34.8h1.4v2.0h-1.4zM13.4 57.5h1.2v1.1h-1.2zM13.8 2.4h1.8v1.2h-1.8zM36.7 17.6h1.4v1.8h-1.4zM35.2 17.1h1.7v1.1h-1.7zM2.6 44.5h1.9v1.8h-1.9zM44.6 59.6h1.9v1.6h-1.9zM11.3 37.1h1.4v1.7h-1.4zM22.3 4.6h1.2v1.1h-1.2zM46.9 44.1h1.5v1.3h-1.5zM46.6 28.6h1.5v1.2h-1.5zM63.8 28.3h1.5v1.2h-1.5zM28.7 30.1h1.4v1.7h-1.4zM21.4 39.9h1.7v1.1h-1.7zM52.7 4.5h1.3v1.8h-1.3zM7.6 17.7h1.4v1.9h-1.4zM62.0 13.9h1.6v1.8h-1.6zM32.9 20.1h1.2v1.1h-1.2zM2.9 3.1h1.7v1.6h-1.7zM4.3 59.9h2.0v1.4h-2.0zM23.2 56.0h1.7v1.7h-1.7zM11.7 46.6h1.4v1.1h-1.4zM3.1 16.9h1.2v1.3h-1.2zM58.3 25.4h1.2v1.1h-1.2zM3.6 26.0h1.4v1.1h-1.4zM33.1 22.0h1.0v1.5h-1.0zM10.1 11.5h1.8v1.4h-1.8zM22.8 35.5h1.7v1.6h-1.7zM60.8 45.8h1.3v2.0h-1.3zM1.0 12.0h1.1v1.4h-1.1zM22.6 24.9h1.6v1.3h-1.6zM30.9 43.3h1.9v2.0h-1.9zM23.6 24.6h2.0v1.8h-2.0zM56.2 7.3h1.3v1.4h-1.3zM19.8 29.7h1.9v1.4h-1.9zM32.4 20.7h1.6v1.5h-1.6zM11.6 3.8h1.8v1.8h-1.8zM21.7 12.8h1.1v1.6h-1.1zM37.0 59.9h1.7v1.6h-1.7zM38.0 58.2h1.9v1.2h-1.9zM7.8 8.2h1.0v1.9h-1.0zM61.6 32.0h1.8v1.7h-1.8zM42.0 25.1h2.0v1.3h-2.0zM6.4 3.4h1.8v1.8h-1.8zM54.6 51.2h1.2v1.4h-1.2zM18.0 55.3h1.0v1.3h-1.0zM41.8 40.8h1.0v1.1h-1.0zM10.8 14.0h1.5v1.0h-1.5zM53.0 29.8h1.7v1.4h-1.7zM54.3 6.7h1.9v1.2h-1.9zM32.9 36.0h1.7v1.5h-1.7zM46.1 3.3h1.5v1.5h-1.5zM39.7 6.8h1.7v1.1h-1.7zM3.0 3.3h2.0v1.2h-2.0zM43.8 3.6h1.6v1.2h-1.6zM38.3 47.3h1.7v1.5h-1.7zM45.9 0.1h1.1v1.2h-1.1zM28.9 48.9h1.0v1.2h-1.0zM33.6 20.8h1.1v1.3h-1.1zM1.7 0.9h1.8v1.3h-1.8zM45.8 15.7h1.7v1.9h-1.7zM1.1 38.6h1.9v1.8h-1.9zM7.8 46.7h1.8v1.2h-1.8zM42.1 39.9h1.2v1.8h-1.2zM54.8 4.8h1.5v1.6h-1.5zM0.5 33.1h1.9v1.3h-1.9zM31.7 60.0h1.9v2.0h-1.9zM5.8 64.0h1.3v1.4h-1.3zM11.8 51.6h1.6v1.5h-1.6zM31.7 32.8h1.6v1.2h-1.6zM46.0 16.8h1.0v2.0h-1.0zM6.3 51.3h1.8v1.4h-1.8zM39.0 15.5h1.2v1.9h-1.2zM48.0 49.2h1.5v1.0h-1.5zM49.5 61.4h1.3v1.6h-1.3zM9.4 61.5h1.7v1.1h-1.7zM44.8 43.3h1.4v1.6h-1.4zM59.6 43.6h1.5v2.0h-1.5zM40.8 49.7h1.6v1.8h-1.6zM49.5 32.0h1.5v1.2h-1.5zM41.8 46.5h1.4v1.1h-1.4zM45.2 41.4h1.6v1.2h-1.6zM56.7 46.6h1.8v1.1h-1.8zM17.4 34.1h1.0v2.0h-1.0zM11.2 9.7h1.8v1.2h-1.8zM36.8 41.7h1.2v1.0h-1.2zM45.0 56.0h1.8v1.1h-1.8zM21.4 29.0h1.0v1.9h-1.0zM53.0 62.0h1.9v1.8h-1.9zM19.0 41.7h1.9v1.0h-1.9zM4.7 63.2h1.1v1.9h-1.1zM24.3 15.6h1.4v1.9h-1.4zM41.5 8.0h1.8v1.3h-1.8zM52.8 32.1h1.9v1.5h-1.9zM22.6 63.4h2.0v1.5h-2.0zM33.4 38.6h1.7v1.3h-1.7zM59.6 26.9h2.0v1.6h-2.0zM58.7 59.0h1.3v1.0h-1.3zM37.1 36.8h1.3v1.4h-1.3zM17.5 5.9h1.5v1.5h-1.5zM28.0 54.1h1.4v1.8h-1.4zM48.3 32.4h1.5v1.2h-1.5zM43.9 55.5h2.0v1.8h-2.0zM62.0 37.4h1.5v2.0h-1.5zM43.0 4.5h1.9v1.6h-1.9zM54.8 26.0h1.6v1.6h-1.6zM39.3 56.4h1.4v1.7h-1.4zM60.2 5.7h1.9v1.7h-1.9zM28.2 2.5h1.5v1.2h-1.5zM12.5 32.3h1.6v1.9h-1.6zM40.4 49.1h1.5v1.0h-1.5zM21.1 7.6h1.6v1.3h-1.6zM39.1 21.6h1.0v1.2h-1.0zM59.7 28.8h1.7v1.5h-1.7zM29.5 43.7h1.9v1.6h-1.9zM50.5 22.4h1.3v1.0h-1.3zM34.2 4.0h1.3v1.5h-1.3zM23.9 13.3h1.4v1.9h-1.4zM36.0 42.4h2.0v1.6h-2.0zM60.9 44.5h1.8v1.6h-1.8zM63.9 35.2h1.3v1.7h-1.3zM6.0 27.2h1.9v1.1h-1.9zM26.2 19.4h1.6v1.9h-1.6zM20.5 36.4h1.0v1.2h-1.0zM26.8 40.9h1.9v1.9h-1.9zM32.6 16.7h1.8v1.8h-1.8zM50.7 42.7h1.6v1.4h-1.6zM36.6 23.5h1.7v1.9h-1.7zM19.4 47.1h1.1v1.1h-1.1zM12.1 18.6h1.4v1.4h-1.4zM58.0 3.5h1.9v1.2h-1.9zM19.3 29.9h1.4v1.6h-1.4zM2.1 38.1h1.0v1.2h-1.0zM18.0 32.8h1.7v1.0h-1.7zM1.9 26.4h1.2v1.7h-1.2zM52.0 57.9h2.0v2.0h-2.0zM15.3 36.3h1.1v1.5h-1.1zM44.8 40.5h2.0v1.4h-2.0zM27.2 57.7h1.8v1.2h-1.8zM25.3 49.6h1.1v1.8h-1.1zM57.3 41.5h1.1v1.6h-1.1zM9.9 56.9h1.2v1.1h-1.2zM28.9 15.2h1.9v1.2h-1.9zM7.7 23.9h1.4v1.5h-1.4zM61.6 25.5h1.9v1.1h-1.9zM30.8 57.0h1.8v1.6h-1.8zM5.6 63.9h1.4v1.7h-1.4zM6.4 6.3h1.4v1.8h-1.4zM48.3 24.7h1.3v1.6h-1.3zM28.4 15.9h1.1v1.1h-1.1zM5.6 49.7h2.0v1.8h-2.0zM42.9 28.6h1.3v1.5h-1.3zM25.7 53.2h2.0v1.4h-2.0zM17.7 46.7h1.9v2.0h-1.9zM62.7 50.8h1.8v1.5h-1.8zM44.4 13.7h2.0v1.2h-2.0zM49.0 50.3h1.9v1.4h-1.9zM31.2 1.1h1.9v1.6h-1.9zM9.0 21.8h1.4v1.5h-1.4zM19.5 17.0h1.5v1.8h-1.5zM30.1 28.5h1.4v1.9h-1.4zM48.7 44.2h1.1v1.8h-1.1zM27.7 44.4h1.5v1.1h-1.5zM35.0 46.5h1.2v1.6h-1.2zM17.3 0.7h1.0v1.4h-1.0zM15.9 11.3h1.3v1.8h-1.3zM32.9 36.7h1.9v1.2h-1.9zM57.2 43.4h1.7v1.9h-1.7zM10.2 25.7h1.5v1.5h-1.5zM63.1 15.1h1.3v1.8h-1.3zM50.8 20.6h1.1v1.5h-1.1zM36.0 54.9h1.6v1.5h-1.6zM50.0 42.5h1.6v1.0h-1.6zM45.3 28.1h1.5v1.5h-1.5zM50.0 10.4h1.9v1.1h-1.9zM52.5 54.1h1.0v1.6h-1.0zM52.6 20.2h1.2v1.9h-1.2zM14.1 63.6h1.3v1.9h-1.3zM35.6 4.9h1.2v1.6h-1.2zM0.7 14.6h1.4v1.1h-1.4zM60.4 33.2h1.4v1.4h-1.4zM7.1 38.6h1.7v1.7h-1.7zM55.2 55.3h1.4v1.2h-1.4zM5.9 44.4h1.6v1.1h-1.6zM46.1 56.7h1.0v1.6h-1.0zM49.8 47.3h1.3v1.4h-1.3zM5.4 14.1h1.6v1.9h-1.6zM21.8 42.5h1.9v1.7h-1.9zM13.8 21.2h1.9v1.0h-1.9zM31.5 23.4h1.2v1.6h-1.2zM20.1 17.6h1.8v1.7h-1.8zM56.8 0.3h1.8v1.5h-1.8zM32.2 58.9h1.5v1.9h-1.5zM50.7 4.5h1.9v1.3h-1.9zM34.5 32.6h1.6v1.1h-1.6zM33.5 42.7h1.3v1.8h-1.3zM32.9 29.1h1.2v1.2h-1.2zM22.7 30.7h1.9v1.7h-1.9zM10.4 15.2h1.9v1.0h-1.9zM59.6 51.5h1.9v1.2h-1.9zM54.1 31.2h1.4v1.3h-1.4zM21.7 44.0h1.3v2.0h-1.3zM50.0 56.6h1.7v1.7h-1.7zM16.1 8.7h1.1v1.6h-1.1zM57.9 23.3h1.5v1.3h-1.5zM41.9 57.6h1.7v1.5h-1.7zM58.1 28.4h1.9v1.8h-1.9zM46.3 42.8h1.4v1.4h-1.4zM21.6 43.5h1.9v1.2h-1.9zM31.3 18.7h1.3v1.2h-1.3zM55.2 29.0h1.8v1.2h-1.8zM47.9 36.2h1.9v1.4h-1.9zM19.6 4.5h1.8v1.8h-1.8zM1.1 32.7h1.7v1.4h-1.7zM7.3 23.8h1.6v1.5h-1.6zM40.2 0.1h1.5v1.4h-1.5zM57.7 52.1h1.9v1.5h-1.9zM46.9 42.5h1.9v1.4h-1.9zM44.8 31.2h1.4v1.3h-1.4zM5.2 20.4h1.6v1.9h-1.6zM11.2 56.7h1.8v1.7h-1.8zM30.5 30.8h1.6v1.8h-1.6zM56.9 0.7h1.9v1.8h-1.9zM56.1 19.7h1.3v1.8h-1.3zM54.9 26.4h1.4v1.3h-1.4zM10.0 10.7h1.3v1.2h-1.3zM38.3 48.7h1.5v1.3h-1.5zM14.7 29.4h1.2v1.4h-1.2zM10.2 45.4h1.8v1.1h-1.8zM10.2 20.9h1.2v1.9h-1.2zM30.0 1.4h1.4v1.7h-1.4zM58.4 22.0h1.9v1.2h-1.9zM15.8 45.5h1.6v1.4h-1.6zM8.5 33.8h1.2v1.9h-1.2zM62.1 42.2h1.6v1.1h-1.6zM5.8 26.9h1.4v1.7h-1.4zM59.9 29.7h1.7v2.0h-1.7zM14.0 2.7h1.1v1.8h-1.1zM35.8 45.4h2.0v1.1h-2.0zM38.1 31.9h1.5v1.5h-1.5zM35.1 49.8h1.5v1.8h-1.5zM22.5 58.0h1.6v1.7h-1.6zM32.3 44.6h1.5v1.7h-1.5zM52.7 0.8h1.5v1.3h-1.5zM4.8 3.7h1.7v1.0h-1.7zM42.2 3.7h1.2v1.4h-1.2zM46.2 45.2h1.4v1.5h-1.4zM40.4 3.1h1.4v1.5h-1.4zM0.7 33.1h1.5v1.7h-1.5zM8.1 52.4h1.6v1.3h-1.6zM1.9 53.2h1.6v2.0h-1.6zM62.4 16.2h1.6v1.5h-1.6zM50.1 27.0h1.6v1.1h-1.6zM59.2 3.4h1.5v1.8h-1.5zM13.9 18.2h1.7v1.1h-1.7zM32.1 63.1h1.3v1.7h-1.3zM32.7 26.7h1.5v2.0h-1.5zM8.4 37.0h1.4v1.1h-1.4zM20.3 56.9h1.5v1.4h-1.5zM61.2 2.3h1.6v1.9h-1.6zM63.7 20.1h1.3v1.7h-1.3zM29.7 3.5h1.1v1.9h-1.1zM35.8 55.8h1.8v1.3h-1.8zM26.2 25.8h1.5v1.3h-1.5zM23.6 15.9h1.4v1.7h-1.4zM29.5 3.6h1.6v1.9h-1.6zM60.5 51.4h1.9v1.2h-1.9zM51.8 22.7h1.3v1.4h-1.3zM59.5 45.4h1.7v1.3h-1.7zM45.6 13.5h1.4v1.8h-1.4zM63.1 37.4h1.6v1.4h-1.6zM7.6 40.3h1.6v1.1h-1.6zM22.0 19.9h1.9v1.8h-1.9zM18.5 19.5h1.4v1.1h-1.4zM15.7 17.1h1.2v1.7h-1.2zM3.7 50.6h1.7v1.2h-1.7zM22.7 39.5h2.0v1.1h-2.0zM49.1 18.3h1.8v1.7h-1.8zM23.3 11.3h1.3v1.7h-1.3zM40.3 13.2h1.3v1.4h-1.3zM0.8 36.5h1.9v1.1h-1.9zM4.3 47.1h1.7v1.9h-1.7zM30.7 61.7h1.8v1.3h-1.8zM23.0 3.1h1.5v1.6h-1.5zM35.8 35.7h1.9v1.9h-1.9zM18.8 2.2h1.1v2.0h-1.1zM16.0 61.9h1.6v1.0h-1.6zM30.9 12.7h1.3v1.4h-1.3zM12.6 0.6h1.1v2.0h-1.1zM25.6 33.2h1.1v1.5h-1.1zM49.8 57.4h1.2v2.0h-1.2zM47.3 19.2h1.1v1.2h-1.1zM13.8 8.5h1.6v1.9h-1.6zM31.4 49.4h1.9v2.0h-1.9zM33.4 40.3h1.7v1.9h-1.7zM41.6 47.8h1.6v1.8h-1.6zM53.0 7.5h1.9v1.4h-1.9zM41.3 51.7h1.1v1.6h-1.1zM42.5 36.2h1.5v1.7h-1.5zM27.8 33.6h1.8v1.8h-1.8zM40.6 61.3h1.7v1.7h-1.7zM38.3 37.1h1.8v1.9h-1.8zM32.6 2.9h1.4v1.3h-1.4zM53.7 47.6h1.7v1.8h-1.7zM34.0 30.6h1.0v1.4h-1.0zM49.6 11.1h1.5v1.3h-1.5zM14.9 16.0h1.2v1.7h-1.2zM15.9 58.7h1.0v2.0h-1.0zM52.8 57.7h1.3v1.0h-1.3zM49.3 34.1h1.2v1.9h-1.2zM19.4 10.4h1.8v1.7h-1.8zM10.4 18.8h1.6v1.6h-1.6zM53.6 11.5h1.9v1.3h-1.9zM10.5 45.0h1.6v1.5h-1.6zM35.2 44.2h1.6v1.4h-1.6zM22.2 9.5h1.1v1.3h-1.1zM5.9 51.7h1.0v1.6h-1.0zM32.7 54.4h1.7v1.4h-1.7zM13.6 39.7h1.1v1.2h-1.1zM56.3 54.4h1.9v1.9h-1.9zM35.4 5.9h1.7v1.9h-1.7zM5.3 27.3h1.8v1.2h-1.8zM18.5 17.8h1.9v1.0h-1.9zM9.6 19.6h1.5v1.5h-1.5zM60.6 2.6h1.3v1.5h-1.3zM4.3 17.8h2.0v2.0h-2.0zM36.3 61.6h1.3v1.8h-1.3zM48.3 60.6h1.2v1.6h-1.2zM60.9 48.9h1.6v1.4h-1.6zM56.7 55.9h1.2v1.8h-1.2zM20.1 52.1h1.2v1.6h-1.2zM61.7 11.1h1.5v1.2h-1.5zM5.6 0.4h1.3v1.2h-1.3zM50.1 6.7h1.4v1.0h-1.4zM2.8 42.7h1.8v1.6h-1.8zM38.0 0.1h1.4v1.2h-1.4zM46.9 44.4h1.4v1.4h-1.4zM1.4 29.6h1.0v1.9h-1.0zM4.3 49.7h1.6v1.6h-1.6zM14.1 28.1h1.4v1.3h-1.4zM44.5 13.8h1.2v1.6h-1.2zM6.6 60.2h1.6v1.1h-1.6zM57.9 35.1h1.1v1.5h-1.1zM53.1 18.0h1.6v1.3h-1.6zM4.4 29.8h1.4v1.4h-1.4zM56.3 58.0h1.5v1.7h-1.5zM52.8 23.4h1.7v1.1h-1.7z" fill="#e4e2e8"/><path d="M14.9 18.2h1.2v0.8h-1.2zM61.7 36.3h1.3v1.0h-1.3zM56.4 42.7h1.2v1.1h-1.2zM24.8 48.1h0.9v1.0h-0.9zM26.1 31.1h0.8v1.0h-0.8zM16.4 52.4h1.3v1.3h-1.3zM54.3 59.6h1.3v1.1h-1.3zM10.3 20.3h1.1v1.0h-1.1zM1.5 27.4h1.4v0.8h-1.4zM24.7 11.2h1.0v1.3h-1.0zM35.2 46.8h0.9v1.1h-0.9zM34.3 10.8h1.0v1.1h-1.0zM50.6 62.5h1.2v1.4h-1.2zM33.5 19.7h0.8v0.9h-0.8zM54.5 51.0h1.3v0.8h-1.3zM37.6 6.3h0.9v1.2h-0.9zM36.4 54.1h1.1v1.3h-1.1zM56.0 47.5h0.9v1.1h-0.9zM2.5 20.6h1.3v1.0h-1.3zM57.9 48.7h1.1v1.0h-1.1zM21.5 55.6h1.3v1.1h-1.3zM22.6 30.4h1.0v0.8h-1.0zM24.3 61.9h1.3v1.1h-1.3zM44.7 45.3h0.9v1.3h-0.9zM38.2 0.6h1.1v0.9h-1.1zM41.4 64.0h0.9v1.2h-0.9zM52.3 37.1h1.1v1.3h-1.1zM34.2 30.6h1.2v0.9h-1.2zM54.6 59.4h1.0v1.1h-1.0zM11.9 31.4h0.9v0.9h-0.9zM23.5 60.9h1.2v0.9h-1.2zM35.5 42.7h1.0v1.4h-1.0zM60.7 27.0h1.2v1.4h-1.2zM58.3 56.0h1.0v1.4h-1.0zM44.3 17.9h1.1v1.1h-1.1zM40.0 53.9h0.8v1.2h-0.8zM61.1 7.9h1.3v1.1h-1.3zM40.0 29.8h1.2v1.0h-1.2zM2.2 12.2h0.8v0.9h-0.8zM7.1 3.7h1.1v1.3h-1.1zM13.4 43.6h1.1v0.8h-1.1zM12.2 35.1h1.2v1.4h-1.2zM3.5 28.4h1.3v1.1h-1.3zM20.3 10.7h0.9v1.2h-0.9zM7.0 11.1h0.9v1.2h-0.9zM4.5 55.9h1.2v1.4h-1.2zM36.1 31.2h1.1v1.3h-1.1zM11.2 4.1h1.0v0.9h-1.0zM63.3 63.0h1.1v1.1h-1.1zM8.1 10.9h1.0v1.1h-1.0zM49.3 21.5h1.0v0.8h-1.0zM49.7 35.9h1.2v0.9h-1.2zM24.9 29.2h1.2v0.8h-1.2zM43.1 34.7h1.0v1.0h-1.0zM62.0 6.3h1.3v1.2h-1.3zM29.9 4.7h1.0v1.4h-1.0zM62.1 7.4h1.2v1.4h-1.2zM8.3 61.9h1.2v0.9h-1.2zM18.6 38.0h0.9v1.0h-0.9zM53.3 13.6h1.3v1.4h-1.3zM58.7 4.1h1.0v1.0h-1.0zM28.9 1.4h1.1v0.9h-1.1zM56.3 42.1h1.0v1.2h-1.0zM12.0 57.8h1.1v1.1h-1.1zM32.6 16.4h1.0v1.4h-1.0zM52.1 36.6h0.8v1.2h-0.8zM56.2 1.7h1.0v1.4h-1.0zM59.5 19.5h0.8v1.0h-0.8zM20.7 11.1h1.1v1.2h-1.1zM49.8 48.4h1.2v0.9h-1.2zM23.2 28.2h1.2v0.8h-1.2zM36.5 39.4h1.2v1.3h-1.2zM49.9 2.3h1.3v1.0h-1.3zM17.4 29.4h1.3v1.0h-1.3zM13.7 19.6h0.8v1.0h-0.8zM21.4 55.0h1.3v0.9h-1.3zM33.4 50.8h0.8v0.9h-0.8zM37.8 22.5h1.3v1.1h-1.3zM57.3 33.8h1.2v0.8h-1.2zM36.7 23.5h1.0v1.0h-1.0zM49.0 21.0h1.1v1.3h-1.1zM32.6 23.2h1.1v0.8h-1.1zM36.8 0.6h1.2v0.9h-1.2zM7.6 34.8h1.2v1.3h-1.2zM51.3 7.9h0.9v1.1h-0.9zM58.5 27.2h1.2v1.0h-1.2zM45.9 1.3h1.0v1.2h-1.0zM47.9 28.7h0.9v1.1h-0.9zM63.2 32.8h1.2v1.3h-1.2zM48.0 53.7h1.2v1.1h-1.2zM56.7 47.4h1.1v0.9h-1.1zM9.9 23.8h1.4v1.3h-1.4zM42.1 38.6h1.0v0.9h-1.0zM5.1 41.3h1.0v0.8h-1.0zM40.0 25.9h1.3v1.3h-1.3zM0.0 0.9h1.1v0.9h-1.1zM29.3 55.9h1.0v0.9h-1.0zM44.4 8.7h1.4v1.3h-1.4zM52.4 34.8h1.0v1.3h-1.0zM8.0 40.5h0.9v0.8h-0.9zM60.8 62.4h1.4v1.0h-1.4zM20.7 45.9h1.0v1.3h-1.0zM58.5 10.9h0.8v1.0h-0.8zM24.0 49.8h1.1v1.0h-1.1zM60.8 0.3h0.8v0.8h-0.8zM0.1 56.5h1.2v1.4h-1.2zM13.4 56.4h0.9v1.1h-0.9zM59.7 31.7h0.8v1.1h-0.8zM25.7 32.5h0.9v1.0h-0.9zM45.6 5.2h0.8v1.4h-0.8zM24.6 19.2h1.0v1.2h-1.0zM2.0 36.6h1.4v1.1h-1.4zM59.7 60.0h1.0v1.0h-1.0zM2.1 32.5h1.3v1.4h-1.3zM40.7 4.2h1.2v0.9h-1.2zM25.8 43.5h1.2v1.2h-1.2zM27.7 35.2h1.2v1.3h-1.2zM10.8 22.8h1.2v0.8h-1.2zM23.7 20.3h1.4v1.0h-1.4zM29.1 53.7h0.9v1.2h-0.9zM1.9 7.3h1.3v0.9h-1.3zM3.3 14.8h1.3v0.9h-1.3zM54.4 19.7h0.9v0.9h-0.9zM47.6 39.1h1.0v0.9h-1.0zM0.3 32.3h1.3v0.9h-1.3zM15.6 28.3h1.2v0.8h-1.2zM7.5 46.3h1.1v1.4h-1.1zM12.9 23.4h1.0v1.2h-1.0zM11.6 39.0h0.9v1.0h-0.9zM24.0 47.5h1.3v1.1h-1.3zM17.5 12.1h1.0v1.3h-1.0zM60.4 57.2h1.3v1.0h-1.3zM1.5 30.9h1.1v0.9h-1.1zM50.1 36.6h0.9v1.2h-0.9zM38.0 49.4h0.9v1.3h-0.9zM48.0 17.1h1.2v0.9h-1.2zM28.1 43.4h1.3v1.2h-1.3zM22.5 11.9h1.2v1.2h-1.2zM46.2 50.6h1.2v1.4h-1.2zM37.6 10.3h1.0v0.9h-1.0zM48.4 44.6h0.8v1.2h-0.8zM36.4 18.3h1.3v0.9h-1.3zM48.0 15.9h1.2v1.0h-1.2zM18.7 48.1h1.1v1.4h-1.1zM8.4 33.3h1.0v1.3h-1.0zM47.9 24.8h1.0v0.9h-1.0zM5.9 38.2h1.4v0.9h-1.4zM34.5 19.4h1.2v1.2h-1.2zM56.3 36.2h1.4v0.8h-1.4zM49.9 5.1h1.1v0.8h-1.1zM43.1 20.2h1.0v1.4h-1.0zM27.9 25.4h1.0v0.8h-1.0zM7.6 46.3h1.1v0.8h-1.1zM56.2 10.1h0.9v1.1h-0.9zM54.4 41.7h0.9v1.0h-0.9zM23.8 12.5h1.3v0.9h-1.3zM31.3 3.5h1.0v1.0h-1.0zM46.1 56.8h1.2v1.1h-1.2zM48.1 41.0h0.8v1.1h-0.8zM4.3 11.3h1.2v1.2h-1.2zM0.5 7.4h0.8v1.2h-0.8zM63.9 8.3h1.2v1.3h-1.2zM45.8 38.8h1.3v0.9h-1.3zM59.8 37.7h1.3v1.3h-1.3zM24.0 54.6h0.9v1.3h-0.9zM3.4 31.0h0.8v1.0h-0.8zM59.7 42.2h0.9v1.3h-0.9zM38.7 20.7h0.9v0.9h-0.9zM29.1 20.8h1.0v0.9h-1.0zM16.0 46.3h1.0v1.4h-1.0zM29.1 26.8h1.0v1.3h-1.0zM11.7 17.6h1.1v1.1h-1.1zM16.7 46.1h1.0v1.2h-1.0zM11.4 31.3h1.3v1.1h-1.3zM50.7 27.6h1.0v1.2h-1.0zM51.5 55.5h0.8v1.2h-0.8zM53.7 50.6h1.0v1.3h-1.0zM9.9 31.9h1.0v1.3h-1.0zM38.5 42.8h1.2v0.8h-1.2zM12.7 24.1h1.1v0.9h-1.1zM26.7 18.4h1.1v1.3h-1.1zM11.6 39.5h1.0v1.0h-1.0zM1.6 10.7h1.3v1.4h-1.3zM8.9 46.6h0.9v0.9h-0.9zM21.1 52.6h1.0v0.9h-1.0zM40.3 51.2h1.4v1.2h-1.4zM36.8 53.2h1.2v1.3h-1.2zM41.9 3.0h1.3v1.4h-1.3zM51.4 4.8h0.8v1.2h-0.8zM53.3 51.4h0.9v1.1h-0.9zM3.2 46.0h1.2v1.1h-1.2zM35.5 29.6h0.8v1.0h-0.8zM44.1 24.5h1.4v1.3h-1.4zM18.5 12.9h1.3v1.2h-1.3zM4.1 17.4h1.3v0.9h-1.3zM29.4 38.6h1.0v1.2h-1.0zM48.7 55.2h0.8v1.3h-0.8zM41.2 60.1h1.0v1.3h-1.0zM30.5 60.8h0.9v1.0h-0.9zM37.6 56.0h1.1v1.3h-1.1zM49.9 60.8h1.1v1.3h-1.1zM49.5 3.7h1.3v1.2h-1.3zM57.3 8.2h1.2v0.8h-1.2zM62.0 39.2h0.8v1.2h-0.8zM57.5 61.8h1.1v1.0h-1.1zM17.0 55.5h0.9v1.1h-0.9zM61.8 40.0h0.9v1.2h-0.9zM36.4 53.0h0.9v1.4h-0.9zM46.3 4.4h1.4v1.3h-1.4zM7.7 2.8h0.8v1.2h-0.8zM14.7 21.1h1.2v0.9h-1.2zM30.6 24.8h1.4v1.3h-1.4zM19.6 59.4h1.0v1.0h-1.0zM2.7 40.4h1.0v0.9h-1.0zM54.5 10.6h1.0v0.9h-1.0zM53.4 33.3h0.8v1.0h-0.8zM30.9 0.1h1.4v1.3h-1.4zM6.2 17.2h1.3v0.9h-1.3zM51.5 43.3h1.0v1.4h-1.0zM2.6 9.9h0.8v1.0h-0.8zM11.0 11.4h0.9v0.9h-0.9zM56.4 6.5h0.9v0.9h-0.9zM63.6 14.0h0.8v0.8h-0.8zM13.8 4.1h1.1v0.8h-1.1zM8.5 35.1h1.3v1.1h-1.3zM11.5 21.8h0.9v1.2h-0.9zM41.0 20.5h1.1v0.8h-1.1zM54.8 37.2h1.3v1.4h-1.3zM48.3 0.6h1.1v1.2h-1.1zM15.9 44.6h1.4v1.1h-1.4zM25.8 32.1h1.0v1.0h-1.0zM36.6 12.7h1.3v1.0h-1.3zM39.1 46.6h1.0v1.3h-1.0zM58.6 18.5h1.2v1.0h-1.2zM55.7 58.5h1.1v1.2h-1.1zM45.3 19.5h0.9v1.1h-0.9zM14.8 55.8h0.9v1.0h-0.9zM10.5 31.4h1.2v1.3h-1.2zM41.3 24.6h1.2v1.4h-1.2zM51.6 32.4h1.0v1.2h-1.0zM18.5 5.0h1.1v0.9h-1.1zM32.3 47.7h1.2v1.3h-1.2zM17.2 54.9h1.3v0.9h-1.3zM30.3 58.5h1.1v0.8h-1.1zM32.3 53.3h0.9v1.3h-0.9zM18.7 45.8h1.4v0.9h-1.4zM62.0 16.5h1.4v1.0h-1.4zM34.1 63.0h1.2v1.1h-1.2zM0.2 26.0h0.9v1.1h-0.9zM41.1 15.1h1.0v1.2h-1.0zM32.8 36.8h1.2v1.0h-1.2zM1.8 36.9h1.2v1.2h-1.2zM11.2 46.7h1.3v1.3h-1.3zM57.4 4.4h1.3v1.4h-1.3zM21.5 57.9h1.3v1.2h-1.3zM34.4 49.2h0.9v1.4h-0.9zM15.7 2.0h1.1v1.0h-1.1zM49.9 43.1h0.9v1.1h-0.9zM41.4 38.3h0.9v1.2h-0.9zM7.5 24.5h1.3v1.3h-1.3z" fill="#d0cdd6"/><path d="M18.7 15.9h1.1v1.1h-1.1zM36.9 29.0h1.2v1.0h-1.2zM36.4 28.9h1.1v1.2h-1.1zM15.6 3.4h1.2v1.4h-1.2zM18.7 59.2h1.3v1.6h-1.3zM12.6 60.4h1.1v1.1h-1.1zM13.8 16.8h1.5v1.3h-1.5zM28.3 12.3h1.1v1.5h-1.1zM14.7 8.1h1.3v1.4h-1.3zM16.7 29.6h1.4v1.0h-1.4zM42.2 17.9h1.2v1.3h-1.2zM29.3 58.5h1.0v1.0h-1.0zM7.5 38.1h1.1v1.3h-1.1zM33.3 40.4h1.2v1.1h-1.2zM39.6 49.0h1.2v1.2h-1.2zM40.9 13.0h1.3v1.1h-1.3zM52.7 47.4h1.1v1.5h-1.1zM15.3 3.4h1.2v1.4h-1.2zM7.4 57.4h1.2v1.3h-1.2zM27.4 29.9h1.3v1.2h-1.3zM16.7 17.5h1.1v1.2h-1.1zM50.4 23.4h1.5v1.5h-1.5zM26.6 62.8h1.1v1.3h-1.1zM25.9 3.1h1.0v1.6h-1.0zM19.9 63.5h1.4v1.6h-1.4zM25.8 35.9h1.0v1.2h-1.0zM7.9 30.8h1.5v1.2h-1.5zM25.1 47.9h1.3v1.3h-1.3zM24.2 31.2h1.1v1.1h-1.1zM43.9 11.9h1.0v1.6h-1.0zM5.5 38.2h1.4v1.0h-1.4zM60.3 51.9h1.4v1.3h-1.4zM33.1 1.4h1.4v1.5h-1.4zM43.0 43.9h1.3v1.2h-1.3zM19.6 17.7h1.5v1.4h-1.5zM59.5 33.4h1.1v1.3h-1.1zM50.4 2.6h1.1v1.3h-1.1zM13.2 45.7h1.5v1.4h-1.5zM38.9 60.3h1.1v1.5h-1.1zM59.3 23.3h1.2v1.2h-1.2zM45.6 43.4h1.3v1.1h-1.3zM2.1 44.7h1.4v1.2h-1.4zM55.7 38.1h1.4v1.3h-1.4zM31.2 48.2h1.2v1.5h-1.2zM36.1 21.5h1.5v1.1h-1.5zM49.1 13.1h1.3v1.4h-1.3zM53.0 46.3h1.5v1.4h-1.5zM12.7 14.5h1.6v1.1h-1.6zM47.1 45.7h1.5v1.4h-1.5zM61.0 7.6h1.6v1.5h-1.6z" fill="#e8d4da"/><path d="M37.5 13.9h1.4v1.0h-1.4zM1.5 40.0h1.2v1.3h-1.2zM0.2 50.1h1.0v1.5h-1.0zM40.6 21.8h1.6v1.3h-1.6zM60.7 34.4h1.1v1.3h-1.1zM57.5 12.9h1.1v1.0h-1.1zM26.9 55.8h1.3v1.3h-1.3zM8.9 30.2h1.5v1.6h-1.5zM47.8 40.3h1.3v1.2h-1.3zM62.4 3.5h1.3v1.1h-1.3zM25.8 14.9h1.5v1.4h-1.5zM61.4 13.6h1.5v1.5h-1.5zM33.6 26.3h1.4v1.5h-1.4zM26.2 26.8h1.2v1.2h-1.2zM40.3 23.6h1.3v1.1h-1.3zM8.7 36.7h1.4v1.2h-1.4zM47.8 38.5h1.5v1.4h-1.5zM23.1 44.7h1.6v1.5h-1.6zM56.9 12.5h1.2v1.3h-1.2zM37.8 14.6h1.2v1.1h-1.2zM15.7 21.3h1.5v1.4h-1.5zM30.3 56.2h1.4v1.3h-1.4zM2.4 43.4h1.5v1.2h-1.5zM20.3 20.8h1.3v1.3h-1.3zM47.8 63.4h1.4v1.2h-1.4zM51.4 8.5h1.5v1.3h-1.5zM1.0 4.5h1.0v1.0h-1.0zM61.2 2.7h1.0v1.6h-1.0zM2.3 49.9h1.4v1.6h-1.4zM22.8 53.8h1.3v1.5h-1.3zM1.5 50.2h1.5v1.3h-1.5zM62.5 6.4h1.3v1.3h-1.3zM20.1 0.5h1.5v1.6h-1.5zM26.3 8.8h1.3v1.4h-1.3zM52.9 11.5h1.1v1.0h-1.1zM17.3 33.2h1.3v1.0h-1.3zM37.3 59.4h1.5v1.4h-1.5zM4.3 22.8h1.5v1.0h-1.5zM18.7 55.7h1.4v1.4h-1.4zM47.5 17.9h1.0v1.3h-1.0zM52.5 16.9h1.0v1.5h-1.0zM62.4 31.4h1.2v1.5h-1.2zM52.6 13.8h1.6v1.6h-1.6zM45.1 56.9h1.2v1.6h-1.2zM28.4 1.1h1.2v1.6h-1.2zM34.5 4.5h1.0v1.2h-1.0zM27.4 14.5h1.1v1.3h-1.1zM13.8 21.3h1.2v1.1h-1.2zM38.7 36.4h1.2v1.4h-1.2zM42.0 34.6h1.2v1.1h-1.2z" fill="#d4dae8"/></pattern><linearGradient id="lg" gradientUnits="userSpaceOnUse" x1="555" y1="80" x2="640" y2="170"><stop offset="0" stop-color="#1c3c1c"/><stop offset="0.35" stop-color="#2a6a2a"/><stop offset="0.6" stop-color="#2d882d"/><stop offset="1" stop-color="#2d8a2d"/></linearGradient><pattern id="gm2" width="20" height="20" patternUnits="userSpaceOnUse"><path d="M5.2 13.7h1.3v1.4h-1.3zM3.7 4.6h1.0v1.0h-1.0zM14.7 2.6h1.2v1.0h-1.2zM5.9 8.6h1.4v1.3h-1.4zM0.3 5.5h1.0v1.4h-1.0zM16.2 16.1h1.4v1.3h-1.4zM19.0 15.9h1.1v1.4h-1.1zM9.7 15.1h1.2v1.2h-1.2zM7.3 8.6h1.1v1.0h-1.1zM16.4 16.0h1.5v1.3h-1.5zM11.1 15.0h1.0v1.3h-1.0zM8.9 3.5h1.0v1.2h-1.0zM5.1 9.2h1.3v1.1h-1.3zM2.6 9.8h1.0v1.0h-1.0zM3.9 7.3h0.9v1.3h-0.9zM19.1 7.8h1.3v1.5h-1.3zM0.9 2.8h1.4v1.4h-1.4zM12.8 3.2h1.1v1.4h-1.1zM17.7 16.1h1.0v1.4h-1.0zM7.5 14.3h1.0v1.5h-1.0zM12.1 14.5h1.0v1.3h-1.0zM11.6 11.8h1.1v1.3h-1.1zM6.8 5.9h1.0v1.3h-1.0zM2.2 4.5h0.9v1.3h-0.9zM11.1 10.9h0.9v1.2h-0.9zM6.9 1.9h0.9v1.5h-0.9zM2.4 6.0h1.1v1.3h-1.1zM1.5 9.4h1.1v1.4h-1.1zM0.1 6.7h1.2v1.5h-1.2zM10.3 9.5h1.3v1.1h-1.3zM0.6 10.0h1.4v1.3h-1.4zM5.2 13.7h1.4v1.1h-1.4z" fill="#24587a"/><path d="M11.8 7.1h1.0v1.1h-1.0zM4.1 7.0h0.9v1.1h-0.9zM1.7 15.2h1.3v0.9h-1.3zM15.5 3.8h1.2v1.2h-1.2zM6.7 5.8h1.2v1.0h-1.2zM17.3 2.2h1.4v1.0h-1.4zM6.1 7.8h0.9v1.0h-0.9zM7.2 8.8h1.4v1.5h-1.4zM0.9 10.7h1.0v1.4h-1.0zM6.5 17.9h1.2v1.0h-1.2zM0.1 5.0h1.4v1.0h-1.4zM9.6 7.4h1.1v1.4h-1.1zM4.3 14.4h1.3v1.5h-1.3zM10.4 18.4h1.2v1.2h-1.2zM12.4 16.8h1.4v1.0h-1.4zM2.7 10.7h1.4v1.2h-1.4zM6.0 19.2h1.1v1.0h-1.1zM1.0 0.6h1.3v1.0h-1.3zM14.3 17.3h1.5v1.4h-1.5zM8.5 12.4h1.4v1.3h-1.4zM5.8 15.2h1.0v1.1h-1.0zM19.9 9.4h1.1v1.4h-1.1z" fill="#2f8a5a"/><path d="M9.0 0.1h0.8v0.9h-0.8zM6.6 18.7h0.9v1.2h-0.9zM17.1 8.3h1.3v1.2h-1.3zM9.7 5.2h1.0v1.3h-1.0zM10.7 3.9h1.0v1.0h-1.0zM3.8 11.5h0.8v1.2h-0.8zM3.6 2.1h1.1v1.0h-1.1zM17.7 9.9h1.1v1.2h-1.1zM4.3 14.9h1.1v1.0h-1.1zM19.2 0.4h1.2v0.9h-1.2zM16.8 3.1h0.8v1.1h-0.8zM18.5 5.1h1.0v1.1h-1.0zM4.9 10.6h0.8v1.0h-0.8zM15.2 6.8h0.9v0.8h-0.9zM14.0 8.5h1.3v1.2h-1.3zM2.0 18.3h1.3v1.2h-1.3zM16.6 13.6h1.2v1.1h-1.2zM11.8 5.1h0.9v1.2h-0.9zM11.9 1.1h1.1v1.1h-1.1zM10.2 15.5h1.2v1.0h-1.2zM16.3 10.0h1.1v1.0h-1.1zM18.7 8.9h1.3v1.0h-1.3z" fill="#9aeca8"/></pattern><linearGradient id="gb1" x1="0" y1="0" x2="0" y2="1"><stop offset="0" stop-color="#345c40"/><stop offset="0.18" stop-color="#3f7a48"/><stop offset="0.35" stop-color="#4aa650"/><stop offset="0.75" stop-color="#56b858"/><stop offset="1" stop-color="#3c8a44"/></linearGradient><radialGradient id="dk"><stop offset="0" stop-color="#24542e" stop-opacity="0.55"/><stop offset="0.6" stop-color="#24542e" stop-opacity="0.35"/><stop offset="1" stop-color="#24542e" stop-opacity="0"/></radialGradient><pattern id="gm" width="24" height="24" patternUnits="userSpaceOnUse"><path d="M10.9 13.4h1.4v1.1h-1.4zM12.2 14.1h0.9v1.1h-0.9zM15.1 19.0h0.9v1.0h-0.9zM2.2 19.4h1.2v0.8h-1.2zM23.6 23.2h1.2v1.2h-1.2zM3.8 0.4h1.1v0.8h-1.1zM4.6 5.8h0.8v1.1h-0.8zM10.6 20.2h1.1v1.2h-1.1zM12.0 15.9h1.1v1.0h-1.1zM23.9 23.9h1.3v1.2h-1.3zM7.6 5.5h1.0v0.8h-1.0zM18.4 9.6h1.3v1.0h-1.3zM23.0 20.3h0.8v0.9h-0.8zM21.8 11.3h1.4v1.0h-1.4zM1.8 15.1h1.3v1.0h-1.3zM2.1 8.0h1.4v1.3h-1.4zM2.8 5.9h0.9v0.8h-0.9zM19.1 4.3h1.1v1.1h-1.1zM4.6 17.6h0.9v1.2h-0.9zM2.8 10.1h0.9v1.0h-0.9zM23.3 19.3h1.0v1.3h-1.0zM5.1 9.5h1.3v1.2h-1.3zM2.4 23.7h0.9v1.0h-0.9zM18.5 7.9h1.0v0.8h-1.0zM2.2 14.0h0.9v1.2h-0.9zM8.9 10.9h1.4v1.1h-1.4zM13.8 20.8h0.9v0.9h-0.9zM21.8 19.6h0.9v0.9h-0.9zM17.7 22.6h0.9v1.4h-0.9zM21.2 14.5h1.1v0.9h-1.1zM0.9 23.1h0.9v1.2h-0.9zM6.2 19.8h1.2v1.0h-1.2zM4.2 17.3h0.8v0.9h-0.8zM13.4 20.5h1.2v1.0h-1.2zM22.0 4.9h0.8v1.0h-0.8zM10.7 1.5h0.9v1.0h-0.9zM13.7 3.2h1.0v1.3h-1.0zM23.5 15.8h1.2v1.2h-1.2zM3.4 0.8h0.8v1.3h-0.8zM16.8 23.1h0.8v1.2h-0.8zM11.6 17.5h1.0v1.4h-1.0zM1.8 13.1h1.2v1.3h-1.2zM17.7 16.9h1.3v1.3h-1.3zM8.4 16.4h1.3v1.3h-1.3zM10.0 19.0h1.3v1.1h-1.3zM15.0 9.2h1.1v1.2h-1.1zM1.9 15.3h1.4v1.3h-1.4zM17.5 9.3h1.2v1.1h-1.2zM10.6 20.1h0.9v1.3h-0.9zM0.7 14.4h1.1v0.9h-1.1z" fill="#2f7a3c"/><path d="M16.8 11.9h1.2v1.4h-1.2zM6.1 0.3h1.0v1.2h-1.0zM4.9 4.1h1.3v1.2h-1.3zM10.6 21.4h1.0v1.2h-1.0zM4.8 10.3h1.3v1.3h-1.3zM21.1 9.2h1.1v1.0h-1.1zM3.3 11.9h1.3v1.3h-1.3zM17.1 22.8h1.0v0.9h-1.0zM10.8 6.6h0.9v1.0h-0.9zM15.0 11.9h1.0v1.3h-1.0zM23.6 10.9h0.8v0.8h-0.8zM20.9 1.0h1.2v1.1h-1.2zM7.4 19.0h0.8v0.9h-0.8zM10.9 0.6h1.3v0.9h-1.3zM3.4 1.1h1.2v1.1h-1.2zM15.1 15.7h1.3v1.4h-1.3zM16.4 4.8h1.1v0.9h-1.1zM0.3 11.3h1.2v0.9h-1.2zM6.5 8.3h1.2v1.1h-1.2zM14.7 18.1h1.0v1.3h-1.0zM21.7 2.1h1.4v1.2h-1.4zM3.1 10.9h1.2v1.3h-1.2zM9.0 13.7h1.3v1.3h-1.3zM22.7 11.1h1.2v0.9h-1.2zM17.3 19.6h1.2v1.2h-1.2zM5.1 21.6h1.4v1.4h-1.4zM12.9 19.0h1.0v1.3h-1.0zM20.5 8.4h0.8v1.1h-0.8zM13.2 18.4h1.1v0.8h-1.1zM19.4 1.5h1.3v0.9h-1.3zM8.0 18.9h0.9v0.9h-0.9zM12.4 17.4h1.3v1.2h-1.3zM22.7 11.8h1.4v0.9h-1.4zM5.3 12.6h1.0v1.2h-1.0zM15.3 12.5h1.3v1.1h-1.3z" fill="#9aec9a"/><path d="M7.5 9.1h1.2v1.3h-1.2zM5.0 20.4h1.3v1.1h-1.3zM13.8 4.8h1.1v1.1h-1.1zM14.5 0.7h1.3v1.1h-1.3zM9.6 19.2h1.1v1.0h-1.1zM16.6 1.6h1.1v1.0h-1.1zM23.0 22.2h0.9v1.0h-0.9zM3.0 10.4h1.2v1.3h-1.2zM11.4 7.6h0.9v1.1h-0.9zM22.2 3.1h1.2v0.8h-1.2zM4.7 5.5h1.1v1.0h-1.1zM8.5 14.9h0.9v1.2h-0.9zM2.9 12.3h0.9v0.9h-0.9zM12.7 10.5h1.0v1.0h-1.0z" fill="#24566a"/></pattern><linearGradient id="cb" x1="0" y1="0" x2="0" y2="1">
<stop offset="0" stop-color="#f00"/><stop offset="0.25" stop-color="#f00"/>
<stop offset="0.30" stop-color="#ff6000"/><stop offset="0.38" stop-color="#f0d000"/>
<stop offset="0.46" stop-color="#c8e000"/><stop offset="0.56" stop-color="#00e000"/>
<stop offset="0.67" stop-color="#008a50"/><stop offset="0.77" stop-color="#0000ff"/>
<stop offset="0.87" stop-color="#7070ff"/><stop offset="0.96" stop-color="#e0e0ff"/>
<stop offset="1" stop-color="#fff"/></linearGradient><radialGradient id="gb" cx="0.5" cy="0.45" r="0.6">
<stop offset="0" stop-color="#70d470"/><stop offset="0.65" stop-color="#4cb24e"/><stop offset="1" stop-color="#3a8c44"/></radialGradient><radialGradient id="gb2" cx="0.42" cy="0.38" r="0.65">
<stop offset="0" stop-color="#86e486"/><stop offset="0.35" stop-color="#58c05a"/><stop offset="0.75" stop-color="#3f9a52"/><stop offset="1" stop-color="#2c6c62"/></radialGradient></defs>
<rect width="1244" height="642" fill="#fff"/>
<g mask="url(#cm)"><polygon points="156.0,56.0 165.0,50.0 185.0,48.0 205.0,45.0 215.0,39.0 235.0,36.0 262.0,36.0 285.0,41.0 305.0,48.0 315.0,56.0 317.0,150.0 320.0,300.0 326.0,420.0 330.0,530.0 331.0,588.0 300.0,592.0 250.0,590.0 200.0,592.0 150.0,590.0 142.0,560.0 143.0,450.0 148.0,300.0 153.0,150.0" fill="#f4f4fb"/><polygon points="156.0,56.0 165.0,50.0 185.0,48.0 205.0,45.0 215.0,39.0 235.0,36.0 262.0,36.0 285.0,41.0 305.0,48.0 315.0,56.0 317.0,150.0 320.0,300.0 326.0,420.0 330.0,530.0 331.0,588.0 300.0,592.0 250.0,590.0 200.0,592.0 150.0,590.0 142.0,560.0 143.0,450.0 148.0,300.0 153.0,150.0" fill="url(#pc)"/></g>
<polygon points="144.0,588.0 332.0,588.0 334.0,606.0 250.0,614.0 200.0,614.0 150.0,600.0" fill="url(#pcb)"/>
<polygon points="212.5,39.3 228.7,38.1 257.4,38.7 274.8,42.5 283.6,47.4 299.8,50.6 299.8,68.6 294.8,77.4 279.8,87.3 259.9,98.6 251.1,94.8 238.7,78.6 226.2,61.2 231.8,54.9 228.7,47.4 223.7,41.2" fill="url(#gb1)"/>
<polygon points="240.0,147.0 248.0,137.0 258.0,134.0 266.0,138.0 269.0,146.0 268.0,157.0 262.0,164.0 252.0,165.0 243.0,160.0 239.0,153.0" fill="url(#gb2)"/>
<polygon points="243.4,243.8 249.0,235.9 256.5,231.2 265.8,230.3 272.4,235.0 275.2,242.4 276.1,253.6 281.3,260.2 279.9,265.8 271.4,270.5 265.8,273.7 256.5,273.3 249.0,266.7 244.3,257.4 242.9,248.0" fill="url(#gb2)"/>
<polygon points="174.0,397.1 183.4,380.7 190.4,373.7 206.7,366.7 227.8,359.7 239.4,352.7 253.5,350.4 254.6,341.0 262.8,332.9 274.5,329.3 283.8,338.7 288.5,352.7 299.0,360.9 290.8,363.2 281.5,369.1 278.0,380.7 275.7,394.8 283.8,401.8 267.5,408.8 258.1,418.1 253.5,429.8 241.8,439.2 227.8,446.2 206.7,453.2 200.9,455.5 195.0,446.2 185.7,436.8 176.4,422.8 174.0,408.8" fill="url(#gb)"/>
<polygon points="212.5,39.3 228.7,38.1 257.4,38.7 274.8,42.5 283.6,47.4 299.8,50.6 299.8,68.6 294.8,77.4 279.8,87.3 259.9,98.6 251.1,94.8 238.7,78.6 226.2,61.2 231.8,54.9 228.7,47.4 223.7,41.2" fill="url(#gm)"/>
<polygon points="174.0,397.1 183.4,380.7 190.4,373.7 206.7,366.7 227.8,359.7 239.4,352.7 253.5,350.4 254.6,341.0 262.8,332.9 274.5,329.3 283.8,338.7 288.5,352.7 299.0,360.9 290.8,363.2 281.5,369.1 278.0,380.7 275.7,394.8 283.8,401.8 267.5,408.8 258.1,418.1 253.5,429.8 241.8,439.2 227.8,446.2 206.7,453.2 200.9,455.5 195.0,446.2 185.7,436.8 176.4,422.8 174.0,408.8" fill="url(#gm)"/>
<polygon points="240.0,147.0 248.0,137.0 258.0,134.0 266.0,138.0 269.0,146.0 268.0,157.0 262.0,164.0 252.0,165.0 243.0,160.0 239.0,153.0" fill="url(#gm2)"/>
<polygon points="243.4,243.8 249.0,235.9 256.5,231.2 265.8,230.3 272.4,235.0 275.2,242.4 276.1,253.6 281.3,260.2 279.9,265.8 271.4,270.5 265.8,273.7 256.5,273.3 249.0,266.7 244.3,257.4 242.9,248.0" fill="url(#gm2)"/>
<g>
<ellipse cx="242" cy="392" rx="20" ry="17" fill="url(#dk)"/>
<ellipse cx="184" cy="413" rx="9" ry="17" fill="url(#dk)"/>
<ellipse cx="238" cy="433" rx="9" ry="7" fill="url(#dk)"/>
<ellipse cx="195" cy="382" rx="3.5" ry="4" fill="#d8f8d8" opacity="0.7"/>
<ellipse cx="226" cy="371" rx="2" ry="1.5" fill="#ffffff" opacity="0.8"/>
<ellipse cx="253" cy="72" rx="3" ry="5" fill="#c8f0d0" opacity="0.55"/>
<ellipse cx="269" cy="64" rx="3" ry="6" fill="#c8f0d0" opacity="0.5"/>
<ellipse cx="256" cy="240" rx="4" ry="4" fill="#c8f0d0" opacity="0.5"/>
</g>
<g stroke-width="1.1" fill="none">
<line x1="105" y1="33" x2="265.5" y2="18.5" stroke="#e06060"/>
<line x1="265.5" y1="18.5" x2="368.5" y2="41.5" stroke="#60c060"/>
<line x1="104" y1="592" x2="264.5" y2="577.5" stroke="#e06060"/>
<line x1="264.5" y1="577.5" x2="367.5" y2="600.5" stroke="#60c060"/>
<line x1="265.2" y1="18.5" x2="264.8" y2="577.5" stroke="#2020a8"/>
</g>
<g stroke-width="1.1" fill="none">
<line x1="105" y1="33" x2="208.2" y2="54.6" stroke="#60c060"/>
<line x1="208.2" y1="54.6" x2="368.5" y2="41.5" stroke="#e06060"/>
<line x1="104" y1="592" x2="207.4" y2="615.2" stroke="#60c060"/>
<line x1="207.4" y1="615.2" x2="367.5" y2="600.5" stroke="#e06060"/>
<line x1="104.8" y1="33" x2="104.3" y2="592" stroke="#2020a8"/>
<line x1="368.5" y1="41.5" x2="367.8" y2="600.5" stroke="#2020a8"/>
<line x1="208.3" y1="54.6" x2="207.6" y2="615.2" stroke="#2020a8"/>
</g>
<rect x="101" y="144" width="7" height="85" fill="#fff"/>
<text x="-1.43" y="29.60" font-size="41.5" font-weight="bold" fill="#000" textLength="21.00" lengthAdjust="spacingAndGlyphs">a</text>
<circle cx="45.5" cy="89.7" r="8" fill="#0a0af0"/>
<text x="62.11" y="102.60" font-size="33.8" fill="#1a1ab8" textLength="22.44" lengthAdjust="spacingAndGlyphs">P</text>
<rect x="26" y="131.6" width="38" height="17" fill="#14a850"/>
<text x="2.46" y="179.20" font-size="27.3" fill="#1e8c28" textLength="89.58" lengthAdjust="spacingAndGlyphs">poor-P</text>
<text x="2.51" y="218.20" font-size="27.3" fill="#1e8c28" textLength="95.61" lengthAdjust="spacingAndGlyphs">regions</text>
<text x="220.14" y="539.20" font-size="32.6" fill="#000" textLength="90.26" lengthAdjust="spacingAndGlyphs">matrix</text>
<text x="11.80" y="578.20" font-size="26" fill="#000" textLength="72.07" lengthAdjust="spacingAndGlyphs">20 nm</text>
<rect x="25.7" y="581.4" width="40" height="12" fill="#000"/>
<rect x="455.2" y="15.3" width="325.4" height="241.8" fill="url(#sp)"/>
<line x1="455.2" y1="15.3" x2="780.6" y2="15.3" stroke="#a8e0a8" stroke-width="1.2"/>
<line x1="455.2" y1="257.1" x2="780.6" y2="257.1" stroke="#a8e0a8" stroke-width="1.2"/>
<line x1="455.2" y1="15.3" x2="455.2" y2="257.1" stroke="#a0a0e0" stroke-width="1.2"/>
<line x1="780.6" y1="15.3" x2="780.6" y2="257.1" stroke="#7070b0" stroke-width="1.2"/>
<text x="400.30" y="29.80" font-size="41.5" font-weight="bold" fill="#000" textLength="25.40" lengthAdjust="spacingAndGlyphs">b</text>
<circle cx="471.2" cy="35.7" r="8" fill="#0a0af0"/>
<circle cx="471.9" cy="63.8" r="8.2" fill="#f8960a"/>
<circle cx="471.2" cy="100.2" r="8" fill="#f00808"/>
<text x="488.36" y="44.00" font-size="29.8" fill="#1414c8" textLength="20.32" lengthAdjust="spacingAndGlyphs">P</text>
<text x="488.27" y="73.00" font-size="29.5" fill="#f0a030" textLength="29.82" lengthAdjust="spacingAndGlyphs">Ni</text>
<text x="487.93" y="110.30" font-size="29" fill="#d01818" textLength="36.30" lengthAdjust="spacingAndGlyphs">Pd</text>
<path d="M558.7 84.5 L568.0 80.6 L580.9 83.4 L593.7 86.9 L617.1 76.8 L642.8 75.9 L663.8 83.4 L670.8 89.2 L694.1 110.2 L680.1 134.7 L677.8 151.1 L680.9 159.6 L679.5 166.2 L673.0 177.4 L667.4 186.3 L648.7 187.0 L630.0 190.0 L617.1 190.8 L589.0 189.6 L568.0 201.3 L556.3 186.1 L559.9 169.8 L556.3 158.1 L555.2 137.1 L554.5 111.4 L556.3 97.4Z M562.2 88.0 L569.2 85.7 L592.5 91.5 L614.7 83.4 L642.8 80.6 L663.8 88.0 L689.5 111.4 L676.6 134.7 L674.3 152.2 L676.7 161.5 L673.9 168.0 L668.3 172.2 L660.8 172.2 L646.8 184.9 L630.0 188.1 L617.1 188.4 L589.0 187.3 L569.2 197.8 L561.0 187.3 L563.4 169.8 L559.9 159.3 L559.1 137.1 L558.7 111.4 L560.6 97.4Z" fill="url(#lg)" fill-rule="evenodd" stroke="url(#lg)" stroke-width="1.6" stroke-linejoin="round"/>
<line x1="277" y1="248" x2="526" y2="150.5" stroke="#000" stroke-width="2.2"/>
<polygon points="539.7,144.9 521.6,146.8 525.4,156.8" fill="#000"/>
<text x="569.94" y="238.80" font-size="32.5" fill="#000" textLength="90.26" lengthAdjust="spacingAndGlyphs">matrix</text>
<text x="702.46" y="234.90" font-size="25.8" fill="#000" textLength="57.68" lengthAdjust="spacingAndGlyphs">5 nm</text>
<rect x="699.2" y="240.5" width="67" height="6.8" fill="#000"/>
<g shape-rendering="crispEdges">
<rect x="818.30" y="21.90" width="18.18" height="18.12" fill="#fa8c78"/>
<rect x="836.18" y="21.90" width="18.18" height="18.12" fill="#fce1de"/>
<rect x="854.06" y="21.90" width="18.18" height="18.12" fill="#faa5a0"/>
<rect x="871.94" y="21.90" width="18.18" height="18.12" fill="#d27daf"/>
<rect x="889.82" y="21.90" width="18.18" height="18.12" fill="#fa8c8c"/>
<rect x="907.70" y="21.90" width="18.18" height="18.12" fill="#faaaaa"/>
<rect x="925.58" y="21.90" width="18.18" height="18.12" fill="#fa4b4b"/>
<rect x="943.46" y="21.90" width="18.18" height="18.12" fill="#fa7d7d"/>
<rect x="961.34" y="21.90" width="18.18" height="18.12" fill="#faaaa5"/>
<rect x="979.22" y="21.90" width="18.18" height="18.12" fill="#e1b496"/>
<rect x="997.10" y="21.90" width="18.18" height="18.12" fill="#ffffff"/>
<rect x="1014.98" y="21.90" width="18.18" height="18.12" fill="#fa9696"/>
<rect x="1032.86" y="21.90" width="18.18" height="18.12" fill="#fa826e"/>
<rect x="1050.74" y="21.90" width="18.18" height="18.12" fill="#fcb4b4"/>
<rect x="1068.62" y="21.90" width="18.18" height="18.12" fill="#c8c896"/>
<rect x="1086.50" y="21.90" width="18.18" height="18.12" fill="#fa8c8c"/>
<rect x="1104.38" y="21.90" width="18.18" height="18.12" fill="#fa8c8c"/>
<rect x="818.30" y="39.72" width="18.18" height="18.12" fill="#fa4b4b"/>
<rect x="836.18" y="39.72" width="18.18" height="18.12" fill="#d78278"/>
<rect x="854.06" y="39.72" width="18.18" height="18.12" fill="#fa7878"/>
<rect x="871.94" y="39.72" width="18.18" height="18.12" fill="#fa7878"/>
<rect x="889.82" y="39.72" width="18.18" height="18.12" fill="#eb8c78"/>
<rect x="907.70" y="39.72" width="18.18" height="18.12" fill="#c88cd2"/>
<rect x="925.58" y="39.72" width="18.18" height="18.12" fill="#fa7d7d"/>
<rect x="943.46" y="39.72" width="18.18" height="18.12" fill="#cd96c8"/>
<rect x="961.34" y="39.72" width="18.18" height="18.12" fill="#d2be8c"/>
<rect x="979.22" y="39.72" width="18.18" height="18.12" fill="#fa7878"/>
<rect x="997.10" y="39.72" width="18.18" height="18.12" fill="#fa7878"/>
<rect x="1014.98" y="39.72" width="18.18" height="18.12" fill="#fcd2d2"/>
<rect x="1032.86" y="39.72" width="18.18" height="18.12" fill="#fcbebe"/>
<rect x="1050.74" y="39.72" width="18.18" height="18.12" fill="#fa8c8c"/>
<rect x="1068.62" y="39.72" width="18.18" height="18.12" fill="#fa6e73"/>
<rect x="1086.50" y="39.72" width="18.18" height="18.12" fill="#fa8c8c"/>
<rect x="1104.38" y="39.72" width="18.18" height="18.12" fill="#fa8c8c"/>
<rect x="818.30" y="57.54" width="18.18" height="18.12" fill="#fa7d7d"/>
<rect x="836.18" y="57.54" width="18.18" height="18.12" fill="#faa0a0"/>
<rect x="854.06" y="57.54" width="18.18" height="18.12" fill="#fa9696"/>
<rect x="871.94" y="57.54" width="18.18" height="18.12" fill="#fa8282"/>
<rect x="889.82" y="57.54" width="18.18" height="18.12" fill="#fa4b4b"/>
<rect x="907.70" y="57.54" width="18.18" height="18.12" fill="#fcb2b4"/>
<rect x="925.58" y="57.54" width="18.18" height="18.12" fill="#fa7d7d"/>
<rect x="943.46" y="57.54" width="18.18" height="18.12" fill="#d7aac8"/>
<rect x="961.34" y="57.54" width="18.18" height="18.12" fill="#fa7373"/>
<rect x="979.22" y="57.54" width="18.18" height="18.12" fill="#fa8c8c"/>
<rect x="997.10" y="57.54" width="18.18" height="18.12" fill="#fa8787"/>
<rect x="1014.98" y="57.54" width="18.18" height="18.12" fill="#fce1e1"/>
<rect x="1032.86" y="57.54" width="18.18" height="18.12" fill="#fccdcd"/>
<rect x="1050.74" y="57.54" width="18.18" height="18.12" fill="#fa7373"/>
<rect x="1068.62" y="57.54" width="18.18" height="18.12" fill="#e6bea0"/>
<rect x="1086.50" y="57.54" width="18.18" height="18.12" fill="#e67896"/>
<rect x="1104.38" y="57.54" width="18.18" height="18.12" fill="#fcbec3"/>
<rect x="818.30" y="75.36" width="18.18" height="18.12" fill="#e19682"/>
<rect x="836.18" y="75.36" width="18.18" height="18.12" fill="#fab4b4"/>
<rect x="854.06" y="75.36" width="18.18" height="18.12" fill="#faa5a5"/>
<rect x="871.94" y="75.36" width="18.18" height="18.12" fill="#fa5050"/>
<rect x="889.82" y="75.36" width="18.18" height="18.12" fill="#e6c8b4"/>
<rect x="907.70" y="75.36" width="18.18" height="18.12" fill="#ffffff"/>
<rect x="925.58" y="75.36" width="18.18" height="18.12" fill="#fdf0f2"/>
<rect x="943.46" y="75.36" width="18.18" height="18.12" fill="#fccdd2"/>
<rect x="961.34" y="75.36" width="18.18" height="18.12" fill="#ffffff"/>
<rect x="979.22" y="75.36" width="18.18" height="18.12" fill="#fcf0f0"/>
<rect x="997.10" y="75.36" width="18.18" height="18.12" fill="#c8b4e6"/>
<rect x="1014.98" y="75.36" width="18.18" height="18.12" fill="#faaaaa"/>
<rect x="1032.86" y="75.36" width="18.18" height="18.12" fill="#d778aa"/>
<rect x="1050.74" y="75.36" width="18.18" height="18.12" fill="#ffc8aa"/>
<rect x="1068.62" y="75.36" width="18.18" height="18.12" fill="#e6c396"/>
<rect x="1086.50" y="75.36" width="18.18" height="18.12" fill="#fa8c8c"/>
<rect x="1104.38" y="75.36" width="18.18" height="18.12" fill="#d2966e"/>
<rect x="818.30" y="93.18" width="18.18" height="18.12" fill="#fa8282"/>
<rect x="836.18" y="93.18" width="18.18" height="18.12" fill="#c8a578"/>
<rect x="854.06" y="93.18" width="18.18" height="18.12" fill="#fcb9be"/>
<rect x="871.94" y="93.18" width="18.18" height="18.12" fill="#dc8caa"/>
<rect x="889.82" y="93.18" width="18.18" height="18.12" fill="#fac8c3"/>
<rect x="907.70" y="93.18" width="18.18" height="18.12" fill="#fffafa"/>
<rect x="925.58" y="93.18" width="18.18" height="18.12" fill="#af8cdc"/>
<rect x="943.46" y="93.18" width="18.18" height="18.12" fill="#fffadc"/>
<rect x="961.34" y="93.18" width="18.18" height="18.12" fill="#ffffff"/>
<rect x="979.22" y="93.18" width="18.18" height="18.12" fill="#fcebeb"/>
<rect x="997.10" y="93.18" width="18.18" height="18.12" fill="#fffcfc"/>
<rect x="1014.98" y="93.18" width="18.18" height="18.12" fill="#e6dcfa"/>
<rect x="1032.86" y="93.18" width="18.18" height="18.12" fill="#fcf0f0"/>
<rect x="1050.74" y="93.18" width="18.18" height="18.12" fill="#fa8787"/>
<rect x="1068.62" y="93.18" width="18.18" height="18.12" fill="#fa8787"/>
<rect x="1086.50" y="93.18" width="18.18" height="18.12" fill="#e1aaaa"/>
<rect x="1104.38" y="93.18" width="18.18" height="18.12" fill="#e18ca0"/>
<rect x="818.30" y="111.00" width="18.18" height="18.12" fill="#fa8282"/>
<rect x="836.18" y="111.00" width="18.18" height="18.12" fill="#fa9696"/>
<rect x="854.06" y="111.00" width="18.18" height="18.12" fill="#fa7373"/>
<rect x="871.94" y="111.00" width="18.18" height="18.12" fill="#fa7d7d"/>
<rect x="889.82" y="111.00" width="18.18" height="18.12" fill="#fab9b9"/>
<rect x="907.70" y="111.00" width="18.18" height="18.12" fill="#fce1e1"/>
<rect x="925.58" y="111.00" width="18.18" height="18.12" fill="#ffffff"/>
<rect x="943.46" y="111.00" width="18.18" height="18.12" fill="#ffffff"/>
<rect x="961.34" y="111.00" width="18.18" height="18.12" fill="#ffffff"/>
<rect x="979.22" y="111.00" width="18.18" height="18.12" fill="#ffffff"/>
<rect x="997.10" y="111.00" width="18.18" height="18.12" fill="#d796c3"/>
<rect x="1014.98" y="111.00" width="18.18" height="18.12" fill="#fffae1"/>
<rect x="1032.86" y="111.00" width="18.18" height="18.12" fill="#fffafa"/>
<rect x="1050.74" y="111.00" width="18.18" height="18.12" fill="#fa9191"/>
<rect x="1068.62" y="111.00" width="18.18" height="18.12" fill="#fccdcd"/>
<rect x="1086.50" y="111.00" width="18.18" height="18.12" fill="#fcb9be"/>
<rect x="1104.38" y="111.00" width="18.18" height="18.12" fill="#c8b4f0"/>
<rect x="818.30" y="128.82" width="18.18" height="18.12" fill="#fa5050"/>
<rect x="836.18" y="128.82" width="18.18" height="18.12" fill="#fa9191"/>
<rect x="854.06" y="128.82" width="18.18" height="18.12" fill="#fa4b4b"/>
<rect x="871.94" y="128.82" width="18.18" height="18.12" fill="#fa7d7d"/>
<rect x="889.82" y="128.82" width="18.18" height="18.12" fill="#fa9696"/>
<rect x="907.70" y="128.82" width="18.18" height="18.12" fill="#fcd7d7"/>
<rect x="925.58" y="128.82" width="18.18" height="18.12" fill="#ffffff"/>
<rect x="943.46" y="128.82" width="18.18" height="18.12" fill="#ffffff"/>
<rect x="961.34" y="128.82" width="18.18" height="18.12" fill="#ffffff"/>
<rect x="979.22" y="128.82" width="18.18" height="18.12" fill="#ffffff"/>
<rect x="997.10" y="128.82" width="18.18" height="18.12" fill="#ffffff"/>
<rect x="1014.98" y="128.82" width="18.18" height="18.12" fill="#bebef8"/>
<rect x="1032.86" y="128.82" width="18.18" height="18.12" fill="#d7d7fa"/>
<rect x="1050.74" y="128.82" width="18.18" height="18.12" fill="#fa9696"/>
<rect x="1068.62" y="128.82" width="18.18" height="18.12" fill="#fff0be"/>
<rect x="1086.50" y="128.82" width="18.18" height="18.12" fill="#c878b4"/>
<rect x="1104.38" y="128.82" width="18.18" height="18.12" fill="#fa826e"/>
<rect x="818.30" y="146.64" width="18.18" height="18.12" fill="#dc9178"/>
<rect x="836.18" y="146.64" width="18.18" height="18.12" fill="#d79b7d"/>
<rect x="854.06" y="146.64" width="18.18" height="18.12" fill="#e1a56e"/>
<rect x="871.94" y="146.64" width="18.18" height="18.12" fill="#dcb4d7"/>
<rect x="889.82" y="146.64" width="18.18" height="18.12" fill="#e1e1fa"/>
<rect x="907.70" y="146.64" width="18.18" height="18.12" fill="#fffafa"/>
<rect x="925.58" y="146.64" width="18.18" height="18.12" fill="#fcb9b9"/>
<rect x="943.46" y="146.64" width="18.18" height="18.12" fill="#dae8c3"/>
<rect x="961.34" y="146.64" width="18.18" height="18.12" fill="#ffffff"/>
<rect x="979.22" y="146.64" width="18.18" height="18.12" fill="#ffffff"/>
<rect x="997.10" y="146.64" width="18.18" height="18.12" fill="#ffffff"/>
<rect x="1014.98" y="146.64" width="18.18" height="18.12" fill="#fcebeb"/>
<rect x="1032.86" y="146.64" width="18.18" height="18.12" fill="#e6ffe6"/>
<rect x="1050.74" y="146.64" width="18.18" height="18.12" fill="#fa9696"/>
<rect x="1068.62" y="146.64" width="18.18" height="18.12" fill="#fa7878"/>
<rect x="1086.50" y="146.64" width="18.18" height="18.12" fill="#fa7878"/>
<rect x="1104.38" y="146.64" width="18.18" height="18.12" fill="#d7b4dc"/>
<rect x="818.30" y="164.46" width="18.18" height="18.12" fill="#fa7878"/>
<rect x="836.18" y="164.46" width="18.18" height="18.12" fill="#fa7d7d"/>
<rect x="854.06" y="164.46" width="18.18" height="18.12" fill="#fcb9be"/>
<rect x="871.94" y="164.46" width="18.18" height="18.12" fill="#ffffff"/>
<rect x="889.82" y="164.46" width="18.18" height="18.12" fill="#dca0c3"/>
<rect x="907.70" y="164.46" width="18.18" height="18.12" fill="#fcebeb"/>
<rect x="925.58" y="164.46" width="18.18" height="18.12" fill="#ffffff"/>
<rect x="943.46" y="164.46" width="18.18" height="18.12" fill="#ffffff"/>
<rect x="961.34" y="164.46" width="18.18" height="18.12" fill="#ffffff"/>
<rect x="979.22" y="164.46" width="18.18" height="18.12" fill="#fcdede"/>
<rect x="997.10" y="164.46" width="18.18" height="18.12" fill="#ffffff"/>
<rect x="1014.98" y="164.46" width="18.18" height="18.12" fill="#cac8f5"/>
<rect x="1032.86" y="164.46" width="18.18" height="18.12" fill="#fcc8c8"/>
<rect x="1050.74" y="164.46" width="18.18" height="18.12" fill="#fa4646"/>
<rect x="1068.62" y="164.46" width="18.18" height="18.12" fill="#c8a5aa"/>
<rect x="1086.50" y="164.46" width="18.18" height="18.12" fill="#fcb4b4"/>
<rect x="1104.38" y="164.46" width="18.18" height="18.12" fill="#d28c64"/>
<rect x="818.30" y="182.28" width="18.18" height="18.12" fill="#fa7878"/>
<rect x="836.18" y="182.28" width="18.18" height="18.12" fill="#cd8cb4"/>
<rect x="854.06" y="182.28" width="18.18" height="18.12" fill="#fca5a5"/>
<rect x="871.94" y="182.28" width="18.18" height="18.12" fill="#fa6e6e"/>
<rect x="889.82" y="182.28" width="18.18" height="18.12" fill="#fcb4aa"/>
<rect x="907.70" y="182.28" width="18.18" height="18.12" fill="#fce6e6"/>
<rect x="925.58" y="182.28" width="18.18" height="18.12" fill="#fff5f5"/>
<rect x="943.46" y="182.28" width="18.18" height="18.12" fill="#fce1d2"/>
<rect x="961.34" y="182.28" width="18.18" height="18.12" fill="#dcebc8"/>
<rect x="979.22" y="182.28" width="18.18" height="18.12" fill="#fce6e6"/>
<rect x="997.10" y="182.28" width="18.18" height="18.12" fill="#fce6e6"/>
<rect x="1014.98" y="182.28" width="18.18" height="18.12" fill="#fce6e6"/>
<rect x="1032.86" y="182.28" width="18.18" height="18.12" fill="#fcbebe"/>
<rect x="1050.74" y="182.28" width="18.18" height="18.12" fill="#fcb4b4"/>
<rect x="1068.62" y="182.28" width="18.18" height="18.12" fill="#cdcd96"/>
<rect x="1086.50" y="182.28" width="18.18" height="18.12" fill="#fca5a5"/>
<rect x="1104.38" y="182.28" width="18.18" height="18.12" fill="#827df0"/>
<rect x="818.30" y="200.10" width="18.18" height="18.12" fill="#fce1e1"/>
<rect x="836.18" y="200.10" width="18.18" height="18.12" fill="#fa7878"/>
<rect x="854.06" y="200.10" width="18.18" height="18.12" fill="#fcb4b4"/>
<rect x="871.94" y="200.10" width="18.18" height="18.12" fill="#fa9696"/>
<rect x="889.82" y="200.10" width="18.18" height="18.12" fill="#faa0a0"/>
<rect x="907.70" y="200.10" width="18.18" height="18.12" fill="#fcdee2"/>
<rect x="925.58" y="200.10" width="18.18" height="18.12" fill="#fce1e4"/>
<rect x="943.46" y="200.10" width="18.18" height="18.12" fill="#beaf70"/>
<rect x="961.34" y="200.10" width="18.18" height="18.12" fill="#faa59b"/>
<rect x="979.22" y="200.10" width="18.18" height="18.12" fill="#fa9ba0"/>
<rect x="997.10" y="200.10" width="18.18" height="18.12" fill="#fa9196"/>
<rect x="1014.98" y="200.10" width="18.18" height="18.12" fill="#fa7878"/>
<rect x="1032.86" y="200.10" width="18.18" height="18.12" fill="#fa9696"/>
<rect x="1050.74" y="200.10" width="18.18" height="18.12" fill="#fcc8c8"/>
<rect x="1068.62" y="200.10" width="18.18" height="18.12" fill="#fa9696"/>
<rect x="1086.50" y="200.10" width="18.18" height="18.12" fill="#fa9191"/>
<rect x="1104.38" y="200.10" width="18.18" height="18.12" fill="#fcebeb"/>
<rect x="818.30" y="217.92" width="18.18" height="18.12" fill="#fa8c8c"/>
<rect x="836.18" y="217.92" width="18.18" height="18.12" fill="#e6af9b"/>
<rect x="854.06" y="217.92" width="18.18" height="18.12" fill="#e6beaa"/>
<rect x="871.94" y="217.92" width="18.18" height="18.12" fill="#fa8c8c"/>
<rect x="889.82" y="217.92" width="18.18" height="18.12" fill="#fa9191"/>
<rect x="907.70" y="217.92" width="18.18" height="18.12" fill="#f5666c"/>
<rect x="925.58" y="217.92" width="18.18" height="18.12" fill="#f0d4cd"/>
<rect x="943.46" y="217.92" width="18.18" height="18.12" fill="#f5cdd2"/>
<rect x="961.34" y="217.92" width="18.18" height="18.12" fill="#ebc8dc"/>
<rect x="979.22" y="217.92" width="18.18" height="18.12" fill="#d0cda5"/>
<rect x="997.10" y="217.92" width="18.18" height="18.12" fill="#fadce1"/>
<rect x="1014.98" y="217.92" width="18.18" height="18.12" fill="#e6b86e"/>
<rect x="1032.86" y="217.92" width="18.18" height="18.12" fill="#fa7850"/>
<rect x="1050.74" y="217.92" width="18.18" height="18.12" fill="#fa5050"/>
<rect x="1068.62" y="217.92" width="18.18" height="18.12" fill="#fcaaaa"/>
<rect x="1086.50" y="217.92" width="18.18" height="18.12" fill="#fcb9b9"/>
<rect x="1104.38" y="217.92" width="18.18" height="18.12" fill="#fa9191"/>
<rect x="818.30" y="235.74" width="18.18" height="18.12" fill="#d2a05a"/>
<rect x="836.18" y="235.74" width="18.18" height="18.12" fill="#fcb4a0"/>
<rect x="854.06" y="235.74" width="18.18" height="18.12" fill="#d2d7fa"/>
<rect x="871.94" y="235.74" width="18.18" height="18.12" fill="#8cdc6e"/>
<rect x="889.82" y="235.74" width="18.18" height="18.12" fill="#fa4646"/>
<rect x="907.70" y="235.74" width="18.18" height="18.12" fill="#fffcfc"/>
<rect x="925.58" y="235.74" width="18.18" height="18.12" fill="#fcc8c8"/>
<rect x="943.46" y="235.74" width="18.18" height="18.12" fill="#bea5dc"/>
<rect x="961.34" y="235.74" width="18.18" height="18.12" fill="#fa6e6e"/>
<rect x="979.22" y="235.74" width="18.18" height="18.12" fill="#a0c8be"/>
<rect x="997.10" y="235.74" width="18.18" height="18.12" fill="#fcc8c8"/>
<rect x="1014.98" y="235.74" width="18.18" height="18.12" fill="#bea0aa"/>
<rect x="1032.86" y="235.74" width="18.18" height="18.12" fill="#d75082"/>
<rect x="1050.74" y="235.74" width="18.18" height="18.12" fill="#e67896"/>
<rect x="1068.62" y="235.74" width="18.18" height="18.12" fill="#fcf0f5"/>
<rect x="1086.50" y="235.74" width="18.18" height="18.12" fill="#fcb4a0"/>
<rect x="1104.38" y="235.74" width="18.18" height="18.12" fill="#fa8c8c"/>
</g>
<rect x="807.4" y="15.9" width="323" height="241.4" fill="none" stroke="#5a8ec4" stroke-width="1.6"/>
<path d="M920.2 83.2 L930.4 86.2 L948.6 91.9 L954.7 88.2 L966.8 83.2 L981.0 81.7 L993.1 79.7 L1005.3 83.2 L1017.4 87.2 L1029.6 98.3 L1041.7 109.5 L1042.7 113.5 L1037.7 124.7 L1031.6 136.8 L1029.6 151.0 L1029.6 163.1 L1021.5 175.3 L1007.3 183.4 L995.1 187.4 L981.0 190.4 L964.8 191.5 L948.6 189.4 L940.5 191.5 L930.4 194.5 L919.2 197.5 L912.1 189.4 L911.1 171.2 L910.1 151.0 L910.1 130.7 L909.1 110.5 L911.1 94.3 L916.2 86.2Z" fill="none" stroke="#1d8c1d" stroke-width="4.5" stroke-linejoin="round"/>
<text x="925.23" y="238.80" font-size="32.6" fill="#000" textLength="90.78" lengthAdjust="spacingAndGlyphs">matrix</text>
<rect x="1147.2" y="149.3" width="14.6" height="105.5" fill="url(#cb)" stroke="#8a8a8a" stroke-width="0.9"/>
<text x="1144.52" y="93.00" font-size="28.9" fill="#000" textLength="17.37" lengthAdjust="spacingAndGlyphs">ρ</text>
<text x="1161.62" y="100.30" font-size="19.6" fill="#000" textLength="82.28" lengthAdjust="spacingAndGlyphs">phosphor</text>
<text x="1142.31" y="128.60" font-size="29.2" fill="#000" textLength="51.45" lengthAdjust="spacingAndGlyphs">(nm</text>
<text x="1193.11" y="119.90" font-size="19" fill="#000" textLength="17.67" lengthAdjust="spacingAndGlyphs">-3</text>
<text x="1212.26" y="128.60" font-size="29.2" fill="#000" textLength="9.05" lengthAdjust="spacingAndGlyphs">)</text>
<text x="1164.14" y="161.50" font-size="26.5" fill="#000" textLength="27.61" lengthAdjust="spacingAndGlyphs">18</text>
<text x="1169.90" y="258.40" font-size="26" fill="#000" textLength="13.90" lengthAdjust="spacingAndGlyphs">0</text>
<text x="400.35" y="331.50" font-size="41.5" font-weight="bold" fill="#000" textLength="22.93" lengthAdjust="spacingAndGlyphs">c</text>
<path d="M508.7 311.2H1107.8V575.2H508.7Z" fill="none" stroke="#6e6e6e" stroke-width="1.6"/>
<g stroke="#666" stroke-width="1.3" fill="none">
<rect x="503.7" y="440.6" width="10" height="4.4" fill="#fff" stroke="none"/>
<line x1="502.7" y1="442.3" x2="514.7" y2="438.3"/>
<line x1="502.7" y1="446.8" x2="514.7" y2="442.8"/>
<rect x="1102.8" y="440.3" width="10" height="4.4" fill="#fff" stroke="none"/>
<line x1="1101.8" y1="442.0" x2="1113.8" y2="438.0"/>
<line x1="1101.8" y1="446.5" x2="1113.8" y2="442.5"/>
</g>
<path d="M503.7 311.2H508.7M503.7 365.3H508.7M503.7 419.5H508.7M506.2 338.3H508.7M506.2 392.4H508.7M503.7 499.5H508.7M503.7 552.5H508.7M506.2 526.0H508.7M598.3 575.2V580.2M698.2 575.2V580.2M798.1 575.2V580.2M898.0 575.2V580.2M997.9 575.2V580.2M1097.8 575.2V580.2M548.4 575.2V577.7M648.2 575.2V577.7M748.1 575.2V577.7M848.1 575.2V577.7M948.0 575.2V577.7M1047.8 575.2V577.7" stroke="#6e6e6e" stroke-width="1.3" fill="none"/>
<text x="459.64" y="323.60" font-size="29.6" fill="#000" textLength="32.13" lengthAdjust="spacingAndGlyphs">50</text>
<text x="458.70" y="374.40" font-size="29.6" fill="#000" textLength="33.26" lengthAdjust="spacingAndGlyphs">45</text>
<text x="458.70" y="426.80" font-size="29.6" fill="#000" textLength="33.11" lengthAdjust="spacingAndGlyphs">40</text>
<text x="459.84" y="507.00" font-size="29.6" fill="#000" textLength="32.08" lengthAdjust="spacingAndGlyphs">15</text>
<text x="459.85" y="559.00" font-size="29.6" fill="#000" textLength="31.92" lengthAdjust="spacingAndGlyphs">10</text>
<text x="583.49" y="607.30" font-size="29.8" fill="#000" textLength="25.86" lengthAdjust="spacingAndGlyphs">-4</text>
<text x="676.66" y="607.30" font-size="29.8" fill="#000" textLength="26.51" lengthAdjust="spacingAndGlyphs">-2</text>
<text x="785.16" y="607.30" font-size="29.8" fill="#000" textLength="15.87" lengthAdjust="spacingAndGlyphs">0</text>
<text x="886.57" y="607.30" font-size="29.8" fill="#000" textLength="16.99" lengthAdjust="spacingAndGlyphs">2</text>
<text x="985.91" y="607.30" font-size="29.8" fill="#000" textLength="16.41" lengthAdjust="spacingAndGlyphs">4</text>
<text x="1084.75" y="607.30" font-size="29.8" fill="#000" textLength="17.22" lengthAdjust="spacingAndGlyphs">6</text>
<text x="716.94" y="634.40" font-size="29.9" fill="#000" textLength="183.34" lengthAdjust="spacingAndGlyphs">Distance (nm)</text>
<g transform="translate(451.3,0) rotate(-90)"><text x="-578.06" y="0.00" font-size="30" fill="#000" textLength="267.95" lengthAdjust="spacingAndGlyphs">Concentration (at.%)</text></g>
<polyline points="513.4,384.5 523.4,383.3 533.4,391.2 543.4,385.7 553.3,379.7 563.3,386.4 573.3,383.9 583.3,388.2 593.3,387.0 603.3,383.3 613.3,383.9 623.3,386.4 633.3,380.3 643.3,381.5 653.2,382.5 663.2,379.3 673.2,371.5 683.2,378.6 693.2,373.6 703.2,374.3 713.2,366.6 723.2,368.7 733.2,365.2 743.2,360.3 753.1,364.5 763.1,371.5 773.1,361.0 783.1,363.8 793.1,365.1 803.1,360.2 813.1,359.5 823.1,360.2 833.1,357.4 843.1,358.8 853.0,363.0 863.0,359.5 873.0,363.7 883.0,356.0 893.0,363.7 903.0,365.8 913.0,358.1 923.0,360.2 933.0,358.1 943.0,365.2 952.9,366.6 962.9,363.1 972.9,367.4 982.9,361.0 992.9,367.4 1002.9,373.7 1012.9,365.2 1022.9,363.1 1032.9,356.1 1042.9,358.2 1052.8,377.2 1062.8,366.6 1072.8,361.0 1082.8,363.8 1092.8,368.8 1102.8,369.5" fill="none" stroke="#dc2828" stroke-width="1"/><g fill="#fbe4e4" stroke="#dc2828" stroke-width="1.5"><polygon points="513.4,379.7 518.6,388.7 508.2,388.7"/><polygon points="523.4,378.5 528.6,387.5 518.2,387.5"/><polygon points="533.4,386.4 538.6,395.4 528.2,395.4"/><polygon points="543.4,380.9 548.6,389.9 538.2,389.9"/><polygon points="553.3,374.9 558.5,383.9 548.1,383.9"/><polygon points="563.3,381.6 568.5,390.6 558.1,390.6"/><polygon points="573.3,379.1 578.5,388.1 568.1,388.1"/><polygon points="583.3,383.4 588.5,392.4 578.1,392.4"/><polygon points="593.3,382.2 598.5,391.2 588.1,391.2"/><polygon points="603.3,378.5 608.5,387.5 598.1,387.5"/><polygon points="613.3,379.1 618.5,388.1 608.1,388.1"/><polygon points="623.3,381.6 628.5,390.6 618.1,390.6"/><polygon points="633.3,375.5 638.5,384.5 628.1,384.5"/><polygon points="643.3,376.7 648.5,385.7 638.1,385.7"/><polygon points="653.2,377.7 658.4,386.7 648.0,386.7"/><polygon points="663.2,374.5 668.4,383.5 658.0,383.5"/><polygon points="673.2,366.7 678.4,375.7 668.0,375.7"/><polygon points="683.2,373.8 688.4,382.8 678.0,382.8"/><polygon points="693.2,368.8 698.4,377.8 688.0,377.8"/><polygon points="703.2,369.5 708.4,378.5 698.0,378.5"/><polygon points="713.2,361.8 718.4,370.8 708.0,370.8"/><polygon points="723.2,363.9 728.4,372.9 718.0,372.9"/><polygon points="733.2,360.4 738.4,369.4 728.0,369.4"/><polygon points="743.2,355.5 748.4,364.5 738.0,364.5"/><polygon points="753.1,359.7 758.3,368.7 747.9,368.7"/><polygon points="763.1,366.7 768.3,375.7 757.9,375.7"/><polygon points="773.1,356.2 778.3,365.2 767.9,365.2"/><polygon points="783.1,359.0 788.3,368.0 777.9,368.0"/><polygon points="793.1,360.3 798.3,369.3 787.9,369.3"/><polygon points="803.1,355.4 808.3,364.4 797.9,364.4"/><polygon points="813.1,354.7 818.3,363.7 807.9,363.7"/><polygon points="823.1,355.4 828.3,364.4 817.9,364.4"/><polygon points="833.1,352.6 838.3,361.6 827.9,361.6"/><polygon points="843.1,354.0 848.3,363.0 837.9,363.0"/><polygon points="853.0,358.2 858.2,367.2 847.8,367.2"/><polygon points="863.0,354.7 868.2,363.7 857.8,363.7"/><polygon points="873.0,358.9 878.2,367.9 867.8,367.9"/><polygon points="883.0,351.2 888.2,360.2 877.8,360.2"/><polygon points="893.0,358.9 898.2,367.9 887.8,367.9"/><polygon points="903.0,361.0 908.2,370.0 897.8,370.0"/><polygon points="913.0,353.3 918.2,362.3 907.8,362.3"/><polygon points="923.0,355.4 928.2,364.4 917.8,364.4"/><polygon points="933.0,353.3 938.2,362.3 927.8,362.3"/><polygon points="943.0,360.4 948.2,369.4 937.8,369.4"/><polygon points="952.9,361.8 958.1,370.8 947.7,370.8"/><polygon points="962.9,358.3 968.1,367.3 957.7,367.3"/><polygon points="972.9,362.6 978.1,371.6 967.7,371.6"/><polygon points="982.9,356.2 988.1,365.2 977.7,365.2"/><polygon points="992.9,362.6 998.1,371.6 987.7,371.6"/><polygon points="1002.9,368.9 1008.1,377.9 997.7,377.9"/><polygon points="1012.9,360.4 1018.1,369.4 1007.7,369.4"/><polygon points="1022.9,358.3 1028.1,367.3 1017.7,367.3"/><polygon points="1032.9,351.3 1038.1,360.3 1027.7,360.3"/><polygon points="1042.9,353.4 1048.1,362.4 1037.7,362.4"/><polygon points="1052.8,372.4 1058.0,381.4 1047.6,381.4"/><polygon points="1062.8,361.8 1068.0,370.8 1057.6,370.8"/><polygon points="1072.8,356.2 1078.0,365.2 1067.6,365.2"/><polygon points="1082.8,359.0 1088.0,368.0 1077.6,368.0"/><polygon points="1092.8,364.0 1098.0,373.0 1087.6,373.0"/><polygon points="1102.8,364.7 1108.0,373.7 1097.6,373.7"/></g><path d="M513.4 380.0V389.0M508.6 380.0h9.6M508.6 389.0h9.6M523.4 378.8V387.8M518.6 378.8h9.6M518.6 387.8h9.6M533.4 386.7V395.7M528.6 386.7h9.6M528.6 395.7h9.6M543.4 381.2V390.2M538.6 381.2h9.6M538.6 390.2h9.6M553.3 375.2V384.2M548.5 375.2h9.6M548.5 384.2h9.6M563.3 381.9V390.9M558.5 381.9h9.6M558.5 390.9h9.6M573.3 379.4V388.4M568.5 379.4h9.6M568.5 388.4h9.6M583.3 383.7V392.7M578.5 383.7h9.6M578.5 392.7h9.6M593.3 382.5V391.5M588.5 382.5h9.6M588.5 391.5h9.6M603.3 378.8V387.8M598.5 378.8h9.6M598.5 387.8h9.6M613.3 379.4V388.4M608.5 379.4h9.6M608.5 388.4h9.6M623.3 381.9V390.9M618.5 381.9h9.6M618.5 390.9h9.6M633.3 375.8V384.8M628.5 375.8h9.6M628.5 384.8h9.6M643.3 377.0V386.0M638.5 377.0h9.6M638.5 386.0h9.6M653.2 378.0V387.0M648.4 378.0h9.6M648.4 387.0h9.6M663.2 374.8V383.8M658.4 374.8h9.6M658.4 383.8h9.6M673.2 367.0V376.0M668.4 367.0h9.6M668.4 376.0h9.6M683.2 374.1V383.1M678.4 374.1h9.6M678.4 383.1h9.6M693.2 369.1V378.1M688.4 369.1h9.6M688.4 378.1h9.6M703.2 369.8V378.8M698.4 369.8h9.6M698.4 378.8h9.6M713.2 362.1V371.1M708.4 362.1h9.6M708.4 371.1h9.6M723.2 364.2V373.2M718.4 364.2h9.6M718.4 373.2h9.6M733.2 360.7V369.7M728.4 360.7h9.6M728.4 369.7h9.6M743.2 355.8V364.8M738.4 355.8h9.6M738.4 364.8h9.6M753.1 360.0V369.0M748.3 360.0h9.6M748.3 369.0h9.6M763.1 367.0V376.0M758.3 367.0h9.6M758.3 376.0h9.6M773.1 356.5V365.5M768.3 356.5h9.6M768.3 365.5h9.6M783.1 359.3V368.3M778.3 359.3h9.6M778.3 368.3h9.6M793.1 360.6V369.6M788.3 360.6h9.6M788.3 369.6h9.6M803.1 355.7V364.7M798.3 355.7h9.6M798.3 364.7h9.6M813.1 355.0V364.0M808.3 355.0h9.6M808.3 364.0h9.6M823.1 355.7V364.7M818.3 355.7h9.6M818.3 364.7h9.6M833.1 352.9V361.9M828.3 352.9h9.6M828.3 361.9h9.6M843.1 354.3V363.3M838.3 354.3h9.6M838.3 363.3h9.6M853.0 358.5V367.5M848.2 358.5h9.6M848.2 367.5h9.6M863.0 355.0V364.0M858.2 355.0h9.6M858.2 364.0h9.6M873.0 359.2V368.2M868.2 359.2h9.6M868.2 368.2h9.6M883.0 351.5V360.5M878.2 351.5h9.6M878.2 360.5h9.6M893.0 359.2V368.2M888.2 359.2h9.6M888.2 368.2h9.6M903.0 361.3V370.3M898.2 361.3h9.6M898.2 370.3h9.6M913.0 352.6V363.6M908.2 352.6h9.6M908.2 363.6h9.6M923.0 354.7V365.7M918.2 354.7h9.6M918.2 365.7h9.6M933.0 352.6V363.6M928.2 352.6h9.6M928.2 363.6h9.6M943.0 359.7V370.7M938.2 359.7h9.6M938.2 370.7h9.6M952.9 361.1V372.1M948.1 361.1h9.6M948.1 372.1h9.6M962.9 357.6V368.6M958.1 357.6h9.6M958.1 368.6h9.6M972.9 361.9V372.9M968.1 361.9h9.6M968.1 372.9h9.6M982.9 355.5V366.5M978.1 355.5h9.6M978.1 366.5h9.6M992.9 359.4V375.4M987.4 359.4h11.0M987.4 375.4h11.0M1002.9 365.7V381.7M997.4 365.7h11.0M997.4 381.7h11.0M1012.9 357.2V373.2M1007.4 357.2h11.0M1007.4 373.2h11.0M1022.9 355.1V371.1M1017.4 355.1h11.0M1017.4 371.1h11.0M1032.9 348.1V364.1M1027.4 348.1h11.0M1027.4 364.1h11.0M1042.9 350.2V366.2M1037.4 350.2h11.0M1037.4 366.2h11.0M1052.8 369.2V385.2M1047.3 369.2h11.0M1047.3 385.2h11.0M1062.8 358.6V374.6M1057.3 358.6h11.0M1057.3 374.6h11.0M1072.8 353.0V369.0M1067.3 353.0h11.0M1067.3 369.0h11.0M1082.8 355.8V371.8M1077.3 355.8h11.0M1077.3 371.8h11.0M1092.8 360.8V376.8M1087.3 360.8h11.0M1087.3 376.8h11.0M1102.8 361.5V377.5M1097.3 361.5h11.0M1097.3 377.5h11.0" stroke="#e03030" stroke-width="1" fill="none" opacity="0.85"/>
<polyline points="513.4,414.1 523.4,420.1 533.4,411.1 543.4,417.7 553.3,417.7 563.3,415.3 573.3,418.3 583.3,411.7 593.3,414.7 603.3,413.5 613.3,414.7 623.3,409.3 633.3,416.5 643.3,417.7 653.2,411.2 663.2,415.7 673.2,420.6 683.2,417.8 693.2,415.0 703.2,412.2 713.2,415.7 723.2,411.5 733.2,412.2 743.2,415.7 753.1,412.9 763.1,403.8 773.1,410.1 783.1,403.1 793.1,403.8 803.1,407.2 813.1,405.8 823.1,399.5 833.1,407.9 843.1,404.4 853.0,394.6 863.0,400.2 873.0,395.3 883.0,398.8 893.0,393.9 903.0,393.9 913.0,400.9 923.0,398.1 933.0,403.0 943.0,392.7 952.9,395.5 962.9,395.5 972.9,395.5 982.9,399.7 992.9,392.0 1002.9,384.9 1012.9,391.3 1022.9,408.1 1032.9,403.9 1042.9,392.7 1052.8,389.2 1062.8,392.7 1072.8,399.7 1082.8,392.7 1092.8,403.9 1102.8,401.8" fill="none" stroke="#f0a040" stroke-width="1"/><g fill="#fdf0e0" stroke="#f0a040" stroke-width="1.5"><circle cx="513.4" cy="414.1" r="4.6"/><circle cx="523.4" cy="420.1" r="4.6"/><circle cx="533.4" cy="411.1" r="4.6"/><circle cx="543.4" cy="417.7" r="4.6"/><circle cx="553.3" cy="417.7" r="4.6"/><circle cx="563.3" cy="415.3" r="4.6"/><circle cx="573.3" cy="418.3" r="4.6"/><circle cx="583.3" cy="411.7" r="4.6"/><circle cx="593.3" cy="414.7" r="4.6"/><circle cx="603.3" cy="413.5" r="4.6"/><circle cx="613.3" cy="414.7" r="4.6"/><circle cx="623.3" cy="409.3" r="4.6"/><circle cx="633.3" cy="416.5" r="4.6"/><circle cx="643.3" cy="417.7" r="4.6"/><circle cx="653.2" cy="411.2" r="4.6"/><circle cx="663.2" cy="415.7" r="4.6"/><circle cx="673.2" cy="420.6" r="4.6"/><circle cx="683.2" cy="417.8" r="4.6"/><circle cx="693.2" cy="415.0" r="4.6"/><circle cx="703.2" cy="412.2" r="4.6"/><circle cx="713.2" cy="415.7" r="4.6"/><circle cx="723.2" cy="411.5" r="4.6"/><circle cx="733.2" cy="412.2" r="4.6"/><circle cx="743.2" cy="415.7" r="4.6"/><circle cx="753.1" cy="412.9" r="4.6"/><circle cx="763.1" cy="403.8" r="4.6"/><circle cx="773.1" cy="410.1" r="4.6"/><circle cx="783.1" cy="403.1" r="4.6"/><circle cx="793.1" cy="403.8" r="4.6"/><circle cx="803.1" cy="407.2" r="4.6"/><circle cx="813.1" cy="405.8" r="4.6"/><circle cx="823.1" cy="399.5" r="4.6"/><circle cx="833.1" cy="407.9" r="4.6"/><circle cx="843.1" cy="404.4" r="4.6"/><circle cx="853.0" cy="394.6" r="4.6"/><circle cx="863.0" cy="400.2" r="4.6"/><circle cx="873.0" cy="395.3" r="4.6"/><circle cx="883.0" cy="398.8" r="4.6"/><circle cx="893.0" cy="393.9" r="4.6"/><circle cx="903.0" cy="393.9" r="4.6"/><circle cx="913.0" cy="400.9" r="4.6"/><circle cx="923.0" cy="398.1" r="4.6"/><circle cx="933.0" cy="403.0" r="4.6"/><circle cx="943.0" cy="392.7" r="4.6"/><circle cx="952.9" cy="395.5" r="4.6"/><circle cx="962.9" cy="395.5" r="4.6"/><circle cx="972.9" cy="395.5" r="4.6"/><circle cx="982.9" cy="399.7" r="4.6"/><circle cx="992.9" cy="392.0" r="4.6"/><circle cx="1002.9" cy="384.9" r="4.6"/><circle cx="1012.9" cy="391.3" r="4.6"/><circle cx="1022.9" cy="408.1" r="4.6"/><circle cx="1032.9" cy="403.9" r="4.6"/><circle cx="1042.9" cy="392.7" r="4.6"/><circle cx="1052.8" cy="389.2" r="4.6"/><circle cx="1062.8" cy="392.7" r="4.6"/><circle cx="1072.8" cy="399.7" r="4.6"/><circle cx="1082.8" cy="392.7" r="4.6"/><circle cx="1092.8" cy="403.9" r="4.6"/><circle cx="1102.8" cy="401.8" r="4.6"/></g><path d="M513.4 410.9V417.3M508.6 410.9h9.6M508.6 417.3h9.6M523.4 416.9V423.3M518.6 416.9h9.6M518.6 423.3h9.6M533.4 407.9V414.3M528.6 407.9h9.6M528.6 414.3h9.6M543.4 414.5V420.9M538.6 414.5h9.6M538.6 420.9h9.6M553.3 414.5V420.9M548.5 414.5h9.6M548.5 420.9h9.6M563.3 412.1V418.5M558.5 412.1h9.6M558.5 418.5h9.6M573.3 415.1V421.5M568.5 415.1h9.6M568.5 421.5h9.6M583.3 408.5V414.9M578.5 408.5h9.6M578.5 414.9h9.6M593.3 411.5V417.9M588.5 411.5h9.6M588.5 417.9h9.6M603.3 410.3V416.7M598.5 410.3h9.6M598.5 416.7h9.6M613.3 411.5V417.9M608.5 411.5h9.6M608.5 417.9h9.6M623.3 406.1V412.5M618.5 406.1h9.6M618.5 412.5h9.6M633.3 413.3V419.7M628.5 413.3h9.6M628.5 419.7h9.6M643.3 414.5V420.9M638.5 414.5h9.6M638.5 420.9h9.6M653.2 408.0V414.4M648.4 408.0h9.6M648.4 414.4h9.6M663.2 412.5V418.9M658.4 412.5h9.6M658.4 418.9h9.6M673.2 417.4V423.8M668.4 417.4h9.6M668.4 423.8h9.6M683.2 414.6V421.0M678.4 414.6h9.6M678.4 421.0h9.6M693.2 411.8V418.2M688.4 411.8h9.6M688.4 418.2h9.6M703.2 409.0V415.4M698.4 409.0h9.6M698.4 415.4h9.6M713.2 412.5V418.9M708.4 412.5h9.6M708.4 418.9h9.6M723.2 408.3V414.7M718.4 408.3h9.6M718.4 414.7h9.6M733.2 409.0V415.4M728.4 409.0h9.6M728.4 415.4h9.6M743.2 412.5V418.9M738.4 412.5h9.6M738.4 418.9h9.6M753.1 409.7V416.1M748.3 409.7h9.6M748.3 416.1h9.6M763.1 400.6V407.0M758.3 400.6h9.6M758.3 407.0h9.6M773.1 406.9V413.3M768.3 406.9h9.6M768.3 413.3h9.6M783.1 399.9V406.3M778.3 399.9h9.6M778.3 406.3h9.6M793.1 400.6V407.0M788.3 400.6h9.6M788.3 407.0h9.6M803.1 404.0V410.4M798.3 404.0h9.6M798.3 410.4h9.6M813.1 402.6V409.0M808.3 402.6h9.6M808.3 409.0h9.6M823.1 396.3V402.7M818.3 396.3h9.6M818.3 402.7h9.6M833.1 404.7V411.1M828.3 404.7h9.6M828.3 411.1h9.6M843.1 401.2V407.6M838.3 401.2h9.6M838.3 407.6h9.6M853.0 391.4V397.8M848.2 391.4h9.6M848.2 397.8h9.6M863.0 397.0V403.4M858.2 397.0h9.6M858.2 403.4h9.6M873.0 392.1V398.5M868.2 392.1h9.6M868.2 398.5h9.6M883.0 395.6V402.0M878.2 395.6h9.6M878.2 402.0h9.6M893.0 390.7V397.1M888.2 390.7h9.6M888.2 397.1h9.6M903.0 390.7V397.1M898.2 390.7h9.6M898.2 397.1h9.6M913.0 396.4V405.4M908.2 396.4h9.6M908.2 405.4h9.6M923.0 393.6V402.6M918.2 393.6h9.6M918.2 402.6h9.6M933.0 398.5V407.5M928.2 398.5h9.6M928.2 407.5h9.6M943.0 388.2V397.2M938.2 388.2h9.6M938.2 397.2h9.6M952.9 391.0V400.0M948.1 391.0h9.6M948.1 400.0h9.6M962.9 391.0V400.0M958.1 391.0h9.6M958.1 400.0h9.6M972.9 391.0V400.0M968.1 391.0h9.6M968.1 400.0h9.6M982.9 395.2V404.2M978.1 395.2h9.6M978.1 404.2h9.6M992.9 383.5V400.5M987.4 383.5h11.0M987.4 400.5h11.0M1002.9 376.4V393.4M997.4 376.4h11.0M997.4 393.4h11.0M1012.9 382.8V399.8M1007.4 382.8h11.0M1007.4 399.8h11.0M1022.9 399.6V416.6M1017.4 399.6h11.0M1017.4 416.6h11.0M1032.9 395.4V412.4M1027.4 395.4h11.0M1027.4 412.4h11.0M1042.9 384.2V401.2M1037.4 384.2h11.0M1037.4 401.2h11.0M1052.8 380.7V397.7M1047.3 380.7h11.0M1047.3 397.7h11.0M1062.8 384.2V401.2M1057.3 384.2h11.0M1057.3 401.2h11.0M1072.8 391.2V408.2M1067.3 391.2h11.0M1067.3 408.2h11.0M1082.8 384.2V401.2M1077.3 384.2h11.0M1077.3 401.2h11.0M1092.8 395.4V412.4M1087.3 395.4h11.0M1087.3 412.4h11.0M1102.8 393.3V410.3M1097.3 393.3h11.0M1097.3 410.3h11.0" stroke="#f0a040" stroke-width="1" fill="none" opacity="0.85"/>
<polyline points="513.4,481.1 523.4,477.8 533.4,478.7 543.4,476.9 553.3,484.1 563.3,481.1 573.3,479.3 583.3,481.1 593.3,479.3 603.3,484.1 613.3,484.1 623.3,485.9 633.3,484.7 643.3,482.9 653.2,488.5 663.2,488.7 673.2,489.9 683.2,486.9 693.2,492.9 703.2,495.3 713.2,499.5 723.2,500.1 733.2,502.6 743.2,506.2 753.1,504.4 763.1,506.2 773.1,510.4 783.1,514.6 793.1,512.9 803.1,514.7 813.1,517.1 823.1,522.6 833.1,517.7 843.1,518.9 853.0,524.4 863.0,523.8 873.0,524.4 883.0,528.0 893.0,525.0 903.0,523.2 913.0,523.2 923.0,524.4 933.0,522.3 943.0,524.7 952.9,521.1 962.9,524.0 972.9,520.4 982.9,520.4 992.9,522.6 1002.9,524.0 1012.9,526.2 1022.9,511.7 1032.9,522.6 1042.9,532.0 1052.8,517.5 1062.8,522.6 1072.8,521.1 1082.8,525.5 1092.8,510.3 1102.8,512.4" fill="none" stroke="#2828d8" stroke-width="1"/><g fill="#dcdcf8" stroke="#2828d8" stroke-width="1.5"><rect x="509.0" y="476.7" width="8.8" height="8.8"/><rect x="519.0" y="473.4" width="8.8" height="8.8"/><rect x="529.0" y="474.3" width="8.8" height="8.8"/><rect x="539.0" y="472.5" width="8.8" height="8.8"/><rect x="548.9" y="479.7" width="8.8" height="8.8"/><rect x="558.9" y="476.7" width="8.8" height="8.8"/><rect x="568.9" y="474.9" width="8.8" height="8.8"/><rect x="578.9" y="476.7" width="8.8" height="8.8"/><rect x="588.9" y="474.9" width="8.8" height="8.8"/><rect x="598.9" y="479.7" width="8.8" height="8.8"/><rect x="608.9" y="479.7" width="8.8" height="8.8"/><rect x="618.9" y="481.5" width="8.8" height="8.8"/><rect x="628.9" y="480.3" width="8.8" height="8.8"/><rect x="638.9" y="478.5" width="8.8" height="8.8"/><rect x="648.8" y="484.1" width="8.8" height="8.8"/><rect x="658.8" y="484.3" width="8.8" height="8.8"/><rect x="668.8" y="485.5" width="8.8" height="8.8"/><rect x="678.8" y="482.5" width="8.8" height="8.8"/><rect x="688.8" y="488.5" width="8.8" height="8.8"/><rect x="698.8" y="490.9" width="8.8" height="8.8"/><rect x="708.8" y="495.1" width="8.8" height="8.8"/><rect x="718.8" y="495.7" width="8.8" height="8.8"/><rect x="728.8" y="498.2" width="8.8" height="8.8"/><rect x="738.8" y="501.8" width="8.8" height="8.8"/><rect x="748.7" y="500.0" width="8.8" height="8.8"/><rect x="758.7" y="501.8" width="8.8" height="8.8"/><rect x="768.7" y="506.0" width="8.8" height="8.8"/><rect x="778.7" y="510.2" width="8.8" height="8.8"/><rect x="788.7" y="508.5" width="8.8" height="8.8"/><rect x="798.7" y="510.3" width="8.8" height="8.8"/><rect x="808.7" y="512.7" width="8.8" height="8.8"/><rect x="818.7" y="518.2" width="8.8" height="8.8"/><rect x="828.7" y="513.3" width="8.8" height="8.8"/><rect x="838.7" y="514.5" width="8.8" height="8.8"/><rect x="848.6" y="520.0" width="8.8" height="8.8"/><rect x="858.6" y="519.4" width="8.8" height="8.8"/><rect x="868.6" y="520.0" width="8.8" height="8.8"/><rect x="878.6" y="523.6" width="8.8" height="8.8"/><rect x="888.6" y="520.6" width="8.8" height="8.8"/><rect x="898.6" y="518.8" width="8.8" height="8.8"/><rect x="908.6" y="518.8" width="8.8" height="8.8"/><rect x="918.6" y="520.0" width="8.8" height="8.8"/><rect x="928.6" y="517.9" width="8.8" height="8.8"/><rect x="938.6" y="520.3" width="8.8" height="8.8"/><rect x="948.5" y="516.7" width="8.8" height="8.8"/><rect x="958.5" y="519.6" width="8.8" height="8.8"/><rect x="968.5" y="516.0" width="8.8" height="8.8"/><rect x="978.5" y="516.0" width="8.8" height="8.8"/><rect x="988.5" y="518.2" width="8.8" height="8.8"/><rect x="998.5" y="519.6" width="8.8" height="8.8"/><rect x="1008.5" y="521.8" width="8.8" height="8.8"/><rect x="1018.5" y="507.3" width="8.8" height="8.8"/><rect x="1028.5" y="518.2" width="8.8" height="8.8"/><rect x="1038.5" y="527.6" width="8.8" height="8.8"/><rect x="1048.4" y="513.1" width="8.8" height="8.8"/><rect x="1058.4" y="518.2" width="8.8" height="8.8"/><rect x="1068.4" y="516.7" width="8.8" height="8.8"/><rect x="1078.4" y="521.1" width="8.8" height="8.8"/><rect x="1088.4" y="505.9" width="8.8" height="8.8"/><rect x="1098.4" y="508.0" width="8.8" height="8.8"/></g><path d="M513.4 479.1V483.1M508.6 479.1h9.6M508.6 483.1h9.6M523.4 475.8V479.8M518.6 475.8h9.6M518.6 479.8h9.6M533.4 476.7V480.7M528.6 476.7h9.6M528.6 480.7h9.6M543.4 474.9V478.9M538.6 474.9h9.6M538.6 478.9h9.6M553.3 482.1V486.1M548.5 482.1h9.6M548.5 486.1h9.6M563.3 479.1V483.1M558.5 479.1h9.6M558.5 483.1h9.6M573.3 477.3V481.3M568.5 477.3h9.6M568.5 481.3h9.6M583.3 479.1V483.1M578.5 479.1h9.6M578.5 483.1h9.6M593.3 477.3V481.3M588.5 477.3h9.6M588.5 481.3h9.6M603.3 482.1V486.1M598.5 482.1h9.6M598.5 486.1h9.6M613.3 482.1V486.1M608.5 482.1h9.6M608.5 486.1h9.6M623.3 483.9V487.9M618.5 483.9h9.6M618.5 487.9h9.6M633.3 482.7V486.7M628.5 482.7h9.6M628.5 486.7h9.6M643.3 480.9V484.9M638.5 480.9h9.6M638.5 484.9h9.6M653.2 486.5V490.5M648.4 486.5h9.6M648.4 490.5h9.6M663.2 486.7V490.7M658.4 486.7h9.6M658.4 490.7h9.6M673.2 487.9V491.9M668.4 487.9h9.6M668.4 491.9h9.6M683.2 484.9V488.9M678.4 484.9h9.6M678.4 488.9h9.6M693.2 490.9V494.9M688.4 490.9h9.6M688.4 494.9h9.6M703.2 493.3V497.3M698.4 493.3h9.6M698.4 497.3h9.6M713.2 497.5V501.5M708.4 497.5h9.6M708.4 501.5h9.6M723.2 498.1V502.1M718.4 498.1h9.6M718.4 502.1h9.6M733.2 500.6V504.6M728.4 500.6h9.6M728.4 504.6h9.6M743.2 504.2V508.2M738.4 504.2h9.6M738.4 508.2h9.6M753.1 502.4V506.4M748.3 502.4h9.6M748.3 506.4h9.6M763.1 504.2V508.2M758.3 504.2h9.6M758.3 508.2h9.6M773.1 508.4V512.4M768.3 508.4h9.6M768.3 512.4h9.6M783.1 512.6V516.6M778.3 512.6h9.6M778.3 516.6h9.6M793.1 510.9V514.9M788.3 510.9h9.6M788.3 514.9h9.6M803.1 512.7V516.7M798.3 512.7h9.6M798.3 516.7h9.6M813.1 515.1V519.1M808.3 515.1h9.6M808.3 519.1h9.6M823.1 520.6V524.6M818.3 520.6h9.6M818.3 524.6h9.6M833.1 515.7V519.7M828.3 515.7h9.6M828.3 519.7h9.6M843.1 516.9V520.9M838.3 516.9h9.6M838.3 520.9h9.6M853.0 522.4V526.4M848.2 522.4h9.6M848.2 526.4h9.6M863.0 521.8V525.8M858.2 521.8h9.6M858.2 525.8h9.6M873.0 522.4V526.4M868.2 522.4h9.6M868.2 526.4h9.6M883.0 526.0V530.0M878.2 526.0h9.6M878.2 530.0h9.6M893.0 523.0V527.0M888.2 523.0h9.6M888.2 527.0h9.6M903.0 521.2V525.2M898.2 521.2h9.6M898.2 525.2h9.6M913.0 521.2V525.2M908.2 521.2h9.6M908.2 525.2h9.6M923.0 522.4V526.4M918.2 522.4h9.6M918.2 526.4h9.6M933.0 520.3V524.3M928.2 520.3h9.6M928.2 524.3h9.6M943.0 522.7V526.7M938.2 522.7h9.6M938.2 526.7h9.6M952.9 519.1V523.1M948.1 519.1h9.6M948.1 523.1h9.6M962.9 522.0V526.0M958.1 522.0h9.6M958.1 526.0h9.6M972.9 518.4V522.4M968.1 518.4h9.6M968.1 522.4h9.6M982.9 518.4V522.4M978.1 518.4h9.6M978.1 522.4h9.6M992.9 520.6V524.6M987.4 520.6h11.0M987.4 524.6h11.0M1002.9 522.0V526.0M997.4 522.0h11.0M997.4 526.0h11.0M1012.9 519.7V532.7M1007.4 519.7h11.0M1007.4 532.7h11.0M1022.9 505.2V518.2M1017.4 505.2h11.0M1017.4 518.2h11.0M1032.9 516.1V529.1M1027.4 516.1h11.0M1027.4 529.1h11.0M1042.9 525.5V538.5M1037.4 525.5h11.0M1037.4 538.5h11.0M1052.8 511.0V524.0M1047.3 511.0h11.0M1047.3 524.0h11.0M1062.8 516.1V529.1M1057.3 516.1h11.0M1057.3 529.1h11.0M1072.8 514.6V527.6M1067.3 514.6h11.0M1067.3 527.6h11.0M1082.8 519.0V532.0M1077.3 519.0h11.0M1077.3 532.0h11.0M1092.8 503.8V516.8M1087.3 503.8h11.0M1087.3 516.8h11.0M1102.8 505.9V518.9M1097.3 505.9h11.0M1097.3 518.9h11.0" stroke="#3030d8" stroke-width="1" fill="none" opacity="0.85"/>
<line x1="733.6" y1="322.7" x2="733.6" y2="553" stroke="#000" stroke-width="3" stroke-dasharray="16.8 18.7"/>
<text x="575.23" y="525.80" font-size="32.6" fill="#000" textLength="90.67" lengthAdjust="spacingAndGlyphs">matrix</text>
<text x="841.18" y="469.60" font-size="28.3" fill="#1a8c1e" textLength="193.40" lengthAdjust="spacingAndGlyphs">poor-P regions</text>
<g stroke-width="1.5" fill="#fff">
<line x1="1123.2" y1="327.2" x2="1188.6" y2="327.2" stroke="#2020c0"/>
<rect x="1150.6" y="322.5" width="9.4" height="9.4" stroke="#2020c0"/>
<circle cx="1155.3" cy="327.2" r="0.9" fill="#2020c0" stroke="none"/>
<line x1="1123.2" y1="362.6" x2="1188.6" y2="362.6" stroke="#e89030"/>
<circle cx="1155.1" cy="362.6" r="4.6" stroke="#e89030"/>
<line x1="1123.2" y1="398.6" x2="1188.6" y2="398.6" stroke="#d02020"/>
<polygon points="1155.9,392 1161.4,402.7 1150.4,402.7" stroke="#d02020"/>
</g>
<text x="1196.01" y="337.00" font-size="29.7" fill="#1414c8" textLength="19.95" lengthAdjust="spacingAndGlyphs">P</text>
<text x="1196.02" y="373.00" font-size="29.3" fill="#f0961e" textLength="28.15" lengthAdjust="spacingAndGlyphs">Ni</text>
<text x="1195.99" y="408.10" font-size="28.8" fill="#d01818" textLength="36.87" lengthAdjust="spacingAndGlyphs">Pd</text>
</svg>
</body></html>
